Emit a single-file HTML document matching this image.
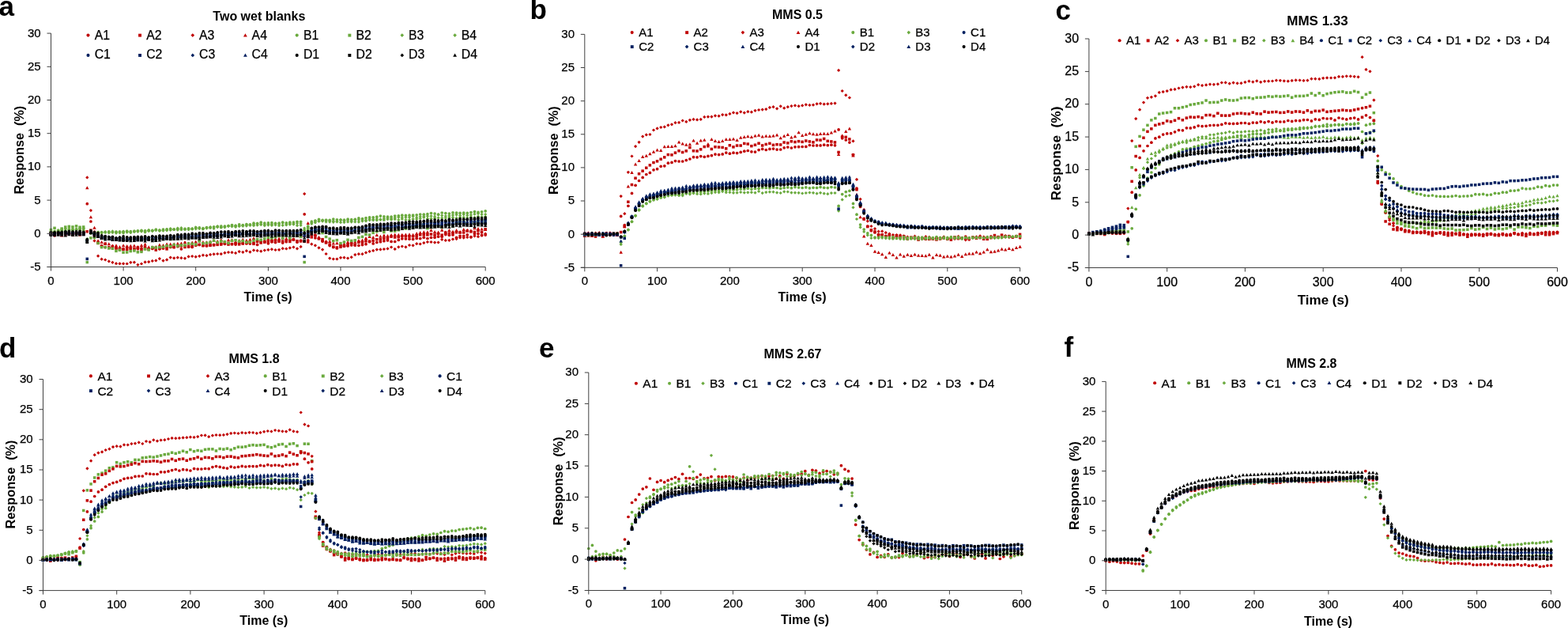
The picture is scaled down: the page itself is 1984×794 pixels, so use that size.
<!DOCTYPE html><html><head><meta charset="utf-8"><title>Response vs time</title><style>html,body{margin:0;padding:0;background:#fff;overflow:hidden}svg{display:block}.r{stroke:#000;stroke-width:0.25px}</style></head><body><svg width="1984" height="794" viewBox="0 0 1984 794" font-family='"Liberation Sans", Arial, Helvetica, sans-serif' fill="#000"><defs><marker id="mcR" markerUnits="userSpaceOnUse" markerWidth="8" markerHeight="8" refX="4" refY="4" overflow="visible"><circle cx="4.0" cy="4.0" r="1.85" fill="#c00000"/></marker><marker id="mcG" markerUnits="userSpaceOnUse" markerWidth="8" markerHeight="8" refX="4" refY="4" overflow="visible"><circle cx="4.0" cy="4.0" r="1.85" fill="#6aaa3e"/></marker><marker id="mcN" markerUnits="userSpaceOnUse" markerWidth="8" markerHeight="8" refX="4" refY="4" overflow="visible"><circle cx="4.0" cy="4.0" r="1.85" fill="#002060"/></marker><marker id="mcK" markerUnits="userSpaceOnUse" markerWidth="8" markerHeight="8" refX="4" refY="4" overflow="visible"><circle cx="4.0" cy="4.0" r="1.85" fill="#000000"/></marker><marker id="msR" markerUnits="userSpaceOnUse" markerWidth="8" markerHeight="8" refX="4" refY="4" overflow="visible"><rect x="2.2" y="2.2" width="3.5" height="3.5" fill="#c00000"/></marker><marker id="msG" markerUnits="userSpaceOnUse" markerWidth="8" markerHeight="8" refX="4" refY="4" overflow="visible"><rect x="2.2" y="2.2" width="3.5" height="3.5" fill="#6aaa3e"/></marker><marker id="msN" markerUnits="userSpaceOnUse" markerWidth="8" markerHeight="8" refX="4" refY="4" overflow="visible"><rect x="2.2" y="2.2" width="3.5" height="3.5" fill="#002060"/></marker><marker id="msK" markerUnits="userSpaceOnUse" markerWidth="8" markerHeight="8" refX="4" refY="4" overflow="visible"><rect x="2.2" y="2.2" width="3.5" height="3.5" fill="#000000"/></marker><marker id="mdR" markerUnits="userSpaceOnUse" markerWidth="8" markerHeight="8" refX="4" refY="4" overflow="visible"><path d="M4.0 1.9L6.1 4.0L4.0 6.1L1.9 4.0Z" fill="#c00000"/></marker><marker id="mdG" markerUnits="userSpaceOnUse" markerWidth="8" markerHeight="8" refX="4" refY="4" overflow="visible"><path d="M4.0 1.9L6.1 4.0L4.0 6.1L1.9 4.0Z" fill="#6aaa3e"/></marker><marker id="mdN" markerUnits="userSpaceOnUse" markerWidth="8" markerHeight="8" refX="4" refY="4" overflow="visible"><path d="M4.0 1.9L6.1 4.0L4.0 6.1L1.9 4.0Z" fill="#002060"/></marker><marker id="mdK" markerUnits="userSpaceOnUse" markerWidth="8" markerHeight="8" refX="4" refY="4" overflow="visible"><path d="M4.0 1.9L6.1 4.0L4.0 6.1L1.9 4.0Z" fill="#000000"/></marker><marker id="mtR" markerUnits="userSpaceOnUse" markerWidth="8" markerHeight="8" refX="4" refY="4" overflow="visible"><path d="M4.0 1.8L6.2 5.8L1.8 5.8Z" fill="#c00000"/></marker><marker id="mtG" markerUnits="userSpaceOnUse" markerWidth="8" markerHeight="8" refX="4" refY="4" overflow="visible"><path d="M4.0 1.8L6.2 5.8L1.8 5.8Z" fill="#6aaa3e"/></marker><marker id="mtN" markerUnits="userSpaceOnUse" markerWidth="8" markerHeight="8" refX="4" refY="4" overflow="visible"><path d="M4.0 1.8L6.2 5.8L1.8 5.8Z" fill="#002060"/></marker><marker id="mtK" markerUnits="userSpaceOnUse" markerWidth="8" markerHeight="8" refX="4" refY="4" overflow="visible"><path d="M4.0 1.8L6.2 5.8L1.8 5.8Z" fill="#000000"/></marker></defs><polyline points="64.5,295.0 69.1,294.5 73.7,295.0 78.2,296.5 82.8,294.5 87.4,294.9 92.0,295.8 96.6,294.8 101.1,295.0 105.7,295.0 110.3,224.4 114.9,266.1 119.5,304.4 124.1,323.7 128.6,327.7 133.2,328.5 137.8,330.4 142.4,331.8 147.0,333.2 151.5,333.3 156.1,333.3 160.7,333.5 165.3,331.8 169.9,331.7 174.4,334.8 179.0,333.5 183.6,331.4 188.2,331.1 192.8,329.9 197.3,329.4 201.9,327.1 206.5,329.6 211.1,328.4 215.7,325.6 220.2,326.3 224.8,325.7 229.4,326.2 234.0,326.7 238.6,324.4 243.2,324.0 247.7,324.7 252.3,323.8 256.9,322.7 261.5,323.1 266.1,321.9 270.6,321.3 275.2,321.0 279.8,321.1 284.4,319.7 289.0,319.0 293.5,319.2 298.1,319.9 302.7,318.1 307.3,318.8 311.9,317.2 316.4,318.6 321.0,316.4 325.6,316.9 330.2,317.7 334.8,316.5 339.4,315.8 343.9,315.2 348.5,316.0 353.1,315.8 357.7,314.2 362.3,314.5 366.8,313.4 371.4,312.5 376.0,314.3 380.6,311.9 385.2,245.1 389.7,303.7 394.3,308.7 398.9,310.3 403.5,313.3 408.1,315.6 412.6,321.0 417.2,326.6 421.8,327.5 426.4,327.5 431.0,325.8 435.5,325.7 440.1,326.5 444.7,325.2 449.3,322.1 453.9,321.2 458.5,321.2 463.0,319.4 467.6,317.9 472.2,316.9 476.8,315.6 481.4,315.4 485.9,315.0 490.5,314.4 495.1,312.5 499.7,314.9 504.3,312.3 508.8,311.5 513.4,312.3 518.0,310.0 522.6,310.3 527.2,308.2 531.7,308.5 536.3,307.1 540.9,305.9 545.5,306.0 550.1,306.6 554.6,306.5 559.2,302.8 563.8,303.9 568.4,303.8 573.0,302.4 577.6,302.1 582.1,300.5 586.7,300.6 591.3,300.0 595.9,300.1 600.5,298.4 605.0,299.2 609.6,297.0 614.2,295.6" fill="none" stroke="none" marker-start="url(#mdR)" marker-mid="url(#mdR)" marker-end="url(#mdR)"/>
<polyline points="64.5,295.1 69.1,295.8 73.7,295.7 78.2,297.8 82.8,293.5 87.4,294.1 92.0,295.6 96.6,294.5 101.1,295.0 105.7,295.9 110.3,237.5 114.9,274.5 119.5,288.0 124.1,304.5 128.6,306.1 133.2,308.1 137.8,308.5 142.4,310.6 147.0,310.5 151.5,312.1 156.1,310.5 160.7,311.1 165.3,311.0 169.9,310.8 174.4,312.2 179.0,310.3 183.6,308.9 188.2,312.5 192.8,312.5 197.3,312.2 201.9,309.6 206.5,310.1 211.1,308.8 215.7,308.7 220.2,308.6 224.8,308.0 229.4,307.8 234.0,306.2 238.6,307.7 243.2,306.6 247.7,305.6 252.3,303.8 256.9,306.2 261.5,306.4 266.1,305.8 270.6,304.1 275.2,305.2 279.8,303.5 284.4,306.7 289.0,303.5 293.5,303.5 298.1,305.9 302.7,304.2 307.3,303.0 311.9,304.0 316.4,302.9 321.0,301.3 325.6,303.2 330.2,303.5 334.8,303.7 339.4,302.0 343.9,302.5 348.5,302.1 353.1,301.6 357.7,300.4 362.3,301.7 366.8,301.7 371.4,302.2 376.0,298.0 380.6,298.6 385.2,297.8 389.7,282.2 394.3,294.4 398.9,297.0 403.5,300.0 408.1,303.3 412.6,305.5 417.2,305.2 421.8,307.6 426.4,307.5 431.0,308.2 435.5,308.4 440.1,306.2 444.7,306.4 449.3,305.9 453.9,304.1 458.5,303.6 463.0,301.2 467.6,299.1 472.2,300.2 476.8,297.2 481.4,298.9 485.9,297.6 490.5,298.3 495.1,297.3 499.7,296.7 504.3,296.9 508.8,296.9 513.4,296.6 518.0,296.4 522.6,296.9 527.2,295.2 531.7,294.3 536.3,293.4 540.9,293.4 545.5,291.2 550.1,293.1 554.6,293.6 559.2,290.9 563.8,293.6 568.4,291.2 573.0,292.9 577.6,291.3 582.1,293.3 586.7,290.1 591.3,290.9 595.9,291.5 600.5,288.5 605.0,289.2 609.6,289.6 614.2,290.1" fill="none" stroke="none" marker-start="url(#mtR)" marker-mid="url(#mtR)" marker-end="url(#mtR)"/>
<polyline points="64.5,293.2 69.1,297.9 73.7,294.9 78.2,295.9 82.8,295.8 87.4,295.5 92.0,297.3 96.6,295.5 101.1,296.2 105.7,291.9 110.3,257.7 114.9,280.0 119.5,293.1 124.1,306.1 128.6,311.1 133.2,312.6 137.8,312.6 142.4,314.0 147.0,313.3 151.5,314.8 156.1,314.7 160.7,313.1 165.3,314.1 169.9,315.1 174.4,314.7 179.0,313.9 183.6,312.4 188.2,314.5 192.8,314.4 197.3,313.0 201.9,314.8 206.5,314.0 211.1,312.5 215.7,312.5 220.2,312.6 224.8,311.7 229.4,314.8 234.0,310.5 238.6,312.1 243.2,312.5 247.7,310.2 252.3,309.5 256.9,310.4 261.5,310.9 266.1,309.5 270.6,309.4 275.2,307.7 279.8,308.2 284.4,308.5 289.0,307.4 293.5,308.6 298.1,309.1 302.7,307.4 307.3,307.2 311.9,307.8 316.4,308.1 321.0,306.9 325.6,309.4 330.2,305.9 334.8,305.9 339.4,307.8 343.9,305.8 348.5,306.6 353.1,304.6 357.7,307.1 362.3,305.7 366.8,303.8 371.4,303.1 376.0,306.2 380.6,304.2 385.2,270.8 389.7,299.5 394.3,297.1 398.9,300.8 403.5,301.4 408.1,305.2 412.6,305.8 417.2,310.6 421.8,312.6 426.4,313.9 431.0,310.5 435.5,311.3 440.1,310.9 444.7,310.0 449.3,310.1 453.9,310.3 458.5,309.6 463.0,308.7 467.6,305.7 472.2,307.9 476.8,306.5 481.4,305.7 485.9,304.7 490.5,304.0 495.1,305.4 499.7,305.5 504.3,303.4 508.8,301.8 513.4,302.0 518.0,302.2 522.6,302.4 527.2,301.4 531.7,301.6 536.3,300.2 540.9,301.5 545.5,300.3 550.1,300.2 554.6,299.2 559.2,299.2 563.8,296.6 568.4,297.3 573.0,297.0 577.6,300.3 582.1,298.3 586.7,298.3 591.3,296.9 595.9,299.5 600.5,295.7 605.0,295.6 609.6,297.7 614.2,297.1" fill="none" stroke="none" marker-start="url(#mcR)" marker-mid="url(#mcR)" marker-end="url(#mcR)"/>
<polyline points="64.5,296.0 69.1,295.5 73.7,293.6 78.2,294.6 82.8,297.0 87.4,295.3 92.0,295.9 96.6,295.1 101.1,296.9 105.7,295.1 110.3,292.8 114.9,291.2 119.5,297.5 124.1,307.4 128.6,311.1 133.2,308.2 137.8,313.5 142.4,311.6 147.0,314.1 151.5,315.3 156.1,315.4 160.7,315.4 165.3,314.3 169.9,314.7 174.4,313.0 179.0,316.3 183.6,314.4 188.2,315.2 192.8,313.3 197.3,316.1 201.9,314.2 206.5,313.5 211.1,314.9 215.7,312.1 220.2,312.6 224.8,311.3 229.4,311.0 234.0,312.5 238.6,311.9 243.2,311.0 247.7,309.7 252.3,309.4 256.9,310.7 261.5,310.4 266.1,310.4 270.6,309.9 275.2,309.4 279.8,309.1 284.4,306.7 289.0,309.1 293.5,308.7 298.1,307.7 302.7,308.9 307.3,308.1 311.9,307.5 316.4,306.6 321.0,308.4 325.6,305.5 330.2,307.0 334.8,306.2 339.4,305.3 343.9,305.2 348.5,304.5 353.1,305.2 357.7,305.1 362.3,304.5 366.8,305.5 371.4,303.0 376.0,304.8 380.6,305.0 385.2,305.4 389.7,305.9 394.3,299.9 398.9,297.7 403.5,301.9 408.1,302.7 412.6,307.0 417.2,309.1 421.8,312.2 426.4,313.0 431.0,312.3 435.5,311.2 440.1,309.7 444.7,307.2 449.3,309.6 453.9,306.3 458.5,306.6 463.0,304.9 467.6,305.2 472.2,304.2 476.8,302.8 481.4,302.8 485.9,301.2 490.5,301.5 495.1,299.2 499.7,300.0 504.3,299.7 508.8,298.5 513.4,298.8 518.0,299.0 522.6,298.8 527.2,298.5 531.7,296.9 536.3,296.8 540.9,296.9 545.5,296.1 550.1,297.1 554.6,295.7 559.2,297.3 563.8,294.1 568.4,295.1 573.0,294.6 577.6,293.8 582.1,294.1 586.7,294.0 591.3,292.1 595.9,292.9 600.5,293.5 605.0,291.8 609.6,293.6 614.2,289.8" fill="none" stroke="none" marker-start="url(#msR)" marker-mid="url(#msR)" marker-end="url(#msR)"/>
<polyline points="64.5,293.2 69.1,292.5 73.7,291.1 78.2,290.1 82.8,289.3 87.4,289.6 92.0,289.8 96.6,289.9 101.1,289.0 105.7,288.4 110.3,305.9 114.9,293.5 119.5,294.2 124.1,293.5 128.6,293.5 133.2,293.8 137.8,292.8 142.4,293.5 147.0,293.1 151.5,293.1 156.1,293.2 160.7,292.4 165.3,292.6 169.9,292.7 174.4,291.8 179.0,291.3 183.6,292.4 188.2,291.2 192.8,291.3 197.3,290.6 201.9,291.0 206.5,290.0 211.1,289.9 215.7,289.9 220.2,290.2 224.8,289.6 229.4,289.9 234.0,289.9 238.6,288.8 243.2,289.4 247.7,287.9 252.3,287.9 256.9,289.2 261.5,287.6 266.1,288.0 270.6,287.0 275.2,286.6 279.8,287.4 284.4,286.0 289.0,285.6 293.5,284.5 298.1,285.4 302.7,283.8 307.3,284.6 311.9,283.8 316.4,283.8 321.0,282.2 325.6,282.5 330.2,281.2 334.8,282.1 339.4,281.9 343.9,281.7 348.5,282.4 353.1,282.0 357.7,281.0 362.3,281.8 366.8,281.2 371.4,281.1 376.0,280.3 380.6,280.3 385.2,291.1 389.7,286.9 394.3,280.0 398.9,279.2 403.5,277.3 408.1,278.3 412.6,278.3 417.2,278.3 421.8,277.0 426.4,277.8 431.0,278.1 435.5,278.2 440.1,277.1 444.7,277.7 449.3,277.4 453.9,275.9 458.5,276.5 463.0,275.5 467.6,274.9 472.2,274.8 476.8,274.2 481.4,273.1 485.9,273.9 490.5,274.1 495.1,274.2 499.7,273.0 504.3,272.8 508.8,272.2 513.4,272.4 518.0,272.2 522.6,272.1 527.2,271.8 531.7,271.1 536.3,271.2 540.9,270.7 545.5,269.5 550.1,270.1 554.6,271.1 559.2,269.0 563.8,269.6 568.4,270.1 573.0,268.9 577.6,269.2 582.1,269.4 586.7,269.2 591.3,269.3 595.9,268.5 600.5,267.7 605.0,268.4 609.6,267.8 614.2,266.8" fill="none" stroke="none" marker-start="url(#mcG)" marker-mid="url(#mcG)" marker-end="url(#mcG)"/>
<polyline points="64.5,290.6 69.1,288.4 73.7,292.9 78.2,289.1 82.8,287.1 87.4,286.4 92.0,287.0 96.6,285.9 101.1,287.3 105.7,287.0 110.3,331.6 114.9,300.9 119.5,300.6 124.1,307.5 128.6,312.7 133.2,312.7 137.8,313.9 142.4,314.3 147.0,317.4 151.5,316.2 156.1,319.2 160.7,319.0 165.3,317.6 169.9,317.0 174.4,318.8 179.0,318.4 183.6,315.1 188.2,316.0 192.8,312.7 197.3,313.1 201.9,312.6 206.5,312.2 211.1,310.8 215.7,311.6 220.2,309.5 224.8,311.0 229.4,310.1 234.0,310.1 238.6,308.0 243.2,308.3 247.7,309.1 252.3,305.1 256.9,307.8 261.5,307.2 266.1,306.3 270.6,304.3 275.2,306.5 279.8,305.1 284.4,305.7 289.0,307.4 293.5,304.4 298.1,303.8 302.7,305.2 307.3,304.7 311.9,306.3 316.4,306.0 321.0,304.2 325.6,302.6 330.2,303.5 334.8,302.0 339.4,300.5 343.9,301.0 348.5,299.8 353.1,298.2 357.7,301.1 362.3,298.2 366.8,301.2 371.4,298.1 376.0,298.4 380.6,299.4 385.2,331.6 389.7,291.1 394.3,291.6 398.9,291.6 403.5,294.5 408.1,294.6 412.6,299.5 417.2,302.1 421.8,304.7 426.4,303.7 431.0,307.7 435.5,306.1 440.1,303.3 444.7,304.5 449.3,303.9 453.9,300.4 458.5,299.4 463.0,296.4 467.6,297.1 472.2,294.4 476.8,292.8 481.4,291.5 485.9,293.5 490.5,289.7 495.1,292.0 499.7,292.2 504.3,290.9 508.8,289.0 513.4,289.1 518.0,287.6 522.6,287.1 527.2,286.8 531.7,287.1 536.3,284.0 540.9,288.7 545.5,287.6 550.1,285.6 554.6,286.1 559.2,287.4 563.8,284.7 568.4,284.3 573.0,286.0 577.6,281.5 582.1,280.6 586.7,280.3 591.3,282.2 595.9,281.0 600.5,282.3 605.0,280.4 609.6,281.2 614.2,279.6" fill="none" stroke="none" marker-start="url(#msG)" marker-mid="url(#msG)" marker-end="url(#msG)"/>
<polyline points="64.5,293.6 69.1,292.7 73.7,292.4 78.2,292.4 82.8,291.8 87.4,291.9 92.0,291.1 96.6,290.3 101.1,291.4 105.7,291.4 110.3,303.7 114.9,295.1 119.5,295.2 124.1,295.8 128.6,294.5 133.2,293.2 137.8,294.4 142.4,293.9 147.0,294.7 151.5,294.4 156.1,294.7 160.7,293.7 165.3,294.2 169.9,293.0 174.4,292.8 179.0,292.7 183.6,293.7 188.2,292.2 192.8,291.6 197.3,291.2 201.9,292.0 206.5,291.2 211.1,291.3 215.7,291.0 220.2,289.8 224.8,290.7 229.4,290.1 234.0,289.4 238.6,290.1 243.2,289.7 247.7,289.3 252.3,289.1 256.9,289.6 261.5,288.6 266.1,287.6 270.6,289.0 275.2,287.2 279.8,287.3 284.4,287.5 289.0,285.6 293.5,286.0 298.1,286.9 302.7,285.9 307.3,285.4 311.9,285.6 316.4,284.9 321.0,285.2 325.6,284.7 330.2,284.1 334.8,285.2 339.4,284.6 343.9,284.9 348.5,284.5 353.1,285.2 357.7,284.8 362.3,284.5 366.8,283.8 371.4,283.7 376.0,285.1 380.6,284.8 385.2,291.1 389.7,288.4 394.3,282.9 398.9,281.4 403.5,279.7 408.1,279.7 412.6,280.4 417.2,280.6 421.8,280.8 426.4,280.0 431.0,281.2 435.5,281.1 440.1,280.5 444.7,280.6 449.3,280.4 453.9,280.6 458.5,279.6 463.0,279.5 467.6,278.3 472.2,278.3 476.8,278.4 481.4,277.8 485.9,278.2 490.5,277.2 495.1,277.7 499.7,277.2 504.3,278.1 508.8,277.0 513.4,278.0 518.0,278.1 522.6,276.9 527.2,277.1 531.7,276.3 536.3,275.0 540.9,276.6 545.5,276.4 550.1,275.8 554.6,275.4 559.2,275.7 563.8,275.6 568.4,274.9 573.0,274.9 577.6,275.7 582.1,275.0 586.7,274.8 591.3,275.4 595.9,274.5 600.5,275.0 605.0,273.8 609.6,274.2 614.2,274.1" fill="none" stroke="none" marker-start="url(#mdG)" marker-mid="url(#mdG)" marker-end="url(#mdG)"/>
<polyline points="64.5,293.8 69.1,292.8 73.7,292.2 78.2,291.2 82.8,292.0 87.4,290.6 92.0,290.9 96.6,289.7 101.1,289.7 105.7,289.4 110.3,302.1 114.9,294.5 119.5,294.8 124.1,293.6 128.6,294.3 133.2,293.3 137.8,293.4 142.4,292.4 147.0,293.6 151.5,293.1 156.1,292.6 160.7,292.4 165.3,293.4 169.9,292.0 174.4,292.0 179.0,291.9 183.6,291.6 188.2,291.2 192.8,292.2 197.3,290.0 201.9,291.2 206.5,291.7 211.1,290.2 215.7,289.1 220.2,290.0 224.8,288.5 229.4,288.2 234.0,289.4 238.6,290.1 243.2,289.1 247.7,287.4 252.3,288.4 256.9,288.5 261.5,288.2 266.1,287.1 270.6,286.9 275.2,286.1 279.8,285.8 284.4,286.6 289.0,285.9 293.5,286.3 298.1,285.3 302.7,285.8 307.3,285.6 311.9,283.5 316.4,284.5 321.0,283.9 325.6,282.6 330.2,283.5 334.8,283.8 339.4,283.5 343.9,283.8 348.5,282.5 353.1,283.2 357.7,281.8 362.3,283.0 366.8,282.9 371.4,282.9 376.0,282.3 380.6,282.5 385.2,288.5 389.7,285.9 394.3,281.6 398.9,279.4 403.5,279.7 408.1,278.9 412.6,278.3 417.2,278.9 421.8,279.6 426.4,280.5 431.0,277.9 435.5,279.0 440.1,278.3 444.7,279.2 449.3,277.5 453.9,278.0 458.5,278.0 463.0,278.2 467.6,277.1 472.2,277.3 476.8,276.9 481.4,277.4 485.9,276.5 490.5,275.8 495.1,276.4 499.7,275.4 504.3,274.8 508.8,275.1 513.4,275.0 518.0,274.8 522.6,273.6 527.2,274.9 531.7,274.0 536.3,273.8 540.9,273.3 545.5,273.2 550.1,273.7 554.6,271.6 559.2,272.5 563.8,273.2 568.4,272.8 573.0,272.0 577.6,271.6 582.1,272.6 586.7,271.2 591.3,272.3 595.9,271.8 600.5,270.7 605.0,270.1 609.6,271.0 614.2,271.0" fill="none" stroke="none" marker-start="url(#mdG)" marker-mid="url(#mdG)" marker-end="url(#mdG)"/>
<polyline points="64.5,296.0 69.1,295.5 73.7,295.3 78.2,294.5 82.8,294.7 87.4,294.5 92.0,294.0 96.6,294.0 101.1,294.2 105.7,294.7 110.3,304.2 114.9,293.2 119.5,295.5 124.1,297.9 128.6,300.0 133.2,301.0 137.8,300.6 142.4,302.2 147.0,301.5 151.5,301.3 156.1,302.2 160.7,302.3 165.3,302.0 169.9,301.1 174.4,301.4 179.0,302.3 183.6,301.3 188.2,300.3 192.8,300.1 197.3,300.2 201.9,300.5 206.5,301.3 211.1,299.9 215.7,299.8 220.2,299.4 224.8,298.3 229.4,298.8 234.0,298.5 238.6,298.0 243.2,298.2 247.7,298.2 252.3,298.0 256.9,296.9 261.5,296.8 266.1,297.1 270.6,295.9 275.2,296.2 279.8,296.8 284.4,295.4 289.0,295.6 293.5,296.1 298.1,294.8 302.7,295.1 307.3,295.0 311.9,294.3 316.4,295.8 321.0,295.2 325.6,294.7 330.2,294.2 334.8,294.7 339.4,294.9 343.9,294.9 348.5,294.3 353.1,293.8 357.7,295.1 362.3,295.4 366.8,294.3 371.4,294.3 376.0,294.4 380.6,293.3 385.2,297.0 389.7,295.3 394.3,291.3 398.9,289.8 403.5,289.8 408.1,290.2 412.6,290.0 417.2,291.5 421.8,291.3 426.4,291.8 431.0,291.6 435.5,291.1 440.1,291.2 444.7,291.1 449.3,290.8 453.9,288.6 458.5,288.4 463.0,289.3 467.6,288.4 472.2,286.9 476.8,287.2 481.4,286.5 485.9,285.7 490.5,285.8 495.1,285.6 499.7,285.5 504.3,285.0 508.8,284.5 513.4,283.4 518.0,283.5 522.6,284.0 527.2,283.1 531.7,283.3 536.3,284.0 540.9,282.9 545.5,282.0 550.1,282.7 554.6,281.6 559.2,282.1 563.8,281.6 568.4,282.1 573.0,279.9 577.6,280.7 582.1,280.1 586.7,280.8 591.3,281.1 595.9,279.3 600.5,280.3 605.0,278.7 609.6,279.6 614.2,278.3" fill="none" stroke="none" marker-start="url(#mcN)" marker-mid="url(#mcN)" marker-end="url(#mcN)"/>
<polyline points="64.5,296.1 69.1,295.1 73.7,295.0 78.2,295.9 82.8,295.7 87.4,295.8 92.0,295.1 96.6,295.5 101.1,295.0 105.7,296.5 110.3,327.4 114.9,293.8 119.5,295.9 124.1,298.9 128.6,300.7 133.2,301.1 137.8,301.4 142.4,302.4 147.0,302.6 151.5,302.3 156.1,303.3 160.7,303.6 165.3,302.5 169.9,303.0 174.4,303.6 179.0,302.9 183.6,302.5 188.2,302.8 192.8,302.8 197.3,301.8 201.9,301.1 206.5,301.6 211.1,301.7 215.7,300.8 220.2,300.4 224.8,300.7 229.4,299.9 234.0,299.4 238.6,299.8 243.2,299.9 247.7,299.0 252.3,298.9 256.9,298.1 261.5,299.3 266.1,298.7 270.6,298.5 275.2,298.8 279.8,297.5 284.4,297.0 289.0,297.5 293.5,296.1 298.1,296.2 302.7,296.1 307.3,296.1 311.9,295.7 316.4,296.9 321.0,295.7 325.6,295.7 330.2,297.1 334.8,295.8 339.4,296.1 343.9,295.5 348.5,296.2 353.1,296.0 357.7,295.7 362.3,296.4 366.8,295.5 371.4,295.9 376.0,295.4 380.6,295.7 385.2,324.4 389.7,299.5 394.3,293.0 398.9,291.6 403.5,290.7 408.1,290.2 412.6,292.8 417.2,292.4 421.8,293.2 426.4,293.5 431.0,294.1 435.5,292.6 440.1,293.9 444.7,292.4 449.3,291.5 453.9,292.6 458.5,291.2 463.0,291.2 467.6,289.7 472.2,288.5 476.8,287.8 481.4,289.7 485.9,288.7 490.5,287.6 495.1,286.8 499.7,287.2 504.3,287.6 508.8,286.7 513.4,286.7 518.0,286.5 522.6,286.6 527.2,285.7 531.7,285.5 536.3,285.5 540.9,285.3 545.5,285.7 550.1,285.0 554.6,283.8 559.2,284.4 563.8,284.9 568.4,283.0 573.0,283.3 577.6,282.1 582.1,283.1 586.7,283.2 591.3,283.6 595.9,281.8 600.5,280.8 605.0,282.6 609.6,282.4 614.2,281.4" fill="none" stroke="none" marker-start="url(#msN)" marker-mid="url(#msN)" marker-end="url(#msN)"/>
<polyline points="64.5,294.9 69.1,294.0 73.7,294.0 78.2,293.8 82.8,293.2 87.4,294.8 92.0,294.4 96.6,294.8 101.1,294.0 105.7,293.4 110.3,303.7 114.9,292.0 119.5,295.9 124.1,297.2 128.6,299.4 133.2,298.8 137.8,299.7 142.4,300.0 147.0,300.9 151.5,300.7 156.1,300.7 160.7,301.2 165.3,301.3 169.9,301.0 174.4,301.1 179.0,301.0 183.6,300.6 188.2,300.7 192.8,299.6 197.3,300.9 201.9,299.2 206.5,299.9 211.1,299.6 215.7,299.9 220.2,298.9 224.8,298.7 229.4,298.1 234.0,298.2 238.6,297.6 243.2,296.3 247.7,296.9 252.3,297.2 256.9,296.1 261.5,296.4 266.1,295.7 270.6,295.5 275.2,295.8 279.8,296.4 284.4,295.3 289.0,294.5 293.5,294.8 298.1,294.1 302.7,293.6 307.3,294.3 311.9,293.1 316.4,292.8 321.0,293.0 325.6,292.9 330.2,292.9 334.8,292.2 339.4,293.4 343.9,293.4 348.5,293.1 353.1,293.9 357.7,294.3 362.3,293.8 366.8,293.0 371.4,292.9 376.0,293.9 380.6,293.8 385.2,296.1 389.7,294.4 394.3,290.2 398.9,288.8 403.5,287.9 408.1,288.3 412.6,288.6 417.2,290.6 421.8,291.2 426.4,290.4 431.0,290.1 435.5,290.0 440.1,289.8 444.7,289.3 449.3,288.7 453.9,289.6 458.5,288.4 463.0,287.1 467.6,286.4 472.2,287.1 476.8,285.1 481.4,285.7 485.9,285.2 490.5,284.6 495.1,284.0 499.7,285.0 504.3,283.3 508.8,283.6 513.4,283.8 518.0,283.2 522.6,284.1 527.2,282.9 531.7,282.1 536.3,282.4 540.9,281.9 545.5,281.5 550.1,281.2 554.6,280.3 559.2,280.7 563.8,280.6 568.4,279.9 573.0,278.7 577.6,279.9 582.1,279.2 586.7,280.2 591.3,278.3 595.9,278.4 600.5,277.8 605.0,278.4 609.6,278.8 614.2,277.5" fill="none" stroke="none" marker-start="url(#mdN)" marker-mid="url(#mdN)" marker-end="url(#mdN)"/>
<polyline points="64.5,294.6 69.1,297.3 73.7,294.7 78.2,295.1 82.8,294.3 87.4,294.8 92.0,293.9 96.6,294.9 101.1,295.2 105.7,294.6 110.3,304.7 114.9,293.5 119.5,296.0 124.1,297.9 128.6,299.5 133.2,301.2 137.8,301.5 142.4,302.8 147.0,301.0 151.5,302.3 156.1,301.4 160.7,301.9 165.3,301.0 169.9,301.1 174.4,301.7 179.0,300.9 183.6,302.2 188.2,300.7 192.8,302.2 197.3,301.0 201.9,300.4 206.5,300.7 211.1,300.8 215.7,300.8 220.2,300.3 224.8,299.2 229.4,299.0 234.0,299.5 238.6,299.8 243.2,298.4 247.7,299.4 252.3,298.6 256.9,298.5 261.5,297.4 266.1,297.4 270.6,297.0 275.2,296.9 279.8,297.2 284.4,296.2 289.0,295.5 293.5,296.1 298.1,295.5 302.7,295.8 307.3,295.0 311.9,295.0 316.4,294.8 321.0,295.1 325.6,294.3 330.2,295.4 334.8,295.4 339.4,295.5 343.9,294.8 348.5,295.5 353.1,295.5 357.7,294.6 362.3,294.4 366.8,294.7 371.4,296.5 376.0,295.3 380.6,295.2 385.2,297.9 389.7,296.2 394.3,290.9 398.9,291.3 403.5,291.0 408.1,289.9 412.6,290.9 417.2,291.8 421.8,292.9 426.4,292.5 431.0,292.2 435.5,293.5 440.1,293.1 444.7,291.1 449.3,290.7 453.9,290.9 458.5,290.6 463.0,289.5 467.6,289.5 472.2,288.5 476.8,286.9 481.4,287.5 485.9,286.6 490.5,287.1 495.1,286.4 499.7,285.5 504.3,286.9 508.8,286.0 513.4,285.6 518.0,285.1 522.6,284.1 527.2,284.4 531.7,285.4 536.3,284.4 540.9,284.6 545.5,284.3 550.1,282.3 554.6,283.9 559.2,282.9 563.8,283.2 568.4,282.1 573.0,282.2 577.6,282.1 582.1,282.0 586.7,281.0 591.3,282.1 595.9,281.7 600.5,281.8 605.0,280.1 609.6,280.9 614.2,281.1" fill="none" stroke="none" marker-start="url(#mtN)" marker-mid="url(#mtN)" marker-end="url(#mtN)"/>
<polyline points="64.5,293.6 69.1,294.3 73.7,294.4 78.2,295.0 82.8,293.4 87.4,292.4 92.0,293.0 96.6,292.7 101.1,292.4 105.7,293.5 110.3,302.7 114.9,291.8 119.5,293.6 124.1,294.7 128.6,297.9 133.2,298.7 137.8,299.5 142.4,299.3 147.0,301.0 151.5,300.3 156.1,298.9 160.7,299.8 165.3,300.0 169.9,299.5 174.4,299.4 179.0,299.4 183.6,298.9 188.2,300.0 192.8,298.5 197.3,299.1 201.9,298.0 206.5,298.3 211.1,298.6 215.7,297.8 220.2,298.1 224.8,296.6 229.4,296.9 234.0,296.1 238.6,296.9 243.2,295.0 247.7,295.9 252.3,294.7 256.9,294.7 261.5,295.6 266.1,294.4 270.6,294.7 275.2,293.8 279.8,293.0 284.4,293.1 289.0,292.7 293.5,293.7 298.1,292.7 302.7,292.4 307.3,291.8 311.9,292.6 316.4,291.8 321.0,291.8 325.6,292.8 330.2,292.5 334.8,291.6 339.4,292.5 343.9,292.5 348.5,291.2 353.1,291.5 357.7,291.8 362.3,291.5 366.8,291.7 371.4,291.7 376.0,291.4 380.6,290.7 385.2,294.2 389.7,292.5 394.3,288.3 398.9,287.4 403.5,287.5 408.1,286.4 412.6,286.6 417.2,288.6 421.8,288.1 426.4,288.9 431.0,287.9 435.5,287.7 440.1,288.3 444.7,288.9 449.3,287.4 453.9,287.4 458.5,286.7 463.0,285.4 467.6,283.9 472.2,284.2 476.8,283.8 481.4,284.4 485.9,283.3 490.5,283.5 495.1,282.0 499.7,282.3 504.3,281.7 508.8,281.4 513.4,281.2 518.0,280.3 522.6,280.2 527.2,280.4 531.7,279.9 536.3,279.4 540.9,278.6 545.5,279.1 550.1,278.0 554.6,278.9 559.2,278.5 563.8,278.9 568.4,277.3 573.0,278.2 577.6,277.9 582.1,276.6 586.7,277.1 591.3,277.0 595.9,275.8 600.5,276.2 605.0,275.4 609.6,275.9 614.2,275.0" fill="none" stroke="none" marker-start="url(#mcK)" marker-mid="url(#mcK)" marker-end="url(#mcK)"/>
<polyline points="64.5,297.4 69.1,296.9 73.7,296.0 78.2,296.4 82.8,295.7 87.4,295.5 92.0,296.8 96.6,295.3 101.1,296.3 105.7,294.7 110.3,305.6 114.9,294.6 119.5,296.7 124.1,299.2 128.6,300.8 133.2,301.1 137.8,302.1 142.4,301.8 147.0,302.7 151.5,303.4 156.1,304.2 160.7,304.2 165.3,303.1 169.9,302.8 174.4,302.2 179.0,303.3 183.6,302.8 188.2,303.2 192.8,302.8 197.3,303.8 201.9,301.8 206.5,302.5 211.1,301.9 215.7,301.4 220.2,301.2 224.8,302.0 229.4,300.0 234.0,300.2 238.6,300.1 243.2,300.6 247.7,300.9 252.3,300.7 256.9,299.6 261.5,299.2 266.1,299.4 270.6,297.7 275.2,298.3 279.8,297.7 284.4,297.5 289.0,298.5 293.5,297.0 298.1,297.2 302.7,298.0 307.3,296.7 311.9,296.4 316.4,296.4 321.0,296.3 325.6,297.7 330.2,297.0 334.8,297.2 339.4,296.8 343.9,296.8 348.5,296.2 353.1,296.4 357.7,297.3 362.3,296.3 366.8,295.8 371.4,296.6 376.0,297.5 380.6,296.7 385.2,305.0 389.7,298.1 394.3,293.9 398.9,293.7 403.5,291.9 408.1,291.8 412.6,292.8 417.2,294.6 421.8,294.2 426.4,294.8 431.0,294.9 435.5,293.7 440.1,294.6 444.7,294.5 449.3,292.8 453.9,291.6 458.5,291.1 463.0,291.0 467.6,289.7 472.2,290.6 476.8,288.7 481.4,288.5 485.9,289.6 490.5,288.8 495.1,289.6 499.7,289.1 504.3,287.9 508.8,288.7 513.4,287.6 518.0,287.3 522.6,287.2 527.2,286.5 531.7,285.6 536.3,286.5 540.9,285.7 545.5,285.2 550.1,286.1 554.6,286.0 559.2,286.8 563.8,284.9 568.4,284.4 573.0,284.5 577.6,283.3 582.1,283.4 586.7,283.7 591.3,284.0 595.9,284.3 600.5,283.5 605.0,283.1 609.6,283.3 614.2,283.2" fill="none" stroke="none" marker-start="url(#msK)" marker-mid="url(#msK)" marker-end="url(#msK)"/>
<polyline points="64.5,294.8 69.1,293.8 73.7,293.3 78.2,293.2 82.8,292.6 87.4,293.8 92.0,293.2 96.6,293.7 101.1,294.3 105.7,293.9 110.3,303.2 114.9,292.3 119.5,294.4 124.1,296.1 128.6,298.0 133.2,299.0 137.8,299.5 142.4,300.2 147.0,301.4 151.5,299.9 156.1,301.4 160.7,300.4 165.3,300.5 169.9,300.2 174.4,300.0 179.0,300.2 183.6,299.3 188.2,300.4 192.8,299.0 197.3,300.3 201.9,298.4 206.5,299.2 211.1,298.4 215.7,297.5 220.2,299.4 224.8,298.0 229.4,297.2 234.0,296.7 238.6,296.2 243.2,296.3 247.7,296.1 252.3,296.1 256.9,295.8 261.5,295.6 266.1,294.8 270.6,295.0 275.2,294.4 279.8,293.6 284.4,293.6 289.0,294.2 293.5,293.9 298.1,293.2 302.7,293.8 307.3,294.3 311.9,293.6 316.4,292.6 321.0,292.9 325.6,293.0 330.2,292.3 334.8,293.3 339.4,291.3 343.9,292.6 348.5,292.7 353.1,291.3 357.7,293.1 362.3,292.7 366.8,292.4 371.4,292.8 376.0,292.3 380.6,291.5 385.2,295.2 389.7,293.5 394.3,288.6 398.9,287.1 403.5,286.8 408.1,288.7 412.6,287.2 417.2,288.6 421.8,289.3 426.4,290.1 431.0,289.8 435.5,289.5 440.1,289.9 444.7,288.0 449.3,287.7 453.9,287.6 458.5,287.5 463.0,285.5 467.6,285.3 472.2,284.6 476.8,285.0 481.4,283.0 485.9,284.1 490.5,282.5 495.1,284.6 499.7,282.9 504.3,282.7 508.8,284.0 513.4,282.6 518.0,282.7 522.6,282.5 527.2,281.8 531.7,281.8 536.3,280.6 540.9,280.3 545.5,280.1 550.1,280.5 554.6,280.1 559.2,278.5 563.8,279.5 568.4,279.0 573.0,279.1 577.6,278.2 582.1,277.8 586.7,277.6 591.3,277.6 595.9,277.2 600.5,277.5 605.0,276.8 609.6,277.5 614.2,276.7" fill="none" stroke="none" marker-start="url(#mdK)" marker-mid="url(#mdK)" marker-end="url(#mdK)"/>
<polyline points="64.5,296.3 69.1,296.6 73.7,297.0 78.2,297.3 82.8,297.6 87.4,296.4 92.0,296.9 96.6,296.9 101.1,296.5 105.7,296.4 110.3,306.1 114.9,294.2 119.5,298.5 124.1,298.8 128.6,301.1 133.2,302.8 137.8,302.2 142.4,303.3 147.0,303.2 151.5,303.8 156.1,303.2 160.7,303.2 165.3,304.4 169.9,304.1 174.4,303.5 179.0,303.7 183.6,304.8 188.2,302.1 192.8,304.5 197.3,304.3 201.9,303.6 206.5,302.4 211.1,301.5 215.7,302.5 220.2,302.3 224.8,301.8 229.4,301.8 234.0,301.3 238.6,301.8 243.2,300.6 247.7,300.4 252.3,301.9 256.9,300.3 261.5,299.9 266.1,299.4 270.6,300.0 275.2,300.1 279.8,299.6 284.4,298.5 289.0,299.1 293.5,298.8 298.1,297.5 302.7,298.5 307.3,298.5 311.9,297.9 316.4,297.6 321.0,297.1 325.6,298.2 330.2,298.6 334.8,297.8 339.4,297.3 343.9,298.6 348.5,298.0 353.1,297.5 357.7,297.5 362.3,297.6 366.8,297.8 371.4,298.1 376.0,298.0 380.6,296.6 385.2,300.6 389.7,299.0 394.3,295.6 398.9,292.2 403.5,294.4 408.1,292.2 412.6,294.3 417.2,294.9 421.8,295.4 426.4,295.8 431.0,294.1 435.5,295.3 440.1,295.9 444.7,294.3 449.3,293.8 453.9,294.4 458.5,292.8 463.0,292.5 467.6,291.5 472.2,291.0 476.8,291.1 481.4,291.0 485.9,289.9 490.5,290.0 495.1,290.8 499.7,289.9 504.3,289.7 508.8,289.3 513.4,287.5 518.0,288.9 522.6,288.1 527.2,287.2 531.7,287.6 536.3,287.5 540.9,286.7 545.5,287.1 550.1,286.9 554.6,286.4 559.2,286.4 563.8,286.8 568.4,286.9 573.0,286.0 577.6,285.0 582.1,285.7 586.7,284.7 591.3,285.0 595.9,285.2 600.5,286.4 605.0,284.5 609.6,284.7 614.2,285.3" fill="none" stroke="none" marker-start="url(#mtK)" marker-mid="url(#mtK)" marker-end="url(#mtK)"/>
<path d="M64.5 42.1V342.5M59.5 337.5H614.2" stroke="#404040" stroke-width="1" fill="none"/>
<path d="M59.5 337.5H64.5M59.5 295.3H64.5M59.5 253.1H64.5M59.5 210.9H64.5M59.5 168.7H64.5M59.5 126.5H64.5M59.5 84.3H64.5M59.5 42.1H64.5M156.1 337.5V342.5M247.7 337.5V342.5M339.4 337.5V342.5M431.0 337.5V342.5M522.6 337.5V342.5M614.2 337.5V342.5" stroke="#404040" stroke-width="1" fill="none"/>
<text x="51.7" y="341.9" font-size="15" text-anchor="end" class="r">-5</text>
<text x="51.7" y="299.7" font-size="15" text-anchor="end" class="r">0</text>
<text x="51.7" y="257.5" font-size="15" text-anchor="end" class="r">5</text>
<text x="51.7" y="215.3" font-size="15" text-anchor="end" class="r">10</text>
<text x="51.7" y="173.1" font-size="15" text-anchor="end" class="r">15</text>
<text x="51.7" y="130.9" font-size="15" text-anchor="end" class="r">20</text>
<text x="51.7" y="88.7" font-size="15" text-anchor="end" class="r">25</text>
<text x="51.7" y="46.5" font-size="15" text-anchor="end" class="r">30</text>
<text x="64.5" y="359.9" font-size="15" text-anchor="middle" class="r">0</text>
<text x="156.1" y="359.9" font-size="15" text-anchor="middle" class="r">100</text>
<text x="247.7" y="359.9" font-size="15" text-anchor="middle" class="r">200</text>
<text x="339.4" y="359.9" font-size="15" text-anchor="middle" class="r">300</text>
<text x="431.0" y="359.9" font-size="15" text-anchor="middle" class="r">400</text>
<text x="522.6" y="359.9" font-size="15" text-anchor="middle" class="r">500</text>
<text x="614.2" y="359.9" font-size="15" text-anchor="middle" class="r">600</text>
<text x="339.1" y="381" font-size="16" font-weight="bold" text-anchor="middle">Time (s)</text>
<text transform="translate(29.9,189.7) rotate(-90)" font-size="16.24" font-weight="bold" text-anchor="middle" xml:space="preserve">Response  (%)</text>
<text x="327.9" y="26.2" font-size="16" font-weight="bold" text-anchor="middle">Two wet blanks</text>
<text x="-1.4" y="20" font-size="35" font-weight="bold">a</text>
<circle cx="111.5" cy="44.6" r="2.04" fill="#c00000"/>
<text x="119.7" y="49.8" font-size="15.8" class="r">A1</text>
<rect x="175.1" y="42.7" width="3.9" height="3.9" fill="#c00000"/>
<text x="185.2" y="49.8" font-size="15.8" class="r">A2</text>
<path d="M243.8 42.3L246.1 44.6L243.8 46.9L241.5 44.6Z" fill="#c00000"/>
<text x="252.0" y="49.8" font-size="15.8" class="r">A3</text>
<path d="M310.4 42.2L312.8 46.5L308.0 46.5Z" fill="#c00000"/>
<text x="318.6" y="49.8" font-size="15.8" class="r">A4</text>
<circle cx="375.7" cy="44.6" r="2.04" fill="#6aaa3e"/>
<text x="383.9" y="49.8" font-size="15.8" class="r">B1</text>
<rect x="440.4" y="42.7" width="3.9" height="3.9" fill="#6aaa3e"/>
<text x="450.5" y="49.8" font-size="15.8" class="r">B2</text>
<path d="M508.8 42.3L511.1 44.6L508.8 46.9L506.5 44.6Z" fill="#6aaa3e"/>
<text x="517.0" y="49.8" font-size="15.8" class="r">B3</text>
<path d="M575.6 42.3L577.9 44.6L575.6 46.9L573.3 44.6Z" fill="#6aaa3e"/>
<text x="583.8" y="49.8" font-size="15.8" class="r">B4</text>
<circle cx="111.5" cy="69.9" r="2.04" fill="#002060"/>
<text x="119.7" y="74.3" font-size="15.8" class="r">C1</text>
<rect x="175.1" y="68.0" width="3.9" height="3.9" fill="#002060"/>
<text x="185.2" y="74.3" font-size="15.8" class="r">C2</text>
<path d="M243.8 67.6L246.1 69.9L243.8 72.2L241.5 69.9Z" fill="#002060"/>
<text x="252.0" y="74.3" font-size="15.8" class="r">C3</text>
<path d="M310.4 67.5L312.8 71.8L308.0 71.8Z" fill="#002060"/>
<text x="318.6" y="74.3" font-size="15.8" class="r">C4</text>
<circle cx="375.7" cy="69.9" r="2.04" fill="#000000"/>
<text x="383.9" y="74.3" font-size="15.8" class="r">D1</text>
<rect x="440.4" y="68.0" width="3.9" height="3.9" fill="#000000"/>
<text x="450.5" y="74.3" font-size="15.8" class="r">D2</text>
<path d="M508.8 67.6L511.1 69.9L508.8 72.2L506.5 69.9Z" fill="#000000"/>
<text x="517.0" y="74.3" font-size="15.8" class="r">D3</text>
<path d="M575.6 67.5L578.0 71.8L573.2 71.8Z" fill="#000000"/>
<text x="583.8" y="74.3" font-size="15.8" class="r">D4</text>
<polyline points="739.8,295.8 744.4,294.6 749.0,298.0 753.6,294.5 758.2,296.2 762.8,297.0 767.3,297.0 771.9,297.3 776.5,296.4 781.1,295.3 785.7,248.1 790.3,270.2 794.9,217.8 799.5,197.5 804.1,185.1 808.6,179.8 813.2,172.6 817.8,170.4 822.4,170.0 827.0,164.5 831.6,162.4 836.2,161.0 840.8,160.4 845.4,158.3 850.0,157.3 854.5,155.2 859.1,154.9 863.7,152.5 868.3,153.9 872.9,151.8 877.5,150.9 882.1,151.4 886.7,150.9 891.3,147.9 895.9,147.7 900.4,147.6 905.0,146.3 909.6,146.7 914.2,145.1 918.8,145.3 923.4,143.9 928.0,142.4 932.6,143.1 937.2,141.3 941.8,142.6 946.3,141.2 950.9,141.7 955.5,139.8 960.1,139.0 964.7,138.6 969.3,138.1 973.9,135.9 978.5,135.2 983.1,137.3 987.7,134.3 992.2,136.7 996.8,135.2 1001.4,134.1 1006.0,133.4 1010.6,134.2 1015.2,133.4 1019.8,132.3 1024.4,132.9 1029.0,132.7 1033.6,131.3 1038.1,130.9 1042.7,131.7 1047.3,131.3 1051.9,130.9 1056.5,130.6 1061.1,88.9 1065.7,115.0 1070.3,120.3 1074.9,123.5 1079.5,178.4 1084.0,226.9 1088.6,251.8 1093.2,265.2 1097.8,279.6 1102.4,286.0 1107.0,289.2 1111.6,292.7 1116.2,292.4 1120.8,294.2 1125.4,295.5 1129.9,297.1 1134.5,297.0 1139.1,297.3 1143.7,298.4 1148.3,299.6 1152.9,301.2 1157.5,298.7 1162.1,300.2 1166.7,300.8 1171.3,299.2 1175.8,299.8 1180.4,301.7 1185.0,300.4 1189.6,300.6 1194.2,299.4 1198.8,302.3 1203.4,300.8 1208.0,300.5 1212.6,298.9 1217.2,301.4 1221.8,303.3 1226.3,301.7 1230.9,300.0 1235.5,299.4 1240.1,298.4 1244.7,299.6 1249.3,300.8 1253.9,299.0 1258.5,299.8 1263.1,299.8 1267.6,299.5 1272.2,298.1 1276.8,300.1 1281.4,300.1 1286.0,299.0 1290.6,298.8" fill="none" stroke="none" marker-start="url(#mdR)" marker-mid="url(#mdR)" marker-end="url(#mdR)"/>
<polyline points="739.8,298.3 744.4,298.0 749.0,298.1 753.6,297.1 758.2,294.0 762.8,298.6 767.3,294.7 771.9,294.3 776.5,296.7 781.1,297.2 785.7,318.9 790.3,285.9 794.9,235.6 799.5,218.1 804.1,207.8 808.6,203.3 813.2,198.1 817.8,196.9 822.4,194.4 827.0,191.9 831.6,189.7 836.2,190.3 840.8,185.4 845.4,185.3 850.0,185.1 854.5,184.5 859.1,179.6 863.7,181.8 868.3,182.9 872.9,182.4 877.5,177.7 882.1,180.9 886.7,177.7 891.3,177.0 895.9,182.3 900.4,176.3 905.0,178.3 909.6,179.3 914.2,178.2 918.8,176.2 923.4,176.2 928.0,175.8 932.6,177.2 937.2,173.9 941.8,173.2 946.3,172.4 950.9,173.3 955.5,171.6 960.1,170.9 964.7,172.7 969.3,172.0 973.9,172.1 978.5,171.7 983.1,170.8 987.7,174.4 992.2,171.9 996.8,170.3 1001.4,173.8 1006.0,172.5 1010.6,167.5 1015.2,171.2 1019.8,170.0 1024.4,168.5 1029.0,169.5 1033.6,169.9 1038.1,169.2 1042.7,168.9 1047.3,169.1 1051.9,167.8 1056.5,165.7 1061.1,195.1 1065.7,171.5 1070.3,166.1 1074.9,162.6 1079.5,196.7 1084.0,246.1 1088.6,274.5 1093.2,298.7 1097.8,308.0 1102.4,310.2 1107.0,318.0 1111.6,319.3 1116.2,321.5 1120.8,325.3 1125.4,319.6 1129.9,322.3 1134.5,325.8 1139.1,321.7 1143.7,323.9 1148.3,322.0 1152.9,323.3 1157.5,321.6 1162.1,323.0 1166.7,323.1 1171.3,323.4 1175.8,321.9 1180.4,325.8 1185.0,322.1 1189.6,322.9 1194.2,324.8 1198.8,324.0 1203.4,324.6 1208.0,323.6 1212.6,322.0 1217.2,324.1 1221.8,321.5 1226.3,320.7 1230.9,320.6 1235.5,318.6 1240.1,320.5 1244.7,318.7 1249.3,315.4 1253.9,318.4 1258.5,317.9 1263.1,316.8 1267.6,315.0 1272.2,315.8 1276.8,314.2 1281.4,315.4 1286.0,313.2 1290.6,312.0" fill="none" stroke="none" marker-start="url(#mtR)" marker-mid="url(#mtR)" marker-end="url(#mtR)"/>
<polyline points="739.8,295.5 744.4,295.9 749.0,296.2 753.6,299.1 758.2,295.6 762.8,298.9 767.3,295.0 771.9,295.4 776.5,295.1 781.1,295.1 785.7,293.6 790.3,286.7 794.9,255.3 799.5,233.6 804.1,225.3 808.6,219.8 813.2,216.2 817.8,212.3 822.4,208.9 827.0,205.6 831.6,203.9 836.2,201.3 840.8,198.9 845.4,195.6 850.0,195.9 854.5,193.2 859.1,190.8 863.7,192.6 868.3,190.9 872.9,186.6 877.5,190.8 882.1,191.0 886.7,188.9 891.3,185.6 895.9,184.8 900.4,188.5 905.0,185.8 909.6,186.1 914.2,186.5 918.8,187.9 923.4,183.8 928.0,185.9 932.6,184.1 937.2,184.1 941.8,181.5 946.3,182.1 950.9,184.7 955.5,183.3 960.1,181.3 964.7,184.0 969.3,182.5 973.9,181.4 978.5,183.4 983.1,182.7 987.7,183.0 992.2,180.1 996.8,180.9 1001.4,178.8 1006.0,179.6 1010.6,178.7 1015.2,179.4 1019.8,178.1 1024.4,179.0 1029.0,179.9 1033.6,177.0 1038.1,177.2 1042.7,175.5 1047.3,178.4 1051.9,179.0 1056.5,180.0 1061.1,192.5 1065.7,173.2 1070.3,173.4 1074.9,176.0 1079.5,195.8 1084.0,239.8 1088.6,259.0 1093.2,277.2 1097.8,286.6 1102.4,290.9 1107.0,293.0 1111.6,297.6 1116.2,297.1 1120.8,298.6 1125.4,297.3 1129.9,300.6 1134.5,297.9 1139.1,299.7 1143.7,298.8 1148.3,302.0 1152.9,300.2 1157.5,300.8 1162.1,303.1 1166.7,301.6 1171.3,301.8 1175.8,302.4 1180.4,302.2 1185.0,303.0 1189.6,301.8 1194.2,300.8 1198.8,302.2 1203.4,303.2 1208.0,299.9 1212.6,301.6 1217.2,301.1 1221.8,301.3 1226.3,301.6 1230.9,300.1 1235.5,301.4 1240.1,300.6 1244.7,302.3 1249.3,302.4 1253.9,300.7 1258.5,297.6 1263.1,299.6 1267.6,297.2 1272.2,298.9 1276.8,298.7 1281.4,299.8 1286.0,298.9 1290.6,296.4" fill="none" stroke="none" marker-start="url(#msR)" marker-mid="url(#msR)" marker-end="url(#msR)"/>
<polyline points="739.8,295.3 744.4,295.9 749.0,297.0 753.6,296.3 758.2,296.4 762.8,296.3 767.3,295.8 771.9,297.0 776.5,295.5 781.1,296.9 785.7,273.4 790.3,284.6 794.9,260.3 799.5,244.4 804.1,234.3 808.6,228.5 813.2,224.4 817.8,220.5 822.4,218.4 827.0,214.8 831.6,213.7 836.2,210.3 840.8,209.8 845.4,206.2 850.0,205.4 854.5,203.6 859.1,204.0 863.7,204.0 868.3,202.6 872.9,201.0 877.5,198.7 882.1,198.8 886.7,197.6 891.3,198.3 895.9,197.4 900.4,196.7 905.0,195.1 909.6,195.6 914.2,194.9 918.8,193.1 923.4,194.2 928.0,193.2 932.6,193.6 937.2,192.4 941.8,191.2 946.3,190.5 950.9,191.8 955.5,192.1 960.1,189.6 964.7,188.4 969.3,189.5 973.9,188.4 978.5,188.1 983.1,189.1 987.7,189.0 992.2,186.8 996.8,186.0 1001.4,187.0 1006.0,185.8 1010.6,185.7 1015.2,185.5 1019.8,185.4 1024.4,183.5 1029.0,184.0 1033.6,183.9 1038.1,183.9 1042.7,183.2 1047.3,183.7 1051.9,183.2 1056.5,183.8 1061.1,163.9 1065.7,174.8 1070.3,177.0 1074.9,180.1 1079.5,195.6 1084.0,238.1 1088.6,261.4 1093.2,276.4 1097.8,286.1 1102.4,291.7 1107.0,293.9 1111.6,296.3 1116.2,296.8 1120.8,298.6 1125.4,297.7 1129.9,300.0 1134.5,299.3 1139.1,300.6 1143.7,300.6 1148.3,301.8 1152.9,301.3 1157.5,301.4 1162.1,301.8 1166.7,300.9 1171.3,302.3 1175.8,301.4 1180.4,301.4 1185.0,301.2 1189.6,302.0 1194.2,300.8 1198.8,301.8 1203.4,301.6 1208.0,301.8 1212.6,301.4 1217.2,300.8 1221.8,299.1 1226.3,302.8 1230.9,300.3 1235.5,300.2 1240.1,299.8 1244.7,300.5 1249.3,300.2 1253.9,299.2 1258.5,300.3 1263.1,300.1 1267.6,300.1 1272.2,299.6 1276.8,298.5 1281.4,300.2 1286.0,298.6 1290.6,300.7" fill="none" stroke="none" marker-start="url(#mcR)" marker-mid="url(#mcR)" marker-end="url(#mcR)"/>
<polyline points="739.8,296.0 744.4,296.2 749.0,296.4 753.6,297.3 758.2,296.2 762.8,295.7 767.3,295.6 771.9,296.4 776.5,295.0 781.1,295.2 785.7,308.8 790.3,298.8 794.9,290.6 799.5,280.3 804.1,272.5 808.6,265.2 813.2,260.2 817.8,257.2 822.4,254.3 827.0,252.7 831.6,251.1 836.2,249.7 840.8,248.8 845.4,247.0 850.0,246.4 854.5,245.9 859.1,246.3 863.7,245.5 868.3,244.6 872.9,243.6 877.5,243.8 882.1,242.1 886.7,242.4 891.3,242.0 895.9,241.7 900.4,241.2 905.0,240.6 909.6,241.1 914.2,239.7 918.8,240.6 923.4,239.7 928.0,239.9 932.6,239.7 937.2,239.0 941.8,239.1 946.3,238.2 950.9,239.1 955.5,238.5 960.1,238.3 964.7,237.4 969.3,237.5 973.9,237.8 978.5,237.2 983.1,237.5 987.7,238.2 992.2,237.5 996.8,236.9 1001.4,237.7 1006.0,236.6 1010.6,237.1 1015.2,237.5 1019.8,236.9 1024.4,237.8 1029.0,237.3 1033.6,237.4 1038.1,236.6 1042.7,237.3 1047.3,237.6 1051.9,236.6 1056.5,237.0 1061.1,260.4 1065.7,245.6 1070.3,242.6 1074.9,241.3 1079.5,257.4 1084.0,271.2 1088.6,284.1 1093.2,290.1 1097.8,294.8 1102.4,297.4 1107.0,300.0 1111.6,300.0 1116.2,299.6 1120.8,300.1 1125.4,300.1 1129.9,299.7 1134.5,301.4 1139.1,300.5 1143.7,299.6 1148.3,300.6 1152.9,300.4 1157.5,300.2 1162.1,300.2 1166.7,300.2 1171.3,300.8 1175.8,300.2 1180.4,300.7 1185.0,299.6 1189.6,300.7 1194.2,300.2 1198.8,300.4 1203.4,299.7 1208.0,300.2 1212.6,299.9 1217.2,300.5 1221.8,300.3 1226.3,300.6 1230.9,300.1 1235.5,300.1 1240.1,300.5 1244.7,300.5 1249.3,299.7 1253.9,299.8 1258.5,300.0 1263.1,300.0 1267.6,299.9 1272.2,299.2 1276.8,299.4 1281.4,299.3 1286.0,299.1 1290.6,298.9" fill="none" stroke="none" marker-start="url(#mcG)" marker-mid="url(#mcG)" marker-end="url(#mcG)"/>
<polyline points="739.8,297.1 744.4,297.7 749.0,295.6 753.6,295.4 758.2,295.5 762.8,296.4 767.3,296.2 771.9,296.3 776.5,295.5 781.1,295.7 785.7,306.3 790.3,298.3 794.9,290.4 799.5,280.0 804.1,273.1 808.6,265.9 813.2,261.0 817.8,257.6 822.4,255.1 827.0,252.6 831.6,252.0 836.2,250.0 840.8,249.4 845.4,247.6 850.0,246.9 854.5,246.7 859.1,247.2 863.7,247.3 868.3,244.8 872.9,245.6 877.5,244.3 882.1,245.2 886.7,245.4 891.3,244.6 895.9,245.0 900.4,244.1 905.0,243.1 909.6,243.3 914.2,242.1 918.8,243.3 923.4,243.2 928.0,243.8 932.6,243.7 937.2,243.0 941.8,243.6 946.3,243.3 950.9,243.2 955.5,243.7 960.1,241.9 964.7,244.1 969.3,243.1 973.9,242.7 978.5,242.7 983.1,243.6 987.7,244.0 992.2,242.3 996.8,242.5 1001.4,243.6 1006.0,243.7 1010.6,243.8 1015.2,244.5 1019.8,244.0 1024.4,243.5 1029.0,243.8 1033.6,244.7 1038.1,243.8 1042.7,244.7 1047.3,245.2 1051.9,244.1 1056.5,244.0 1061.1,266.7 1065.7,252.4 1070.3,248.1 1074.9,247.0 1079.5,262.3 1084.0,277.0 1088.6,287.4 1093.2,293.0 1097.8,297.3 1102.4,301.0 1107.0,301.0 1111.6,301.1 1116.2,300.8 1120.8,301.3 1125.4,301.7 1129.9,302.0 1134.5,301.1 1139.1,302.2 1143.7,302.4 1148.3,302.3 1152.9,301.9 1157.5,302.1 1162.1,302.3 1166.7,302.3 1171.3,301.8 1175.8,301.8 1180.4,301.8 1185.0,302.5 1189.6,302.0 1194.2,301.3 1198.8,302.2 1203.4,300.9 1208.0,301.6 1212.6,301.2 1217.2,302.1 1221.8,300.8 1226.3,301.4 1230.9,301.1 1235.5,300.8 1240.1,300.2 1244.7,301.0 1249.3,300.4 1253.9,300.5 1258.5,301.2 1263.1,300.8 1267.6,300.7 1272.2,299.8 1276.8,299.4 1281.4,299.0 1286.0,298.4 1290.6,298.5" fill="none" stroke="none" marker-start="url(#mdG)" marker-mid="url(#mdG)" marker-end="url(#mdG)"/>
<polyline points="739.8,295.2 744.4,295.7 749.0,296.7 753.6,296.3 758.2,296.3 762.8,294.8 767.3,296.7 771.9,295.4 776.5,296.1 781.1,295.6 785.7,299.5 790.3,292.6 794.9,283.2 799.5,274.2 804.1,263.8 808.6,258.0 813.2,252.5 817.8,249.6 822.4,249.0 827.0,247.8 831.6,246.2 836.2,246.1 840.8,243.8 845.4,243.3 850.0,242.7 854.5,242.6 859.1,241.2 863.7,240.2 868.3,240.2 872.9,239.9 877.5,239.2 882.1,238.5 886.7,238.6 891.3,237.8 895.9,237.7 900.4,236.7 905.0,235.2 909.6,235.7 914.2,234.3 918.8,235.5 923.4,235.4 928.0,234.6 932.6,234.1 937.2,233.6 941.8,233.3 946.3,233.4 950.9,232.5 955.5,232.8 960.1,232.0 964.7,231.9 969.3,231.8 973.9,231.5 978.5,231.8 983.1,230.8 987.7,230.6 992.2,231.0 996.8,228.9 1001.4,230.1 1006.0,230.8 1010.6,230.7 1015.2,230.1 1019.8,230.7 1024.4,229.1 1029.0,229.8 1033.6,228.8 1038.1,229.8 1042.7,228.7 1047.3,228.2 1051.9,228.4 1056.5,229.8 1061.1,235.5 1065.7,229.6 1070.3,228.3 1074.9,228.5 1079.5,236.1 1084.0,249.7 1088.6,258.9 1093.2,268.0 1097.8,273.5 1102.4,278.2 1107.0,280.0 1111.6,280.3 1116.2,282.7 1120.8,284.1 1125.4,283.8 1129.9,284.7 1134.5,286.1 1139.1,285.5 1143.7,286.2 1148.3,286.2 1152.9,287.3 1157.5,286.4 1162.1,287.6 1166.7,286.7 1171.3,288.3 1175.8,287.6 1180.4,287.7 1185.0,288.8 1189.6,289.2 1194.2,288.5 1198.8,288.6 1203.4,288.5 1208.0,288.2 1212.6,286.8 1217.2,288.0 1221.8,287.2 1226.3,287.9 1230.9,287.4 1235.5,287.7 1240.1,288.0 1244.7,287.7 1249.3,286.6 1253.9,288.8 1258.5,287.6 1263.1,287.3 1267.6,288.3 1272.2,287.2 1276.8,287.3 1281.4,286.5 1286.0,286.7 1290.6,286.9" fill="none" stroke="none" marker-start="url(#mcN)" marker-mid="url(#mcN)" marker-end="url(#mcN)"/>
<polyline points="739.8,296.4 744.4,296.0 749.0,295.8 753.6,296.7 758.2,295.7 762.8,296.0 767.3,295.7 771.9,296.0 776.5,295.5 781.1,296.7 785.7,335.8 790.3,301.4 794.9,284.1 799.5,274.3 804.1,264.5 808.6,260.0 813.2,253.7 817.8,252.0 822.4,250.1 827.0,249.0 831.6,247.7 836.2,246.1 840.8,244.9 845.4,245.0 850.0,243.5 854.5,243.5 859.1,242.9 863.7,241.8 868.3,240.6 872.9,240.2 877.5,240.4 882.1,240.0 886.7,239.6 891.3,238.6 895.9,237.7 900.4,237.8 905.0,237.0 909.6,236.8 914.2,235.8 918.8,237.5 923.4,237.2 928.0,235.8 932.6,235.0 937.2,235.3 941.8,234.5 946.3,235.2 950.9,235.0 955.5,234.4 960.1,233.2 964.7,233.1 969.3,233.6 973.9,232.9 978.5,233.1 983.1,232.5 987.7,232.9 992.2,232.0 996.8,232.2 1001.4,231.6 1006.0,231.7 1010.6,231.6 1015.2,230.9 1019.8,231.0 1024.4,230.6 1029.0,230.7 1033.6,230.0 1038.1,230.8 1042.7,229.8 1047.3,229.4 1051.9,230.3 1056.5,229.1 1061.1,264.2 1065.7,230.9 1070.3,231.1 1074.9,231.1 1079.5,238.5 1084.0,249.7 1088.6,258.7 1093.2,267.6 1097.8,274.9 1102.4,278.4 1107.0,280.3 1111.6,282.6 1116.2,283.1 1120.8,283.6 1125.4,284.6 1129.9,284.9 1134.5,285.9 1139.1,285.8 1143.7,286.3 1148.3,287.8 1152.9,287.7 1157.5,287.7 1162.1,287.1 1166.7,287.5 1171.3,287.6 1175.8,287.9 1180.4,287.7 1185.0,287.6 1189.6,288.6 1194.2,289.2 1198.8,287.9 1203.4,288.5 1208.0,288.3 1212.6,288.4 1217.2,289.0 1221.8,289.2 1226.3,287.7 1230.9,287.6 1235.5,287.7 1240.1,288.1 1244.7,288.0 1249.3,288.4 1253.9,288.0 1258.5,288.2 1263.1,288.2 1267.6,287.7 1272.2,286.7 1276.8,288.7 1281.4,287.1 1286.0,286.9 1290.6,287.8" fill="none" stroke="none" marker-start="url(#msN)" marker-mid="url(#msN)" marker-end="url(#msN)"/>
<polyline points="739.8,295.6 744.4,295.7 749.0,296.2 753.6,295.8 758.2,296.6 762.8,297.3 767.3,295.2 771.9,295.9 776.5,297.4 781.1,296.8 785.7,299.6 790.3,292.5 794.9,282.5 799.5,273.6 804.1,263.8 808.6,257.2 813.2,252.5 817.8,249.7 822.4,248.4 827.0,247.4 831.6,244.7 836.2,244.3 840.8,242.8 845.4,242.3 850.0,241.5 854.5,240.8 859.1,239.6 863.7,238.7 868.3,238.5 872.9,238.6 877.5,236.1 882.1,236.8 886.7,236.2 891.3,236.6 895.9,236.0 900.4,235.1 905.0,236.0 909.6,235.1 914.2,234.0 918.8,232.4 923.4,233.3 928.0,233.8 932.6,233.6 937.2,232.0 941.8,232.7 946.3,232.2 950.9,230.6 955.5,231.4 960.1,231.4 964.7,231.4 969.3,229.9 973.9,229.6 978.5,230.5 983.1,230.7 987.7,229.7 992.2,228.6 996.8,228.9 1001.4,229.6 1006.0,228.5 1010.6,228.0 1015.2,228.3 1019.8,228.0 1024.4,228.0 1029.0,228.1 1033.6,228.1 1038.1,228.4 1042.7,228.2 1047.3,228.5 1051.9,227.2 1056.5,227.1 1061.1,234.3 1065.7,228.3 1070.3,227.6 1074.9,227.9 1079.5,235.9 1084.0,249.1 1088.6,257.6 1093.2,268.2 1097.8,274.2 1102.4,277.0 1107.0,280.1 1111.6,281.8 1116.2,283.4 1120.8,283.8 1125.4,283.3 1129.9,285.1 1134.5,284.7 1139.1,286.0 1143.7,285.5 1148.3,286.8 1152.9,286.5 1157.5,286.6 1162.1,286.8 1166.7,287.9 1171.3,287.7 1175.8,288.1 1180.4,287.8 1185.0,288.1 1189.6,288.1 1194.2,287.6 1198.8,288.6 1203.4,288.5 1208.0,288.4 1212.6,288.2 1217.2,288.5 1221.8,287.7 1226.3,288.6 1230.9,286.9 1235.5,287.9 1240.1,287.2 1244.7,288.5 1249.3,288.0 1253.9,287.6 1258.5,286.6 1263.1,287.5 1267.6,286.6 1272.2,287.7 1276.8,286.3 1281.4,287.4 1286.0,287.9 1290.6,287.9" fill="none" stroke="none" marker-start="url(#mdN)" marker-mid="url(#mdN)" marker-end="url(#mdN)"/>
<polyline points="739.8,295.9 744.4,296.5 749.0,295.8 753.6,296.1 758.2,297.1 762.8,295.6 767.3,296.2 771.9,295.8 776.5,295.1 781.1,296.0 785.7,304.6 790.3,293.0 794.9,282.0 799.5,273.6 804.1,261.8 808.6,255.4 813.2,250.9 817.8,247.4 822.4,245.4 827.0,244.7 831.6,243.3 836.2,241.2 840.8,241.0 845.4,239.8 850.0,237.9 854.5,237.8 859.1,238.0 863.7,236.6 868.3,234.9 872.9,236.3 877.5,234.4 882.1,233.9 886.7,234.0 891.3,233.0 895.9,233.3 900.4,231.5 905.0,231.0 909.6,232.1 914.2,231.3 918.8,230.7 923.4,230.8 928.0,229.9 932.6,230.4 937.2,229.1 941.8,229.3 946.3,228.9 950.9,228.3 955.5,227.7 960.1,228.6 964.7,227.3 969.3,226.9 973.9,227.2 978.5,226.0 983.1,227.1 987.7,226.7 992.2,225.9 996.8,226.2 1001.4,224.8 1006.0,225.3 1010.6,224.2 1015.2,225.6 1019.8,225.3 1024.4,223.8 1029.0,225.1 1033.6,223.7 1038.1,224.7 1042.7,224.0 1047.3,223.4 1051.9,224.1 1056.5,224.7 1061.1,231.3 1065.7,224.9 1070.3,224.2 1074.9,223.6 1079.5,233.0 1084.0,246.4 1088.6,255.7 1093.2,266.1 1097.8,272.4 1102.4,276.2 1107.0,280.2 1111.6,280.6 1116.2,281.2 1120.8,281.6 1125.4,284.3 1129.9,284.1 1134.5,284.4 1139.1,284.8 1143.7,286.1 1148.3,285.7 1152.9,286.5 1157.5,286.5 1162.1,287.0 1166.7,286.7 1171.3,287.3 1175.8,287.0 1180.4,287.4 1185.0,286.9 1189.6,286.5 1194.2,287.6 1198.8,288.0 1203.4,287.7 1208.0,287.9 1212.6,288.6 1217.2,287.6 1221.8,287.9 1226.3,287.0 1230.9,287.6 1235.5,287.0 1240.1,287.0 1244.7,287.7 1249.3,287.6 1253.9,287.6 1258.5,287.5 1263.1,286.7 1267.6,287.3 1272.2,287.2 1276.8,287.3 1281.4,285.8 1286.0,286.7 1290.6,286.3" fill="none" stroke="none" marker-start="url(#mtN)" marker-mid="url(#mtN)" marker-end="url(#mtN)"/>
<polyline points="739.8,296.2 744.4,296.9 749.0,294.7 753.6,295.9 758.2,295.8 762.8,296.3 767.3,296.1 771.9,296.0 776.5,296.1 781.1,296.5 785.7,299.4 790.3,292.6 794.9,284.0 799.5,275.3 804.1,265.6 808.6,260.0 813.2,254.3 817.8,252.3 822.4,249.9 827.0,249.6 831.6,247.5 836.2,246.6 840.8,245.8 845.4,244.0 850.0,243.8 854.5,242.8 859.1,242.1 863.7,241.9 868.3,241.9 872.9,241.0 877.5,240.0 882.1,240.5 886.7,239.4 891.3,239.4 895.9,239.1 900.4,238.7 905.0,238.7 909.6,237.8 914.2,237.1 918.8,238.1 923.4,236.8 928.0,236.2 932.6,236.2 937.2,235.2 941.8,235.9 946.3,234.7 950.9,234.4 955.5,234.4 960.1,234.8 964.7,233.1 969.3,234.0 973.9,233.3 978.5,233.9 983.1,233.5 987.7,232.7 992.2,233.5 996.8,232.2 1001.4,231.2 1006.0,232.8 1010.6,232.0 1015.2,231.1 1019.8,231.7 1024.4,230.8 1029.0,231.1 1033.6,232.1 1038.1,232.5 1042.7,231.1 1047.3,230.3 1051.9,231.3 1056.5,230.1 1061.1,239.7 1065.7,231.6 1070.3,231.1 1074.9,230.9 1079.5,239.2 1084.0,251.6 1088.6,259.5 1093.2,269.1 1097.8,274.4 1102.4,278.9 1107.0,280.3 1111.6,282.7 1116.2,283.9 1120.8,283.7 1125.4,284.5 1129.9,285.3 1134.5,284.8 1139.1,286.7 1143.7,286.1 1148.3,286.8 1152.9,286.2 1157.5,288.0 1162.1,287.8 1166.7,288.1 1171.3,288.4 1175.8,288.9 1180.4,288.3 1185.0,288.4 1189.6,288.9 1194.2,288.5 1198.8,289.4 1203.4,287.6 1208.0,288.1 1212.6,288.3 1217.2,288.0 1221.8,288.6 1226.3,288.8 1230.9,288.7 1235.5,288.8 1240.1,288.6 1244.7,287.6 1249.3,288.5 1253.9,287.3 1258.5,287.8 1263.1,286.9 1267.6,288.2 1272.2,288.2 1276.8,288.0 1281.4,288.8 1286.0,286.9 1290.6,286.9" fill="none" stroke="none" marker-start="url(#mcK)" marker-mid="url(#mcK)" marker-end="url(#mcK)"/>
<polyline points="739.8,296.8 744.4,295.7 749.0,295.5 753.6,295.7 758.2,295.3 762.8,296.2 767.3,297.0 771.9,296.2 776.5,295.9 781.1,295.9 785.7,299.6 790.3,293.9 794.9,281.9 799.5,273.6 804.1,262.9 808.6,257.5 813.2,252.4 817.8,249.0 822.4,247.0 827.0,246.7 831.6,245.3 836.2,244.0 840.8,243.0 845.4,241.9 850.0,240.7 854.5,241.0 859.1,238.1 863.7,239.7 868.3,238.5 872.9,236.7 877.5,237.4 882.1,236.6 886.7,235.8 891.3,234.7 895.9,235.8 900.4,233.9 905.0,235.1 909.6,232.9 914.2,233.0 918.8,232.9 923.4,233.1 928.0,231.6 932.6,231.7 937.2,231.2 941.8,232.4 946.3,231.3 950.9,230.9 955.5,230.5 960.1,231.5 964.7,231.2 969.3,229.7 973.9,230.0 978.5,229.3 983.1,229.9 987.7,228.9 992.2,229.2 996.8,229.2 1001.4,228.9 1006.0,227.8 1010.6,228.8 1015.2,228.7 1019.8,228.0 1024.4,227.1 1029.0,226.8 1033.6,226.6 1038.1,226.4 1042.7,227.2 1047.3,227.1 1051.9,225.8 1056.5,226.8 1061.1,233.7 1065.7,227.6 1070.3,226.7 1074.9,227.5 1079.5,235.7 1084.0,248.6 1088.6,257.3 1093.2,266.3 1097.8,273.2 1102.4,276.6 1107.0,279.7 1111.6,281.6 1116.2,282.4 1120.8,283.6 1125.4,284.6 1129.9,283.7 1134.5,285.9 1139.1,285.2 1143.7,286.4 1148.3,287.5 1152.9,285.5 1157.5,287.1 1162.1,287.7 1166.7,285.9 1171.3,287.6 1175.8,287.5 1180.4,286.8 1185.0,288.4 1189.6,288.5 1194.2,287.5 1198.8,287.7 1203.4,288.5 1208.0,288.9 1212.6,288.8 1217.2,287.6 1221.8,287.2 1226.3,287.2 1230.9,287.6 1235.5,287.6 1240.1,289.2 1244.7,287.8 1249.3,288.0 1253.9,286.8 1258.5,287.7 1263.1,287.4 1267.6,287.3 1272.2,287.0 1276.8,286.8 1281.4,285.7 1286.0,285.9 1290.6,286.4" fill="none" stroke="none" marker-start="url(#mdN)" marker-mid="url(#mdN)" marker-end="url(#mdN)"/>
<polyline points="739.8,296.8 744.4,296.3 749.0,296.3 753.6,296.3 758.2,295.5 762.8,296.1 767.3,296.0 771.9,296.2 776.5,296.7 781.1,296.1 785.7,299.7 790.3,292.6 794.9,283.2 799.5,273.9 804.1,261.6 808.6,256.8 813.2,251.5 817.8,249.2 822.4,246.4 827.0,245.2 831.6,244.4 836.2,242.7 840.8,241.2 845.4,240.6 850.0,240.2 854.5,239.1 859.1,238.2 863.7,238.3 868.3,237.5 872.9,236.2 877.5,235.4 882.1,235.1 886.7,234.9 891.3,233.9 895.9,234.3 900.4,233.7 905.0,233.3 909.6,232.3 914.2,232.9 918.8,232.3 923.4,230.7 928.0,231.6 932.6,232.1 937.2,230.3 941.8,229.8 946.3,230.6 950.9,230.4 955.5,229.9 960.1,229.2 964.7,228.3 969.3,228.2 973.9,229.2 978.5,227.3 983.1,228.4 987.7,227.5 992.2,227.4 996.8,227.4 1001.4,227.6 1006.0,225.5 1010.6,226.5 1015.2,225.5 1019.8,226.5 1024.4,225.6 1029.0,226.1 1033.6,225.4 1038.1,225.0 1042.7,226.0 1047.3,225.5 1051.9,225.2 1056.5,224.8 1061.1,232.5 1065.7,226.3 1070.3,226.2 1074.9,225.5 1079.5,233.7 1084.0,246.9 1088.6,257.1 1093.2,267.2 1097.8,273.5 1102.4,276.5 1107.0,278.7 1111.6,281.3 1116.2,282.1 1120.8,282.4 1125.4,284.2 1129.9,283.9 1134.5,284.0 1139.1,284.8 1143.7,284.8 1148.3,286.3 1152.9,287.2 1157.5,285.7 1162.1,286.4 1166.7,286.2 1171.3,287.0 1175.8,288.0 1180.4,287.7 1185.0,287.7 1189.6,288.0 1194.2,287.6 1198.8,287.5 1203.4,288.0 1208.0,288.7 1212.6,289.1 1217.2,287.8 1221.8,287.8 1226.3,288.1 1230.9,286.8 1235.5,288.0 1240.1,287.3 1244.7,287.2 1249.3,287.9 1253.9,286.7 1258.5,287.1 1263.1,287.1 1267.6,287.9 1272.2,287.5 1276.8,287.5 1281.4,286.9 1286.0,286.6 1290.6,286.0" fill="none" stroke="none" marker-start="url(#mtN)" marker-mid="url(#mtN)" marker-end="url(#mtN)"/>
<polyline points="739.8,295.6 744.4,296.4 749.0,296.9 753.6,295.8 758.2,295.6 762.8,295.9 767.3,297.7 771.9,297.1 776.5,295.8 781.1,295.3 785.7,299.4 790.3,292.4 794.9,283.4 799.5,275.1 804.1,266.2 808.6,260.1 813.2,255.1 817.8,252.1 822.4,250.3 827.0,250.2 831.6,248.5 836.2,247.2 840.8,246.1 845.4,244.6 850.0,244.6 854.5,243.9 859.1,244.1 863.7,242.6 868.3,242.7 872.9,240.6 877.5,241.1 882.1,240.6 886.7,240.2 891.3,240.5 895.9,239.7 900.4,238.9 905.0,238.1 909.6,238.1 914.2,238.7 918.8,237.7 923.4,237.3 928.0,237.9 932.6,236.3 937.2,235.9 941.8,236.6 946.3,234.5 950.9,235.3 955.5,235.6 960.1,233.9 964.7,235.1 969.3,234.4 973.9,235.3 978.5,234.7 983.1,232.7 987.7,234.1 992.2,233.8 996.8,233.2 1001.4,233.3 1006.0,233.4 1010.6,233.1 1015.2,232.4 1019.8,231.2 1024.4,231.5 1029.0,230.5 1033.6,232.2 1038.1,231.5 1042.7,231.4 1047.3,231.2 1051.9,231.0 1056.5,232.5 1061.1,237.9 1065.7,232.3 1070.3,232.0 1074.9,231.3 1079.5,239.9 1084.0,252.4 1088.6,260.0 1093.2,269.8 1097.8,275.8 1102.4,277.9 1107.0,280.5 1111.6,282.9 1116.2,284.6 1120.8,284.0 1125.4,284.6 1129.9,285.4 1134.5,286.5 1139.1,286.3 1143.7,286.9 1148.3,286.9 1152.9,286.9 1157.5,287.5 1162.1,287.8 1166.7,287.5 1171.3,287.8 1175.8,288.6 1180.4,288.3 1185.0,288.0 1189.6,288.1 1194.2,288.7 1198.8,288.6 1203.4,289.1 1208.0,288.4 1212.6,287.9 1217.2,288.2 1221.8,288.7 1226.3,288.1 1230.9,288.4 1235.5,288.0 1240.1,289.1 1244.7,288.6 1249.3,287.8 1253.9,287.6 1258.5,288.6 1263.1,288.4 1267.6,286.9 1272.2,287.7 1276.8,287.8 1281.4,287.3 1286.0,287.8 1290.6,288.3" fill="none" stroke="none" marker-start="url(#mcK)" marker-mid="url(#mcK)" marker-end="url(#mcK)"/>
<path d="M739.8 43.4V343.3M734.8 338.3H1290.6" stroke="#404040" stroke-width="1" fill="none"/>
<path d="M734.8 338.3H739.8M734.8 296.2H739.8M734.8 254.0H739.8M734.8 211.9H739.8M734.8 169.8H739.8M734.8 127.7H739.8M734.8 85.5H739.8M734.8 43.4H739.8M831.6 338.3V343.3M923.4 338.3V343.3M1015.2 338.3V343.3M1107.0 338.3V343.3M1198.8 338.3V343.3M1290.6 338.3V343.3" stroke="#404040" stroke-width="1" fill="none"/>
<text x="727.0" y="342.7" font-size="15" text-anchor="end" class="r">-5</text>
<text x="727.0" y="300.5" font-size="15" text-anchor="end" class="r">0</text>
<text x="727.0" y="258.4" font-size="15" text-anchor="end" class="r">5</text>
<text x="727.0" y="216.3" font-size="15" text-anchor="end" class="r">10</text>
<text x="727.0" y="174.2" font-size="15" text-anchor="end" class="r">15</text>
<text x="727.0" y="132.0" font-size="15" text-anchor="end" class="r">20</text>
<text x="727.0" y="89.9" font-size="15" text-anchor="end" class="r">25</text>
<text x="727.0" y="47.8" font-size="15" text-anchor="end" class="r">30</text>
<text x="739.8" y="360.2" font-size="15" text-anchor="middle" class="r">0</text>
<text x="831.6" y="360.2" font-size="15" text-anchor="middle" class="r">100</text>
<text x="923.4" y="360.2" font-size="15" text-anchor="middle" class="r">200</text>
<text x="1015.2" y="360.2" font-size="15" text-anchor="middle" class="r">300</text>
<text x="1107.0" y="360.2" font-size="15" text-anchor="middle" class="r">400</text>
<text x="1198.8" y="360.2" font-size="15" text-anchor="middle" class="r">500</text>
<text x="1290.6" y="360.2" font-size="15" text-anchor="middle" class="r">600</text>
<text x="1015" y="381.4" font-size="16" font-weight="bold" text-anchor="middle">Time (s)</text>
<text transform="translate(705.8,190.2) rotate(-90)" font-size="16.24" font-weight="bold" text-anchor="middle" xml:space="preserve">Response  (%)</text>
<text x="1009" y="23.9" font-size="16" font-weight="bold" text-anchor="middle">MMS 0.5</text>
<text x="670.6" y="24" font-size="35" font-weight="bold">b</text>
<circle cx="799.7" cy="41.1" r="2.04" fill="#c00000"/>
<text x="808.2" y="45.7" font-size="15" class="r">A1</text>
<rect x="867.2" y="39.2" width="3.9" height="3.9" fill="#c00000"/>
<text x="877.6" y="45.7" font-size="15" class="r">A2</text>
<path d="M939.9 38.8L942.2 41.1L939.9 43.4L937.6 41.1Z" fill="#c00000"/>
<text x="948.4" y="45.7" font-size="15" class="r">A3</text>
<path d="M1010.0 38.7L1012.4 43.0L1007.6 43.0Z" fill="#c00000"/>
<text x="1018.5" y="45.7" font-size="15" class="r">A4</text>
<circle cx="1079.3" cy="41.1" r="2.04" fill="#6aaa3e"/>
<text x="1087.8" y="45.7" font-size="15" class="r">B1</text>
<path d="M1149.8 38.8L1152.1 41.1L1149.8 43.4L1147.5 41.1Z" fill="#6aaa3e"/>
<text x="1158.3" y="45.7" font-size="15" class="r">B3</text>
<circle cx="1219.6" cy="41.1" r="2.04" fill="#002060"/>
<text x="1228.1" y="45.7" font-size="15" class="r">C1</text>
<rect x="797.8" y="57.2" width="3.9" height="3.9" fill="#002060"/>
<text x="808.2" y="64.0" font-size="15" class="r">C2</text>
<path d="M869.1 56.8L871.4 59.1L869.1 61.4L866.8 59.1Z" fill="#002060"/>
<text x="877.6" y="64.0" font-size="15" class="r">C3</text>
<path d="M939.9 56.7L942.3 61.0L937.5 61.0Z" fill="#002060"/>
<text x="948.4" y="64.0" font-size="15" class="r">C4</text>
<circle cx="1010.0" cy="59.1" r="2.04" fill="#000000"/>
<text x="1018.5" y="64.0" font-size="15" class="r">D1</text>
<path d="M1079.3 56.8L1081.6 59.1L1079.3 61.4L1077.0 59.1Z" fill="#002060"/>
<text x="1087.8" y="64.0" font-size="15" class="r">D2</text>
<path d="M1149.8 56.7L1152.2 61.0L1147.4 61.0Z" fill="#002060"/>
<text x="1158.3" y="64.0" font-size="15" class="r">D3</text>
<circle cx="1219.6" cy="59.1" r="2.04" fill="#000000"/>
<text x="1228.1" y="64.0" font-size="15" class="r">D4</text>
<polyline points="1377.9,296.3 1382.8,294.9 1387.8,294.8 1392.7,294.2 1397.7,295.2 1402.6,293.5 1407.5,294.1 1412.5,294.9 1417.4,294.9 1422.3,294.7 1427.3,263.6 1432.2,178.1 1437.2,150.1 1442.1,138.7 1447.0,129.6 1452.0,123.8 1456.9,122.8 1461.9,121.3 1466.8,116.9 1471.7,116.1 1476.7,115.1 1481.6,113.4 1486.5,112.9 1491.5,111.5 1496.4,110.6 1501.4,109.8 1506.3,110.1 1511.2,109.3 1516.2,107.2 1521.1,108.1 1526.1,107.4 1531.0,106.6 1535.9,106.8 1540.9,106.3 1545.8,104.5 1550.7,104.4 1555.7,105.7 1560.6,104.6 1565.6,105.3 1570.5,105.2 1575.4,103.9 1580.4,102.7 1585.3,103.6 1590.2,102.3 1595.2,103.8 1600.1,102.8 1605.1,102.7 1610.0,102.5 1614.9,101.7 1619.9,101.8 1624.8,102.3 1629.8,102.7 1634.7,101.9 1639.6,101.4 1644.6,101.5 1649.5,101.9 1654.4,101.7 1659.4,99.7 1664.3,99.7 1669.3,99.9 1674.2,98.8 1679.1,98.4 1684.1,98.5 1689.0,98.3 1694.0,96.9 1698.9,96.9 1703.8,96.3 1708.8,96.4 1713.7,96.8 1718.6,97.3 1723.6,72.2 1728.5,87.9 1733.5,90.3 1738.4,126.6 1743.3,197.1 1748.3,246.6 1753.2,268.2 1758.2,278.4 1763.1,285.5 1768.0,288.3 1773.0,290.4 1777.9,290.8 1782.8,292.2 1787.8,293.0 1792.7,293.0 1797.7,294.6 1802.6,293.8 1807.5,293.7 1812.5,293.4 1817.4,295.2 1822.3,295.0 1827.3,296.2 1832.2,294.2 1837.2,295.5 1842.1,295.4 1847.0,296.8 1852.0,296.1 1856.9,296.5 1861.9,297.0 1866.8,297.1 1871.7,297.0 1876.7,296.9 1881.6,297.5 1886.5,295.4 1891.5,296.3 1896.4,296.2 1901.4,296.1 1906.3,296.3 1911.2,296.1 1916.2,295.6 1921.1,296.0 1926.1,294.9 1931.0,295.7 1935.9,294.6 1940.9,295.8 1945.8,294.8 1950.7,294.3 1955.7,293.6 1960.6,293.3 1965.6,294.5 1970.5,293.9" fill="none" stroke="none" marker-start="url(#mdR)" marker-mid="url(#mdR)" marker-end="url(#mdR)"/>
<polyline points="1377.9,295.1 1382.8,296.2 1387.8,293.4 1392.7,292.7 1397.7,295.8 1402.6,294.5 1407.5,292.1 1412.5,292.2 1417.4,291.5 1422.3,292.4 1427.3,293.0 1432.2,211.8 1437.2,185.4 1442.1,172.5 1447.0,164.2 1452.0,158.4 1456.9,151.9 1461.9,149.6 1466.8,144.1 1471.7,143.1 1476.7,142.5 1481.6,141.7 1486.5,136.8 1491.5,136.8 1496.4,135.7 1501.4,134.6 1506.3,132.5 1511.2,131.8 1516.2,130.8 1521.1,130.0 1526.1,127.1 1531.0,129.7 1535.9,129.4 1540.9,129.3 1545.8,127.1 1550.7,126.0 1555.7,126.9 1560.6,127.1 1565.6,126.5 1570.5,124.2 1575.4,123.7 1580.4,123.6 1585.3,124.8 1590.2,123.4 1595.2,123.3 1600.1,122.9 1605.1,121.8 1610.0,122.4 1614.9,121.6 1619.9,122.1 1624.8,121.6 1629.8,121.0 1634.7,123.3 1639.6,121.6 1644.6,121.5 1649.5,121.4 1654.4,120.6 1659.4,118.1 1664.3,120.6 1669.3,117.9 1674.2,120.8 1679.1,118.7 1684.1,117.7 1689.0,116.8 1694.0,116.3 1698.9,115.9 1703.8,117.1 1708.8,117.1 1713.7,115.4 1718.6,116.6 1723.6,123.4 1728.5,119.3 1733.5,117.1 1738.4,142.7 1743.3,210.1 1748.3,246.7 1753.2,268.7 1758.2,274.8 1763.1,278.2 1768.0,282.3 1773.0,283.3 1777.9,285.9 1782.8,286.5 1787.8,287.2 1792.7,288.7 1797.7,287.0 1802.6,288.6 1807.5,288.3 1812.5,288.0 1817.4,288.2 1822.3,288.0 1827.3,289.0 1832.2,289.5 1837.2,289.1 1842.1,291.1 1847.0,290.9 1852.0,290.7 1856.9,290.3 1861.9,288.6 1866.8,290.2 1871.7,289.6 1876.7,287.5 1881.6,289.5 1886.5,288.1 1891.5,290.0 1896.4,289.0 1901.4,289.7 1906.3,288.8 1911.2,287.1 1916.2,290.1 1921.1,287.1 1926.1,287.1 1931.0,287.8 1935.9,288.5 1940.9,286.3 1945.8,286.6 1950.7,285.3 1955.7,285.2 1960.6,282.8 1965.6,284.7 1970.5,285.2" fill="none" stroke="none" marker-start="url(#msG)" marker-mid="url(#msG)" marker-end="url(#msG)"/>
<polyline points="1377.9,295.2 1382.8,294.5 1387.8,295.5 1392.7,295.6 1397.7,296.6 1402.6,293.7 1407.5,294.6 1412.5,294.5 1417.4,295.4 1422.3,293.4 1427.3,280.6 1432.2,229.4 1437.2,197.6 1442.1,184.6 1447.0,174.3 1452.0,166.4 1456.9,162.9 1461.9,158.4 1466.8,157.0 1471.7,155.8 1476.7,153.0 1481.6,153.9 1486.5,152.3 1491.5,149.7 1496.4,151.8 1501.4,149.2 1506.3,148.1 1511.2,148.4 1516.2,147.7 1521.1,148.9 1526.1,145.7 1531.0,145.5 1535.9,146.7 1540.9,143.3 1545.8,146.1 1550.7,146.2 1555.7,146.1 1560.6,144.1 1565.6,143.5 1570.5,143.2 1575.4,143.8 1580.4,144.1 1585.3,142.3 1590.2,143.8 1595.2,144.0 1600.1,141.2 1605.1,142.2 1610.0,141.8 1614.9,141.5 1619.9,142.5 1624.8,142.3 1629.8,141.0 1634.7,142.1 1639.6,141.0 1644.6,141.2 1649.5,142.2 1654.4,139.9 1659.4,142.0 1664.3,140.4 1669.3,140.5 1674.2,139.2 1679.1,141.4 1684.1,140.8 1689.0,140.3 1694.0,139.9 1698.9,139.2 1703.8,139.7 1708.8,140.0 1713.7,139.0 1718.6,137.9 1723.6,148.3 1728.5,135.8 1733.5,134.3 1738.4,152.3 1743.3,229.5 1748.3,257.8 1753.2,280.0 1758.2,283.3 1763.1,290.0 1768.0,290.8 1773.0,289.8 1777.9,292.8 1782.8,292.9 1787.8,294.5 1792.7,293.9 1797.7,294.3 1802.6,292.6 1807.5,295.8 1812.5,297.8 1817.4,294.9 1822.3,294.0 1827.3,296.4 1832.2,297.7 1837.2,297.2 1842.1,295.9 1847.0,297.1 1852.0,296.7 1856.9,299.3 1861.9,297.6 1866.8,296.3 1871.7,297.4 1876.7,298.2 1881.6,296.1 1886.5,296.1 1891.5,297.5 1896.4,297.8 1901.4,295.7 1906.3,297.5 1911.2,297.0 1916.2,295.0 1921.1,296.5 1926.1,297.1 1931.0,298.4 1935.9,296.3 1940.9,296.2 1945.8,296.6 1950.7,294.8 1955.7,296.8 1960.6,296.8 1965.6,295.7 1970.5,294.7" fill="none" stroke="none" marker-start="url(#msR)" marker-mid="url(#msR)" marker-end="url(#msR)"/>
<polyline points="1377.9,294.5 1382.8,295.1 1387.8,294.7 1392.7,294.0 1397.7,294.1 1402.6,294.3 1407.5,294.9 1412.5,295.3 1417.4,294.4 1422.3,295.0 1427.3,280.6 1432.2,243.2 1437.2,214.9 1442.1,199.4 1447.0,190.8 1452.0,184.5 1456.9,180.2 1461.9,174.9 1466.8,173.2 1471.7,170.1 1476.7,168.9 1481.6,168.7 1486.5,166.8 1491.5,164.6 1496.4,164.8 1501.4,161.8 1506.3,161.9 1511.2,160.9 1516.2,159.1 1521.1,159.6 1526.1,159.3 1531.0,158.5 1535.9,158.3 1540.9,158.3 1545.8,157.4 1550.7,155.8 1555.7,156.3 1560.6,156.4 1565.6,156.2 1570.5,155.6 1575.4,155.5 1580.4,156.3 1585.3,155.1 1590.2,155.2 1595.2,153.8 1600.1,154.8 1605.1,153.6 1610.0,154.9 1614.9,153.6 1619.9,154.0 1624.8,153.9 1629.8,152.5 1634.7,153.4 1639.6,152.6 1644.6,152.7 1649.5,151.7 1654.4,151.5 1659.4,152.9 1664.3,150.8 1669.3,151.4 1674.2,149.5 1679.1,150.0 1684.1,149.8 1689.0,151.9 1694.0,149.0 1698.9,150.0 1703.8,150.9 1708.8,149.7 1713.7,149.1 1718.6,150.9 1723.6,136.7 1728.5,145.8 1733.5,148.6 1738.4,152.7 1743.3,231.5 1748.3,258.1 1753.2,268.8 1758.2,275.8 1763.1,282.2 1768.0,287.3 1773.0,289.0 1777.9,291.8 1782.8,291.7 1787.8,293.6 1792.7,293.8 1797.7,293.3 1802.6,294.4 1807.5,293.8 1812.5,295.3 1817.4,294.9 1822.3,294.3 1827.3,293.9 1832.2,295.8 1837.2,294.3 1842.1,295.3 1847.0,294.3 1852.0,296.1 1856.9,296.4 1861.9,296.0 1866.8,297.0 1871.7,296.2 1876.7,296.3 1881.6,295.5 1886.5,296.1 1891.5,297.1 1896.4,297.1 1901.4,296.8 1906.3,297.5 1911.2,297.5 1916.2,294.7 1921.1,296.5 1926.1,295.1 1931.0,296.3 1935.9,295.9 1940.9,296.6 1945.8,294.5 1950.7,295.4 1955.7,293.9 1960.6,295.2 1965.6,293.7 1970.5,293.3" fill="none" stroke="none" marker-start="url(#mcR)" marker-mid="url(#mcR)" marker-end="url(#mcR)"/>
<polyline points="1377.9,295.7 1382.8,295.2 1387.8,294.3 1392.7,293.4 1397.7,293.4 1402.6,292.7 1407.5,292.0 1412.5,291.5 1417.4,291.9 1422.3,291.1 1427.3,305.4 1432.2,288.8 1437.2,264.4 1442.1,246.8 1447.0,234.8 1452.0,225.1 1456.9,218.0 1461.9,212.6 1466.8,207.8 1471.7,202.3 1476.7,198.9 1481.6,196.3 1486.5,194.2 1491.5,191.8 1496.4,188.9 1501.4,188.2 1506.3,187.6 1511.2,185.5 1516.2,184.4 1521.1,183.1 1526.1,181.8 1531.0,180.4 1535.9,178.8 1540.9,178.2 1545.8,176.7 1550.7,175.3 1555.7,173.9 1560.6,173.2 1565.6,171.8 1570.5,171.4 1575.4,172.2 1580.4,170.3 1585.3,169.4 1590.2,169.2 1595.2,169.6 1600.1,168.2 1605.1,167.9 1610.0,166.7 1614.9,165.8 1619.9,165.4 1624.8,165.7 1629.8,164.3 1634.7,164.2 1639.6,163.2 1644.6,163.3 1649.5,162.5 1654.4,162.1 1659.4,161.6 1664.3,160.1 1669.3,159.8 1674.2,159.5 1679.1,159.8 1684.1,158.9 1689.0,158.0 1694.0,157.3 1698.9,158.1 1703.8,156.5 1708.8,157.2 1713.7,157.2 1718.6,156.0 1723.6,166.5 1728.5,158.2 1733.5,156.9 1738.4,156.3 1743.3,203.4 1748.3,214.8 1753.2,218.1 1758.2,220.1 1763.1,225.9 1768.0,231.0 1773.0,235.7 1777.9,238.3 1782.8,241.2 1787.8,243.1 1792.7,245.0 1797.7,245.6 1802.6,247.1 1807.5,247.5 1812.5,247.0 1817.4,248.1 1822.3,248.3 1827.3,248.4 1832.2,248.5 1837.2,248.2 1842.1,247.5 1847.0,248.4 1852.0,248.0 1856.9,247.9 1861.9,247.4 1866.8,245.7 1871.7,245.8 1876.7,245.4 1881.6,246.6 1886.5,246.1 1891.5,244.3 1896.4,244.5 1901.4,243.2 1906.3,243.2 1911.2,241.2 1916.2,241.1 1921.1,240.4 1926.1,238.1 1931.0,238.8 1935.9,238.7 1940.9,238.0 1945.8,236.2 1950.7,236.7 1955.7,234.7 1960.6,235.4 1965.6,234.1 1970.5,234.1" fill="none" stroke="none" marker-start="url(#mcG)" marker-mid="url(#mcG)" marker-end="url(#mcG)"/>
<polyline points="1377.9,295.8 1382.8,294.2 1387.8,294.5 1392.7,293.4 1397.7,294.0 1402.6,293.7 1407.5,292.3 1412.5,292.1 1417.4,291.4 1422.3,291.0 1427.3,308.7 1432.2,272.5 1437.2,248.1 1442.1,224.6 1447.0,213.2 1452.0,205.2 1456.9,200.5 1461.9,196.9 1466.8,192.7 1471.7,189.1 1476.7,187.0 1481.6,185.9 1486.5,183.4 1491.5,181.5 1496.4,180.0 1501.4,180.3 1506.3,178.0 1511.2,176.1 1516.2,173.9 1521.1,173.0 1526.1,173.0 1531.0,170.5 1535.9,170.3 1540.9,169.2 1545.8,168.6 1550.7,167.8 1555.7,166.6 1560.6,167.9 1565.6,166.7 1570.5,166.9 1575.4,166.3 1580.4,166.0 1585.3,166.2 1590.2,165.4 1595.2,164.7 1600.1,165.7 1605.1,163.9 1610.0,164.1 1614.9,163.0 1619.9,164.6 1624.8,163.1 1629.8,162.9 1634.7,162.6 1639.6,163.0 1644.6,161.6 1649.5,161.3 1654.4,161.4 1659.4,160.8 1664.3,159.4 1669.3,159.5 1674.2,158.3 1679.1,157.2 1684.1,158.1 1689.0,157.7 1694.0,158.3 1698.9,158.2 1703.8,157.0 1708.8,157.1 1713.7,156.2 1718.6,156.0 1723.6,181.3 1728.5,168.9 1733.5,167.0 1738.4,166.3 1743.3,223.7 1748.3,255.6 1753.2,267.6 1758.2,274.5 1763.1,277.0 1768.0,279.2 1773.0,281.3 1777.9,282.0 1782.8,283.3 1787.8,282.2 1792.7,282.9 1797.7,282.8 1802.6,281.9 1807.5,281.3 1812.5,280.4 1817.4,279.9 1822.3,279.1 1827.3,279.2 1832.2,276.7 1837.2,275.3 1842.1,276.0 1847.0,273.9 1852.0,273.1 1856.9,272.5 1861.9,271.3 1866.8,271.0 1871.7,268.6 1876.7,268.3 1881.6,267.1 1886.5,265.7 1891.5,265.4 1896.4,265.5 1901.4,263.5 1906.3,263.4 1911.2,262.6 1916.2,262.3 1921.1,261.1 1926.1,260.6 1931.0,260.0 1935.9,259.1 1940.9,257.2 1945.8,256.4 1950.7,256.7 1955.7,255.8 1960.6,254.5 1965.6,254.3 1970.5,253.4" fill="none" stroke="none" marker-start="url(#mdG)" marker-mid="url(#mdG)" marker-end="url(#mdG)"/>
<polyline points="1377.9,295.8 1382.8,294.9 1387.8,295.3 1392.7,294.8 1397.7,294.0 1402.6,293.2 1407.5,292.7 1412.5,292.1 1417.4,291.6 1422.3,291.8 1427.3,301.3 1432.2,262.1 1437.2,237.5 1442.1,220.9 1447.0,211.9 1452.0,200.7 1456.9,194.2 1461.9,192.7 1466.8,190.3 1471.7,187.7 1476.7,183.6 1481.6,182.7 1486.5,181.7 1491.5,179.7 1496.4,178.8 1501.4,177.2 1506.3,177.0 1511.2,176.8 1516.2,176.7 1521.1,174.4 1526.1,174.5 1531.0,174.6 1535.9,174.2 1540.9,173.7 1545.8,173.7 1550.7,173.5 1555.7,173.3 1560.6,172.6 1565.6,172.9 1570.5,173.9 1575.4,172.5 1580.4,172.6 1585.3,173.0 1590.2,173.1 1595.2,172.9 1600.1,173.1 1605.1,173.5 1610.0,172.3 1614.9,172.8 1619.9,173.0 1624.8,173.7 1629.8,173.9 1634.7,172.9 1639.6,173.3 1644.6,173.2 1649.5,174.0 1654.4,173.5 1659.4,174.2 1664.3,173.8 1669.3,173.7 1674.2,173.0 1679.1,174.1 1684.1,174.3 1689.0,173.5 1694.0,173.5 1698.9,174.6 1703.8,173.6 1708.8,173.3 1713.7,174.1 1718.6,173.8 1723.6,177.2 1728.5,174.7 1733.5,173.9 1738.4,174.9 1743.3,218.4 1748.3,252.6 1753.2,265.8 1758.2,272.1 1763.1,275.3 1768.0,278.3 1773.0,280.1 1777.9,281.7 1782.8,281.1 1787.8,280.5 1792.7,281.6 1797.7,280.4 1802.6,279.3 1807.5,279.6 1812.5,277.8 1817.4,277.2 1822.3,275.9 1827.3,275.4 1832.2,274.0 1837.2,272.8 1842.1,271.8 1847.0,270.0 1852.0,269.5 1856.9,268.1 1861.9,267.1 1866.8,266.3 1871.7,265.4 1876.7,264.0 1881.6,263.2 1886.5,262.1 1891.5,262.3 1896.4,260.9 1901.4,260.3 1906.3,259.4 1911.2,258.3 1916.2,257.1 1921.1,257.7 1926.1,256.5 1931.0,254.8 1935.9,254.1 1940.9,252.6 1945.8,252.0 1950.7,251.4 1955.7,250.2 1960.6,248.5 1965.6,248.7 1970.5,247.5" fill="none" stroke="none" marker-start="url(#mtG)" marker-mid="url(#mtG)" marker-end="url(#mtG)"/>
<polyline points="1377.9,295.6 1382.8,293.9 1387.8,293.6 1392.7,292.2 1397.7,291.9 1402.6,291.6 1407.5,289.6 1412.5,289.4 1417.4,288.1 1422.3,287.5 1427.3,302.9 1432.2,272.2 1437.2,249.7 1442.1,236.1 1447.0,231.0 1452.0,226.2 1456.9,223.3 1461.9,220.6 1466.8,218.6 1471.7,217.3 1476.7,216.1 1481.6,214.1 1486.5,212.7 1491.5,211.8 1496.4,210.4 1501.4,209.8 1506.3,208.4 1511.2,207.6 1516.2,206.4 1521.1,204.3 1526.1,204.9 1531.0,203.5 1535.9,203.9 1540.9,202.4 1545.8,201.6 1550.7,201.2 1555.7,200.5 1560.6,199.4 1565.6,198.3 1570.5,196.9 1575.4,198.1 1580.4,196.9 1585.3,196.0 1590.2,195.9 1595.2,195.1 1600.1,194.9 1605.1,195.1 1610.0,194.8 1614.9,195.2 1619.9,194.6 1624.8,194.3 1629.8,192.9 1634.7,193.0 1639.6,193.6 1644.6,192.8 1649.5,192.6 1654.4,192.5 1659.4,192.3 1664.3,192.0 1669.3,190.4 1674.2,191.8 1679.1,191.5 1684.1,189.5 1689.0,189.9 1694.0,189.9 1698.9,189.2 1703.8,189.7 1708.8,189.4 1713.7,190.1 1718.6,190.0 1723.6,193.8 1728.5,189.6 1733.5,188.9 1738.4,191.5 1743.3,214.0 1748.3,234.8 1753.2,247.5 1758.2,253.3 1763.1,257.9 1768.0,261.3 1773.0,264.2 1777.9,266.0 1782.8,267.7 1787.8,267.8 1792.7,269.5 1797.7,269.7 1802.6,269.7 1807.5,270.4 1812.5,270.3 1817.4,270.5 1822.3,270.7 1827.3,271.8 1832.2,272.4 1837.2,272.8 1842.1,273.4 1847.0,274.0 1852.0,273.2 1856.9,274.1 1861.9,273.9 1866.8,274.0 1871.7,275.0 1876.7,274.9 1881.6,275.3 1886.5,274.8 1891.5,275.2 1896.4,273.4 1901.4,274.6 1906.3,275.2 1911.2,274.6 1916.2,274.0 1921.1,274.2 1926.1,275.3 1931.0,272.8 1935.9,273.6 1940.9,273.9 1945.8,273.8 1950.7,273.4 1955.7,272.8 1960.6,272.0 1965.6,271.6 1970.5,271.3" fill="none" stroke="none" marker-start="url(#mcN)" marker-mid="url(#mcN)" marker-end="url(#mcN)"/>
<polyline points="1377.9,295.3 1382.8,293.6 1387.8,292.8 1392.7,292.3 1397.7,290.3 1402.6,288.8 1407.5,287.4 1412.5,286.2 1417.4,284.4 1422.3,284.7 1427.3,324.4 1432.2,272.3 1437.2,246.5 1442.1,232.2 1447.0,224.0 1452.0,217.4 1456.9,212.0 1461.9,207.4 1466.8,203.8 1471.7,200.8 1476.7,198.9 1481.6,198.1 1486.5,196.4 1491.5,194.4 1496.4,192.5 1501.4,190.9 1506.3,189.3 1511.2,188.6 1516.2,187.5 1521.1,186.2 1526.1,186.0 1531.0,184.3 1535.9,183.6 1540.9,182.4 1545.8,181.9 1550.7,181.0 1555.7,180.3 1560.6,178.7 1565.6,178.2 1570.5,177.6 1575.4,177.9 1580.4,177.2 1585.3,176.2 1590.2,175.6 1595.2,175.3 1600.1,175.3 1605.1,174.2 1610.0,173.5 1614.9,173.5 1619.9,172.7 1624.8,171.8 1629.8,171.0 1634.7,170.8 1639.6,170.9 1644.6,169.9 1649.5,168.8 1654.4,168.7 1659.4,168.2 1664.3,167.6 1669.3,166.9 1674.2,166.2 1679.1,165.3 1684.1,165.5 1689.0,164.9 1694.0,164.5 1698.9,163.3 1703.8,163.1 1708.8,163.2 1713.7,162.3 1718.6,162.3 1723.6,198.7 1728.5,168.9 1733.5,168.0 1738.4,165.3 1743.3,210.8 1748.3,211.3 1753.2,220.6 1758.2,225.2 1763.1,231.0 1768.0,234.1 1773.0,237.6 1777.9,238.1 1782.8,238.8 1787.8,239.2 1792.7,239.3 1797.7,239.4 1802.6,239.5 1807.5,240.4 1812.5,239.2 1817.4,238.9 1822.3,238.5 1827.3,238.5 1832.2,237.1 1837.2,235.9 1842.1,235.6 1847.0,236.1 1852.0,235.3 1856.9,235.0 1861.9,234.0 1866.8,233.9 1871.7,233.4 1876.7,232.4 1881.6,232.1 1886.5,232.0 1891.5,230.9 1896.4,231.4 1901.4,230.0 1906.3,230.4 1911.2,228.7 1916.2,228.7 1921.1,228.5 1926.1,227.9 1931.0,227.7 1935.9,227.0 1940.9,226.1 1945.8,225.9 1950.7,224.9 1955.7,224.7 1960.6,224.5 1965.6,223.5 1970.5,223.4" fill="none" stroke="none" marker-start="url(#msN)" marker-mid="url(#msN)" marker-end="url(#msN)"/>
<polyline points="1377.9,295.2 1382.8,294.7 1387.8,293.1 1392.7,293.1 1397.7,290.5 1402.6,290.3 1407.5,288.6 1412.5,287.3 1417.4,286.6 1422.3,286.3 1427.3,304.2 1432.2,273.7 1437.2,250.7 1442.1,237.3 1447.0,233.2 1452.0,228.8 1456.9,225.0 1461.9,222.2 1466.8,220.5 1471.7,219.3 1476.7,217.4 1481.6,215.5 1486.5,215.4 1491.5,213.1 1496.4,212.0 1501.4,211.0 1506.3,209.5 1511.2,209.2 1516.2,207.5 1521.1,206.6 1526.1,205.7 1531.0,205.0 1535.9,204.0 1540.9,202.9 1545.8,203.4 1550.7,203.0 1555.7,201.6 1560.6,199.9 1565.6,200.1 1570.5,199.5 1575.4,199.1 1580.4,198.8 1585.3,198.4 1590.2,196.1 1595.2,197.5 1600.1,197.4 1605.1,196.6 1610.0,195.8 1614.9,196.4 1619.9,195.9 1624.8,195.3 1629.8,194.6 1634.7,195.3 1639.6,194.3 1644.6,193.3 1649.5,194.3 1654.4,194.1 1659.4,193.1 1664.3,192.5 1669.3,192.7 1674.2,192.2 1679.1,191.6 1684.1,191.2 1689.0,191.3 1694.0,190.6 1698.9,191.7 1703.8,190.5 1708.8,190.9 1713.7,190.1 1718.6,190.4 1723.6,191.3 1728.5,189.6 1733.5,189.5 1738.4,190.2 1743.3,215.7 1748.3,239.3 1753.2,252.2 1758.2,259.4 1763.1,263.8 1768.0,266.7 1773.0,270.2 1777.9,270.9 1782.8,273.1 1787.8,273.0 1792.7,274.2 1797.7,274.4 1802.6,274.1 1807.5,274.0 1812.5,275.4 1817.4,276.0 1822.3,276.1 1827.3,275.6 1832.2,275.9 1837.2,276.2 1842.1,276.6 1847.0,276.3 1852.0,276.6 1856.9,275.8 1861.9,276.6 1866.8,275.7 1871.7,276.0 1876.7,276.0 1881.6,276.3 1886.5,277.0 1891.5,275.9 1896.4,275.7 1901.4,276.3 1906.3,276.8 1911.2,276.6 1916.2,276.5 1921.1,276.4 1926.1,274.9 1931.0,275.5 1935.9,274.9 1940.9,275.6 1945.8,274.6 1950.7,274.6 1955.7,274.2 1960.6,274.8 1965.6,274.3 1970.5,274.4" fill="none" stroke="none" marker-start="url(#mdN)" marker-mid="url(#mdN)" marker-end="url(#mdN)"/>
<polyline points="1377.9,295.8 1382.8,294.8 1387.8,293.5 1392.7,292.0 1397.7,291.8 1402.6,291.2 1407.5,289.8 1412.5,287.5 1417.4,287.7 1422.3,287.8 1427.3,302.9 1432.2,271.4 1437.2,247.4 1442.1,229.9 1447.0,222.8 1452.0,214.0 1456.9,209.0 1461.9,207.4 1466.8,204.5 1471.7,202.3 1476.7,200.7 1481.6,198.2 1486.5,198.7 1491.5,197.3 1496.4,196.8 1501.4,194.8 1506.3,194.7 1511.2,194.6 1516.2,193.3 1521.1,192.1 1526.1,193.1 1531.0,192.6 1535.9,191.5 1540.9,191.1 1545.8,191.5 1550.7,191.1 1555.7,190.7 1560.6,190.2 1565.6,191.4 1570.5,190.2 1575.4,190.3 1580.4,189.4 1585.3,191.5 1590.2,190.4 1595.2,190.3 1600.1,189.3 1605.1,190.5 1610.0,190.0 1614.9,189.5 1619.9,189.2 1624.8,189.1 1629.8,189.8 1634.7,188.1 1639.6,189.3 1644.6,188.6 1649.5,188.1 1654.4,188.7 1659.4,188.0 1664.3,188.9 1669.3,188.0 1674.2,188.0 1679.1,188.3 1684.1,187.7 1689.0,187.8 1694.0,186.6 1698.9,187.4 1703.8,187.6 1708.8,186.9 1713.7,186.9 1718.6,185.4 1723.6,189.6 1728.5,186.3 1733.5,185.9 1738.4,185.9 1743.3,215.1 1748.3,238.5 1753.2,250.6 1758.2,258.8 1763.1,261.8 1768.0,265.2 1773.0,268.0 1777.9,269.1 1782.8,271.1 1787.8,270.0 1792.7,271.5 1797.7,271.6 1802.6,271.6 1807.5,272.8 1812.5,273.1 1817.4,273.3 1822.3,273.0 1827.3,273.8 1832.2,273.6 1837.2,273.4 1842.1,273.6 1847.0,274.1 1852.0,274.4 1856.9,274.2 1861.9,273.6 1866.8,273.3 1871.7,273.4 1876.7,274.1 1881.6,273.6 1886.5,273.7 1891.5,273.1 1896.4,274.2 1901.4,273.1 1906.3,273.4 1911.2,273.5 1916.2,272.0 1921.1,272.2 1926.1,273.8 1931.0,272.7 1935.9,272.2 1940.9,271.8 1945.8,272.8 1950.7,271.6 1955.7,271.5 1960.6,271.7 1965.6,270.6 1970.5,271.0" fill="none" stroke="none" marker-start="url(#mtN)" marker-mid="url(#mtN)" marker-end="url(#mtN)"/>
<polyline points="1377.9,295.9 1382.8,295.0 1387.8,294.8 1392.7,294.6 1397.7,294.2 1402.6,293.9 1407.5,294.0 1412.5,293.8 1417.4,294.4 1422.3,293.5 1427.3,302.9 1432.2,271.0 1437.2,246.9 1442.1,231.7 1447.0,222.0 1452.0,213.5 1456.9,210.3 1461.9,207.6 1466.8,204.5 1471.7,201.5 1476.7,198.8 1481.6,199.7 1486.5,198.1 1491.5,196.8 1496.4,196.5 1501.4,196.4 1506.3,195.0 1511.2,194.2 1516.2,193.4 1521.1,193.3 1526.1,191.9 1531.0,192.0 1535.9,191.3 1540.9,191.8 1545.8,192.2 1550.7,190.4 1555.7,190.5 1560.6,190.3 1565.6,190.5 1570.5,190.7 1575.4,190.6 1580.4,189.9 1585.3,190.7 1590.2,190.4 1595.2,190.2 1600.1,189.9 1605.1,188.8 1610.0,190.0 1614.9,188.4 1619.9,189.4 1624.8,189.3 1629.8,189.4 1634.7,188.6 1639.6,188.1 1644.6,189.2 1649.5,188.7 1654.4,188.6 1659.4,188.6 1664.3,188.6 1669.3,187.7 1674.2,187.4 1679.1,187.4 1684.1,187.6 1689.0,187.1 1694.0,186.6 1698.9,186.7 1703.8,186.3 1708.8,186.8 1713.7,186.3 1718.6,186.4 1723.6,191.7 1728.5,188.0 1733.5,186.6 1738.4,187.9 1743.3,211.2 1748.3,230.5 1753.2,239.6 1758.2,250.3 1763.1,254.7 1768.0,258.0 1773.0,259.1 1777.9,261.5 1782.8,261.9 1787.8,262.0 1792.7,263.3 1797.7,263.9 1802.6,265.4 1807.5,266.6 1812.5,267.1 1817.4,267.1 1822.3,267.6 1827.3,266.6 1832.2,266.7 1837.2,267.3 1842.1,268.3 1847.0,267.9 1852.0,268.3 1856.9,268.4 1861.9,268.3 1866.8,268.2 1871.7,268.3 1876.7,268.2 1881.6,269.0 1886.5,268.3 1891.5,267.6 1896.4,267.5 1901.4,268.2 1906.3,267.3 1911.2,267.2 1916.2,267.6 1921.1,266.8 1926.1,266.4 1931.0,266.4 1935.9,265.3 1940.9,266.2 1945.8,265.6 1950.7,265.2 1955.7,264.8 1960.6,265.0 1965.6,264.2 1970.5,263.9" fill="none" stroke="none" marker-start="url(#mcK)" marker-mid="url(#mcK)" marker-end="url(#mcK)"/>
<polyline points="1377.9,295.4 1382.8,295.5 1387.8,294.4 1392.7,295.0 1397.7,294.9 1402.6,293.9 1407.5,293.4 1412.5,293.3 1417.4,293.2 1422.3,293.6 1427.3,302.9 1432.2,272.0 1437.2,248.9 1442.1,236.1 1447.0,230.9 1452.0,226.9 1456.9,223.5 1461.9,221.6 1466.8,219.3 1471.7,218.2 1476.7,215.0 1481.6,213.7 1486.5,212.7 1491.5,211.0 1496.4,210.3 1501.4,209.7 1506.3,208.4 1511.2,207.5 1516.2,204.6 1521.1,206.0 1526.1,206.0 1531.0,203.5 1535.9,203.9 1540.9,203.4 1545.8,201.3 1550.7,201.8 1555.7,201.2 1560.6,199.7 1565.6,199.5 1570.5,197.8 1575.4,198.0 1580.4,197.0 1585.3,195.9 1590.2,195.2 1595.2,197.0 1600.1,195.8 1605.1,195.4 1610.0,194.5 1614.9,194.8 1619.9,194.8 1624.8,193.3 1629.8,193.1 1634.7,193.4 1639.6,194.3 1644.6,193.0 1649.5,193.3 1654.4,191.3 1659.4,191.7 1664.3,191.5 1669.3,190.9 1674.2,190.6 1679.1,191.3 1684.1,190.0 1689.0,189.9 1694.0,191.1 1698.9,189.0 1703.8,189.2 1708.8,189.3 1713.7,188.9 1718.6,189.6 1723.6,195.4 1728.5,189.6 1733.5,189.4 1738.4,188.6 1743.3,223.9 1748.3,247.5 1753.2,262.3 1758.2,269.2 1763.1,273.2 1768.0,276.6 1773.0,278.2 1777.9,280.4 1782.8,281.3 1787.8,281.5 1792.7,282.0 1797.7,282.8 1802.6,283.8 1807.5,284.0 1812.5,283.8 1817.4,284.1 1822.3,285.3 1827.3,284.4 1832.2,284.6 1837.2,284.7 1842.1,284.5 1847.0,284.9 1852.0,284.2 1856.9,285.4 1861.9,285.6 1866.8,285.0 1871.7,284.9 1876.7,285.7 1881.6,284.8 1886.5,284.9 1891.5,285.6 1896.4,285.1 1901.4,284.3 1906.3,284.2 1911.2,285.1 1916.2,284.0 1921.1,284.2 1926.1,283.0 1931.0,284.0 1935.9,283.3 1940.9,284.2 1945.8,282.6 1950.7,283.0 1955.7,283.0 1960.6,282.7 1965.6,282.2 1970.5,282.1" fill="none" stroke="none" marker-start="url(#msK)" marker-mid="url(#msK)" marker-end="url(#msK)"/>
<polyline points="1377.9,296.0 1382.8,295.2 1387.8,294.2 1392.7,293.7 1397.7,294.6 1402.6,293.5 1407.5,294.3 1412.5,293.9 1417.4,293.3 1422.3,294.0 1427.3,303.8 1432.2,273.6 1437.2,248.5 1442.1,232.1 1447.0,223.6 1452.0,214.0 1456.9,211.4 1461.9,207.8 1466.8,206.1 1471.7,202.5 1476.7,200.6 1481.6,200.3 1486.5,198.2 1491.5,197.7 1496.4,197.2 1501.4,195.9 1506.3,194.9 1511.2,194.4 1516.2,194.3 1521.1,194.1 1526.1,193.7 1531.0,192.6 1535.9,192.5 1540.9,192.4 1545.8,192.1 1550.7,192.1 1555.7,191.9 1560.6,191.3 1565.6,191.9 1570.5,192.0 1575.4,191.7 1580.4,191.8 1585.3,191.7 1590.2,190.6 1595.2,190.0 1600.1,190.9 1605.1,190.5 1610.0,190.7 1614.9,190.2 1619.9,190.9 1624.8,190.1 1629.8,189.3 1634.7,190.4 1639.6,189.9 1644.6,189.8 1649.5,189.9 1654.4,189.0 1659.4,189.3 1664.3,188.3 1669.3,188.8 1674.2,188.9 1679.1,188.8 1684.1,188.8 1689.0,187.7 1694.0,188.0 1698.9,187.0 1703.8,187.7 1708.8,187.3 1713.7,187.3 1718.6,188.2 1723.6,192.9 1728.5,188.8 1733.5,188.3 1738.4,188.9 1743.3,222.5 1748.3,244.8 1753.2,258.8 1758.2,262.4 1763.1,264.3 1768.0,267.8 1773.0,270.0 1777.9,271.2 1782.8,271.8 1787.8,273.0 1792.7,273.8 1797.7,274.2 1802.6,273.3 1807.5,274.2 1812.5,273.9 1817.4,274.5 1822.3,274.8 1827.3,274.0 1832.2,274.2 1837.2,273.8 1842.1,275.4 1847.0,275.1 1852.0,274.7 1856.9,275.8 1861.9,274.6 1866.8,275.3 1871.7,275.2 1876.7,275.4 1881.6,274.3 1886.5,274.6 1891.5,275.4 1896.4,275.5 1901.4,274.1 1906.3,274.0 1911.2,274.5 1916.2,273.4 1921.1,274.0 1926.1,273.9 1931.0,273.4 1935.9,273.9 1940.9,274.0 1945.8,272.9 1950.7,273.3 1955.7,273.1 1960.6,272.2 1965.6,272.4 1970.5,272.9" fill="none" stroke="none" marker-start="url(#mdK)" marker-mid="url(#mdK)" marker-end="url(#mdK)"/>
<polyline points="1377.9,295.1 1382.8,296.6 1387.8,294.9 1392.7,293.8 1397.7,294.9 1402.6,294.2 1407.5,293.3 1412.5,294.5 1417.4,293.5 1422.3,292.9 1427.3,302.1 1432.2,269.9 1437.2,245.9 1442.1,229.9 1447.0,221.6 1452.0,212.7 1456.9,207.8 1461.9,205.8 1466.8,203.7 1471.7,199.9 1476.7,197.9 1481.6,196.4 1486.5,195.3 1491.5,193.8 1496.4,194.1 1501.4,193.2 1506.3,191.3 1511.2,191.2 1516.2,190.2 1521.1,190.2 1526.1,188.9 1531.0,189.6 1535.9,187.8 1540.9,187.3 1545.8,186.5 1550.7,185.6 1555.7,185.9 1560.6,185.0 1565.6,183.4 1570.5,183.2 1575.4,182.8 1580.4,183.6 1585.3,181.6 1590.2,182.0 1595.2,181.5 1600.1,182.6 1605.1,181.3 1610.0,182.4 1614.9,180.6 1619.9,180.8 1624.8,180.4 1629.8,180.8 1634.7,179.9 1639.6,179.9 1644.6,180.5 1649.5,179.2 1654.4,179.2 1659.4,179.5 1664.3,177.9 1669.3,178.8 1674.2,178.1 1679.1,178.4 1684.1,178.0 1689.0,176.6 1694.0,175.3 1698.9,176.6 1703.8,176.3 1708.8,176.2 1713.7,175.4 1718.6,174.7 1723.6,179.7 1728.5,177.2 1733.5,175.8 1738.4,176.8 1743.3,218.6 1748.3,242.4 1753.2,257.8 1758.2,263.9 1763.1,268.8 1768.0,270.5 1773.0,272.4 1777.9,275.1 1782.8,275.7 1787.8,275.6 1792.7,275.7 1797.7,275.5 1802.6,276.8 1807.5,276.5 1812.5,278.2 1817.4,277.8 1822.3,277.8 1827.3,278.3 1832.2,278.2 1837.2,277.3 1842.1,277.5 1847.0,277.1 1852.0,278.6 1856.9,276.7 1861.9,276.4 1866.8,276.2 1871.7,277.3 1876.7,277.6 1881.6,276.9 1886.5,277.1 1891.5,276.6 1896.4,278.3 1901.4,277.2 1906.3,276.8 1911.2,277.4 1916.2,277.4 1921.1,275.8 1926.1,276.4 1931.0,277.1 1935.9,275.7 1940.9,276.7 1945.8,276.9 1950.7,276.8 1955.7,276.6 1960.6,275.9 1965.6,276.2 1970.5,275.9" fill="none" stroke="none" marker-start="url(#mtK)" marker-mid="url(#mtK)" marker-end="url(#mtK)"/>
<path d="M1377.9 49.0V343.5M1372.9 338.5H1970.5" stroke="#404040" stroke-width="1" fill="none"/>
<path d="M1372.9 338.5H1377.9M1372.9 297.1H1377.9M1372.9 255.8H1377.9M1372.9 214.4H1377.9M1372.9 173.1H1377.9M1372.9 131.7H1377.9M1372.9 90.4H1377.9M1372.9 49.0H1377.9M1476.7 338.5V343.5M1575.4 338.5V343.5M1674.2 338.5V343.5M1773.0 338.5V343.5M1871.7 338.5V343.5M1970.5 338.5V343.5" stroke="#404040" stroke-width="1" fill="none"/>
<text x="1365.1" y="343.2" font-size="16" text-anchor="end" class="r">-5</text>
<text x="1365.1" y="301.9" font-size="16" text-anchor="end" class="r">0</text>
<text x="1365.1" y="260.5" font-size="16" text-anchor="end" class="r">5</text>
<text x="1365.1" y="219.2" font-size="16" text-anchor="end" class="r">10</text>
<text x="1365.1" y="177.8" font-size="16" text-anchor="end" class="r">15</text>
<text x="1365.1" y="136.4" font-size="16" text-anchor="end" class="r">20</text>
<text x="1365.1" y="95.1" font-size="16" text-anchor="end" class="r">25</text>
<text x="1365.1" y="53.7" font-size="16" text-anchor="end" class="r">30</text>
<text x="1377.9" y="362.1" font-size="16" text-anchor="middle" class="r">0</text>
<text x="1476.7" y="362.1" font-size="16" text-anchor="middle" class="r">100</text>
<text x="1575.4" y="362.1" font-size="16" text-anchor="middle" class="r">200</text>
<text x="1674.2" y="362.1" font-size="16" text-anchor="middle" class="r">300</text>
<text x="1773.0" y="362.1" font-size="16" text-anchor="middle" class="r">400</text>
<text x="1871.7" y="362.1" font-size="16" text-anchor="middle" class="r">500</text>
<text x="1970.5" y="362.1" font-size="16" text-anchor="middle" class="r">600</text>
<text x="1674.2" y="385" font-size="17" font-weight="bold" text-anchor="middle">Time (s)</text>
<text transform="translate(1341.5,194) rotate(-90)" font-size="17.25" font-weight="bold" text-anchor="middle" xml:space="preserve">Response  (%)</text>
<text x="1667" y="32.1" font-size="17" font-weight="bold" text-anchor="middle">MMS 1.33</text>
<text x="1335.5" y="24.5" font-size="35" font-weight="bold">c</text>
<circle cx="1416.6" cy="51.3" r="2.04" fill="#c00000"/>
<text x="1425.0" y="56.4" font-size="15" class="r">A1</text>
<rect x="1450.7" y="49.4" width="3.9" height="3.9" fill="#c00000"/>
<text x="1461.0" y="56.4" font-size="15" class="r">A2</text>
<path d="M1490.0 49.0L1492.3 51.3L1490.0 53.6L1487.7 51.3Z" fill="#c00000"/>
<text x="1498.4" y="56.4" font-size="15" class="r">A3</text>
<circle cx="1526.0" cy="51.3" r="2.04" fill="#6aaa3e"/>
<text x="1534.4" y="56.4" font-size="15" class="r">B1</text>
<rect x="1560.2" y="49.4" width="3.9" height="3.9" fill="#6aaa3e"/>
<text x="1570.5" y="56.4" font-size="15" class="r">B2</text>
<path d="M1599.3 49.0L1601.6 51.3L1599.3 53.6L1597.0 51.3Z" fill="#6aaa3e"/>
<text x="1607.7" y="56.4" font-size="15" class="r">B3</text>
<path d="M1635.9 48.9L1638.3 53.2L1633.5 53.2Z" fill="#6aaa3e"/>
<text x="1644.3" y="56.4" font-size="15" class="r">B4</text>
<circle cx="1671.9" cy="51.3" r="2.04" fill="#002060"/>
<text x="1680.3" y="56.4" font-size="15" class="r">C1</text>
<rect x="1706.6" y="49.4" width="3.9" height="3.9" fill="#002060"/>
<text x="1716.9" y="56.4" font-size="15" class="r">C2</text>
<path d="M1746.8 49.0L1749.1 51.3L1746.8 53.6L1744.5 51.3Z" fill="#002060"/>
<text x="1755.2" y="56.4" font-size="15" class="r">C3</text>
<path d="M1783.8 48.9L1786.2 53.2L1781.4 53.2Z" fill="#002060"/>
<text x="1792.2" y="56.4" font-size="15" class="r">C4</text>
<circle cx="1821.2" cy="51.3" r="2.04" fill="#000000"/>
<text x="1829.6" y="56.4" font-size="15" class="r">D1</text>
<rect x="1856.3" y="49.4" width="3.9" height="3.9" fill="#000000"/>
<text x="1866.6" y="56.4" font-size="15" class="r">D2</text>
<path d="M1896.5 49.0L1898.8 51.3L1896.5 53.6L1894.2 51.3Z" fill="#000000"/>
<text x="1904.9" y="56.4" font-size="15" class="r">D3</text>
<path d="M1933.5 48.9L1935.9 53.2L1931.1 53.2Z" fill="#000000"/>
<text x="1941.9" y="56.4" font-size="15" class="r">D4</text>
<polyline points="54.5,708.1 59.2,708.3 63.8,706.6 68.5,708.1 73.1,708.4 77.8,706.4 82.5,706.1 87.1,707.4 91.8,706.9 96.4,704.0 101.1,681.0 105.8,620.3 110.4,592.3 115.1,582.7 119.7,575.2 124.4,572.6 129.1,571.4 133.7,569.0 138.4,567.7 143.0,565.1 147.7,564.2 152.4,564.6 157.0,562.4 161.7,562.5 166.4,561.1 171.0,560.7 175.7,559.4 180.3,561.0 185.0,558.0 189.7,558.8 194.3,556.3 199.0,557.6 203.6,556.5 208.3,556.2 213.0,555.0 217.6,553.9 222.3,554.2 226.9,553.9 231.6,553.4 236.3,553.2 240.9,552.7 245.6,552.9 250.2,552.1 254.9,550.5 259.6,550.4 264.2,552.2 268.9,550.7 273.5,550.0 278.2,550.2 282.9,549.9 287.5,549.1 292.2,547.9 296.8,547.5 301.5,548.0 306.2,547.1 310.8,547.5 315.5,546.8 320.1,547.0 324.8,547.8 329.5,546.9 334.1,545.8 338.8,545.0 343.4,545.5 348.1,544.0 352.8,544.7 357.4,545.3 362.1,545.6 366.7,543.4 371.4,545.3 376.1,546.0 380.7,521.5 385.4,536.7 390.1,538.5 394.7,576.8 399.4,646.7 404.0,673.3 408.7,685.8 413.4,691.9 418.0,694.6 422.7,696.1 427.3,699.0 432.0,699.5 436.7,699.1 441.3,700.0 446.0,700.9 450.6,700.7 455.3,701.1 460.0,701.7 464.6,701.6 469.3,703.6 473.9,701.5 478.6,700.9 483.3,701.0 487.9,701.8 492.6,700.1 497.2,700.2 501.9,701.8 506.6,701.1 511.2,701.3 515.9,701.5 520.5,700.0 525.2,699.9 529.9,701.2 534.5,700.7 539.2,700.1 543.8,700.6 548.5,699.5 553.2,699.9 557.8,699.8 562.5,701.2 567.1,699.0 571.8,701.6 576.5,699.8 581.1,698.8 585.8,699.5 590.4,700.0 595.1,699.7 599.8,700.2 604.4,698.2 609.1,698.7 613.8,699.6" fill="none" stroke="none" marker-start="url(#mdR)" marker-mid="url(#mdR)" marker-end="url(#mdR)"/>
<polyline points="54.5,705.8 59.2,705.6 63.8,703.8 68.5,702.9 73.1,702.7 77.8,701.1 82.5,700.0 87.1,700.8 91.8,698.8 96.4,697.2 101.1,710.7 105.8,645.5 110.4,619.9 115.1,612.0 119.7,604.0 124.4,599.9 129.1,598.2 133.7,595.2 138.4,591.8 143.0,590.9 147.7,584.7 152.4,586.5 157.0,584.7 161.7,583.8 166.4,584.9 171.0,581.4 175.7,581.5 180.3,578.9 185.0,578.4 189.7,577.6 194.3,578.2 199.0,577.1 203.6,576.0 208.3,574.7 213.0,574.1 217.6,572.3 222.3,573.4 226.9,572.1 231.6,570.3 236.3,571.8 240.9,568.6 245.6,570.7 250.2,569.6 254.9,570.3 259.6,568.4 264.2,567.9 268.9,567.9 273.5,570.0 278.2,567.5 282.9,568.1 287.5,567.2 292.2,568.8 296.8,566.9 301.5,565.2 306.2,565.3 310.8,564.8 315.5,563.3 320.1,562.7 324.8,563.2 329.5,562.8 334.1,562.4 338.8,564.9 343.4,565.8 348.1,564.3 352.8,562.2 357.4,561.6 362.1,564.5 366.7,561.4 371.4,560.8 376.1,563.6 380.7,571.1 385.4,561.2 390.1,561.3 394.7,582.7 399.4,654.6 404.0,679.0 408.7,689.1 413.4,691.6 418.0,696.1 422.7,698.0 427.3,699.4 432.0,701.6 436.7,701.5 441.3,702.6 446.0,703.4 450.6,701.4 455.3,701.6 460.0,701.9 464.6,703.8 469.3,703.0 473.9,701.4 478.6,703.0 483.3,702.7 487.9,702.0 492.6,701.4 497.2,703.7 501.9,701.8 506.6,702.6 511.2,701.1 515.9,701.4 520.5,701.3 525.2,701.6 529.9,701.2 534.5,700.8 539.2,700.5 543.8,700.9 548.5,699.7 553.2,698.1 557.8,700.4 562.5,699.3 567.1,699.5 571.8,697.2 576.5,697.4 581.1,697.2 585.8,697.8 590.4,696.8 595.1,695.8 599.8,697.4 604.4,697.0 609.1,694.6 613.8,695.1" fill="none" stroke="none" marker-start="url(#msG)" marker-mid="url(#msG)" marker-end="url(#msG)"/>
<polyline points="54.5,706.9 59.2,704.9 63.8,709.3 68.5,707.3 73.1,705.7 77.8,705.7 82.5,705.2 87.1,706.4 91.8,705.1 96.4,703.4 101.1,693.2 105.8,657.3 110.4,632.9 115.1,620.2 119.7,608.8 124.4,604.5 129.1,600.3 133.7,598.9 138.4,595.4 143.0,592.9 147.7,589.4 152.4,589.9 157.0,589.6 161.7,588.2 166.4,587.2 171.0,585.6 175.7,586.8 180.3,583.4 185.0,583.6 189.7,583.4 194.3,582.8 199.0,583.3 203.6,584.3 208.3,582.9 213.0,582.8 217.6,580.5 222.3,582.4 226.9,580.7 231.6,580.2 236.3,582.3 240.9,580.6 245.6,579.8 250.2,578.1 254.9,580.2 259.6,578.4 264.2,578.6 268.9,579.8 273.5,577.5 278.2,577.5 282.9,578.7 287.5,577.3 292.2,577.2 296.8,578.2 301.5,578.9 306.2,576.8 310.8,576.5 315.5,575.9 320.1,575.5 324.8,574.7 329.5,575.5 334.1,576.1 338.8,576.5 343.4,574.0 348.1,576.7 352.8,576.2 357.4,575.0 362.1,576.7 366.7,572.2 371.4,574.2 376.1,575.8 380.7,571.1 385.4,572.6 390.1,574.0 394.7,583.7 399.4,653.3 404.0,676.3 408.7,690.1 413.4,694.5 418.0,696.8 422.7,701.7 427.3,700.6 432.0,703.8 436.7,708.1 441.3,705.7 446.0,707.6 450.6,705.6 455.3,707.0 460.0,708.7 464.6,707.9 469.3,705.9 473.9,708.4 478.6,707.9 483.3,706.0 487.9,706.6 492.6,707.6 497.2,707.5 501.9,707.9 506.6,708.5 511.2,705.5 515.9,706.3 520.5,708.6 525.2,707.8 529.9,709.0 534.5,708.4 539.2,704.6 543.8,706.2 548.5,705.3 553.2,708.3 557.8,706.6 562.5,709.3 567.1,707.4 571.8,706.1 576.5,708.2 581.1,705.6 585.8,707.1 590.4,707.5 595.1,705.1 599.8,706.2 604.4,705.0 609.1,706.8 613.8,707.1" fill="none" stroke="none" marker-start="url(#msR)" marker-mid="url(#msR)" marker-end="url(#msR)"/>
<polyline points="54.5,708.1 59.2,707.7 63.8,708.5 68.5,706.8 73.1,706.1 77.8,706.0 82.5,707.6 87.1,706.7 91.8,706.7 96.4,706.4 101.1,692.0 105.8,669.5 110.4,646.9 115.1,634.2 119.7,627.5 124.4,621.9 129.1,619.2 133.7,615.3 138.4,612.5 143.0,610.6 147.7,609.4 152.4,607.6 157.0,605.3 161.7,604.4 166.4,604.0 171.0,602.4 175.7,602.0 180.3,602.0 185.0,598.8 189.7,599.2 194.3,599.5 199.0,599.5 203.6,596.8 208.3,596.8 213.0,595.9 217.6,594.6 222.3,593.5 226.9,595.0 231.6,593.7 236.3,594.1 240.9,595.0 245.6,592.6 250.2,593.1 254.9,593.0 259.6,592.5 264.2,592.7 268.9,590.6 273.5,589.6 278.2,590.4 282.9,591.4 287.5,592.1 292.2,590.1 296.8,591.0 301.5,590.3 306.2,589.4 310.8,590.0 315.5,589.6 320.1,589.6 324.8,589.7 329.5,588.4 334.1,589.0 338.8,587.7 343.4,588.7 348.1,588.1 352.8,588.3 357.4,589.4 362.1,587.5 366.7,588.0 371.4,586.8 376.1,586.9 380.7,572.6 385.4,580.2 390.1,584.8 394.7,592.9 399.4,655.1 404.0,677.6 408.7,685.6 413.4,691.9 418.0,696.8 422.7,699.6 427.3,701.1 432.0,704.0 436.7,705.5 441.3,706.7 446.0,706.8 450.6,706.2 455.3,707.8 460.0,707.6 464.6,708.5 469.3,707.7 473.9,707.1 478.6,707.4 483.3,707.8 487.9,707.0 492.6,707.7 497.2,706.9 501.9,707.8 506.6,707.8 511.2,704.9 515.9,706.9 520.5,706.2 525.2,706.9 529.9,706.3 534.5,708.0 539.2,707.2 543.8,706.6 548.5,705.3 553.2,705.9 557.8,707.0 562.5,706.1 567.1,705.6 571.8,706.7 576.5,705.4 581.1,703.8 585.8,704.9 590.4,705.7 595.1,706.1 599.8,705.2 604.4,705.6 609.1,703.4 613.8,705.7" fill="none" stroke="none" marker-start="url(#mcR)" marker-mid="url(#mcR)" marker-end="url(#mcR)"/>
<polyline points="54.5,705.3 59.2,703.8 63.8,702.5 68.5,703.4 73.1,702.0 77.8,701.3 82.5,699.7 87.1,698.4 91.8,698.2 96.4,696.8 101.1,714.2 105.8,698.9 110.4,681.8 115.1,667.7 119.7,659.0 124.4,653.4 129.1,647.1 133.7,642.5 138.4,635.4 143.0,630.4 147.7,626.9 152.4,626.3 157.0,623.9 161.7,622.5 166.4,620.2 171.0,618.4 175.7,618.2 180.3,617.7 185.0,616.2 189.7,614.7 194.3,614.6 199.0,611.5 203.6,610.6 208.3,611.6 213.0,610.1 217.6,609.9 222.3,608.9 226.9,608.2 231.6,609.0 236.3,607.8 240.9,609.1 245.6,608.4 250.2,606.9 254.9,608.5 259.6,608.5 264.2,608.2 268.9,608.0 273.5,607.4 278.2,607.4 282.9,607.0 287.5,607.2 292.2,607.1 296.8,607.0 301.5,606.9 306.2,607.1 310.8,606.2 315.5,604.6 320.1,606.7 324.8,606.0 329.5,606.8 334.1,607.0 338.8,607.8 343.4,605.7 348.1,606.3 352.8,607.1 357.4,605.9 362.1,605.0 366.7,606.4 371.4,606.8 376.1,606.6 380.7,616.9 385.4,609.2 390.1,607.8 394.7,612.1 399.4,655.0 404.0,678.7 408.7,687.6 413.4,692.7 418.0,695.2 422.7,696.2 427.3,697.7 432.0,699.8 436.7,700.1 441.3,699.8 446.0,699.9 450.6,699.7 455.3,697.8 460.0,698.9 464.6,697.3 469.3,697.6 473.9,696.5 478.6,696.3 483.3,693.6 487.9,692.3 492.6,690.3 497.2,689.1 501.9,686.2 506.6,685.5 511.2,683.7 515.9,681.2 520.5,680.1 525.2,679.8 529.9,678.4 534.5,676.7 539.2,677.5 543.8,676.0 548.5,674.8 553.2,675.3 557.8,673.5 562.5,671.7 567.1,672.3 571.8,671.1 576.5,671.1 581.1,669.6 585.8,669.1 590.4,668.6 595.1,667.8 599.8,669.0 604.4,667.4 609.1,667.2 613.8,668.5" fill="none" stroke="none" marker-start="url(#mcG)" marker-mid="url(#mcG)" marker-end="url(#mcG)"/>
<polyline points="54.5,704.3 59.2,704.3 63.8,703.5 68.5,703.1 73.1,702.5 77.8,701.8 82.5,699.4 87.1,697.8 91.8,697.2 96.4,696.8 101.1,713.0 105.8,697.1 110.4,677.3 115.1,664.7 119.7,654.4 124.4,648.7 129.1,643.6 133.7,639.8 138.4,634.7 143.0,629.8 147.7,629.1 152.4,627.9 157.0,626.1 161.7,624.5 166.4,623.3 171.0,623.2 175.7,622.5 180.3,621.4 185.0,619.9 189.7,620.3 194.3,617.3 199.0,618.0 203.6,617.1 208.3,615.4 213.0,616.5 217.6,615.5 222.3,615.6 226.9,614.6 231.6,615.1 236.3,614.5 240.9,615.1 245.6,614.0 250.2,614.9 254.9,615.5 259.6,614.6 264.2,616.1 268.9,613.9 273.5,614.8 278.2,614.9 282.9,615.2 287.5,614.7 292.2,615.5 296.8,615.8 301.5,616.2 306.2,615.9 310.8,615.2 315.5,617.0 320.1,616.0 324.8,616.6 329.5,616.5 334.1,616.0 338.8,616.7 343.4,617.8 348.1,617.4 352.8,618.3 357.4,617.4 362.1,618.2 366.7,616.7 371.4,617.4 376.1,619.2 380.7,632.1 385.4,626.0 390.1,623.4 394.7,623.8 399.4,632.4 404.0,681.2 408.7,689.4 413.4,694.4 418.0,696.2 422.7,698.6 427.3,700.8 432.0,700.5 436.7,702.5 441.3,702.5 446.0,703.5 450.6,703.0 455.3,703.2 460.0,703.2 464.6,703.7 469.3,703.6 473.9,703.1 478.6,703.3 483.3,702.7 487.9,702.1 492.6,701.4 497.2,700.4 501.9,699.8 506.6,698.2 511.2,698.0 515.9,698.2 520.5,697.2 525.2,696.3 529.9,696.2 534.5,694.7 539.2,696.1 543.8,694.1 548.5,693.5 553.2,694.1 557.8,693.6 562.5,690.9 567.1,691.5 571.8,691.1 576.5,691.4 581.1,689.8 585.8,690.1 590.4,689.6 595.1,688.5 599.8,687.7 604.4,688.0 609.1,688.4 613.8,687.2" fill="none" stroke="none" marker-start="url(#mdG)" marker-mid="url(#mdG)" marker-end="url(#mdG)"/>
<polyline points="54.5,707.7 59.2,708.2 63.8,707.1 68.5,707.7 73.1,706.6 77.8,708.1 82.5,706.9 87.1,707.1 91.8,706.6 96.4,707.4 101.1,712.3 105.8,688.2 110.4,672.4 115.1,655.2 119.7,646.8 124.4,642.5 129.1,637.4 133.7,635.1 138.4,632.0 143.0,628.8 147.7,627.4 152.4,625.6 157.0,624.6 161.7,624.2 166.4,621.9 171.0,621.3 175.7,620.2 180.3,619.5 185.0,619.7 189.7,618.4 194.3,616.8 199.0,617.2 203.6,616.9 208.3,615.4 213.0,614.5 217.6,613.6 222.3,613.4 226.9,613.3 231.6,612.6 236.3,612.5 240.9,612.3 245.6,611.3 250.2,611.8 254.9,611.2 259.6,611.8 264.2,611.2 268.9,610.6 273.5,609.8 278.2,609.8 282.9,609.9 287.5,609.3 292.2,609.8 296.8,608.2 301.5,609.4 306.2,608.6 310.8,607.9 315.5,608.9 320.1,608.4 324.8,607.7 329.5,606.5 334.1,608.0 338.8,606.9 343.4,607.9 348.1,606.6 352.8,607.1 357.4,607.8 362.1,607.3 366.7,607.1 371.4,607.4 376.1,607.6 380.7,614.6 385.4,609.2 390.1,608.6 394.7,608.2 399.4,631.8 404.0,654.7 408.7,660.0 413.4,665.6 418.0,670.6 422.7,673.7 427.3,676.2 432.0,678.1 436.7,679.3 441.3,681.1 446.0,680.5 450.6,682.5 455.3,682.5 460.0,683.4 464.6,683.1 469.3,685.0 473.9,684.6 478.6,684.8 483.3,684.9 487.9,684.0 492.6,683.8 497.2,684.5 501.9,683.7 506.6,684.6 511.2,683.2 515.9,683.9 520.5,683.6 525.2,682.2 529.9,683.1 534.5,682.5 539.2,681.8 543.8,682.2 548.5,682.1 553.2,682.1 557.8,681.6 562.5,680.8 567.1,681.1 571.8,681.4 576.5,680.9 581.1,679.5 585.8,680.6 590.4,679.3 595.1,679.1 599.8,678.5 604.4,678.1 609.1,678.1 613.8,678.1" fill="none" stroke="none" marker-start="url(#mcN)" marker-mid="url(#mcN)" marker-end="url(#mcN)"/>
<polyline points="54.5,707.7 59.2,707.3 63.8,707.6 68.5,707.5 73.1,707.1 77.8,707.0 82.5,707.0 87.1,707.8 91.8,707.3 96.4,707.1 101.1,712.2 105.8,689.2 110.4,672.4 115.1,655.4 119.7,647.8 124.4,643.5 129.1,638.6 133.7,635.8 138.4,632.5 143.0,629.9 147.7,628.9 152.4,626.4 157.0,626.4 161.7,624.2 166.4,623.2 171.0,622.6 175.7,620.9 180.3,621.0 185.0,620.5 189.7,619.0 194.3,618.7 199.0,617.6 203.6,616.7 208.3,615.5 213.0,615.8 217.6,615.2 222.3,614.4 226.9,613.9 231.6,614.0 236.3,613.1 240.9,613.8 245.6,613.2 250.2,613.0 254.9,612.5 259.6,611.7 264.2,611.8 268.9,611.0 273.5,612.0 278.2,611.3 282.9,610.3 287.5,610.5 292.2,610.4 296.8,611.0 301.5,609.5 306.2,610.2 310.8,609.2 315.5,609.7 320.1,609.3 324.8,608.1 329.5,609.2 334.1,609.1 338.8,608.6 343.4,609.3 348.1,608.2 352.8,608.1 357.4,608.2 362.1,608.5 366.7,608.0 371.4,608.3 376.1,608.2 380.7,640.5 385.4,610.2 390.1,608.9 394.7,608.2 399.4,633.4 404.0,656.5 408.7,662.8 413.4,667.6 418.0,671.6 422.7,674.8 427.3,676.6 432.0,679.4 436.7,682.1 441.3,682.2 446.0,682.8 450.6,683.8 455.3,685.0 460.0,685.6 464.6,686.1 469.3,687.4 473.9,687.0 478.6,686.2 483.3,685.8 487.9,686.8 492.6,686.5 497.2,685.8 501.9,685.6 506.6,685.8 511.2,685.9 515.9,684.8 520.5,684.6 525.2,685.6 529.9,685.4 534.5,684.2 539.2,684.2 543.8,684.5 548.5,683.9 553.2,683.5 557.8,682.8 562.5,682.8 567.1,682.5 571.8,682.2 576.5,682.2 581.1,681.9 585.8,681.7 590.4,681.0 595.1,681.3 599.8,681.5 604.4,679.9 609.1,679.8 613.8,678.5" fill="none" stroke="none" marker-start="url(#msN)" marker-mid="url(#msN)" marker-end="url(#msN)"/>
<polyline points="54.5,708.2 59.2,707.6 63.8,707.2 68.5,708.4 73.1,708.1 77.8,707.8 82.5,706.7 87.1,706.5 91.8,706.8 96.4,706.7 101.1,712.2 105.8,690.0 110.4,672.3 115.1,655.7 119.7,648.7 124.4,644.6 129.1,639.5 133.7,636.3 138.4,633.8 143.0,630.5 147.7,628.4 152.4,627.4 157.0,626.6 161.7,625.8 166.4,624.1 171.0,624.1 175.7,622.0 180.3,621.1 185.0,620.6 189.7,619.3 194.3,619.4 199.0,618.0 203.6,617.5 208.3,617.2 213.0,616.3 217.6,616.5 222.3,615.9 226.9,616.1 231.6,614.9 236.3,614.2 240.9,613.8 245.6,613.7 250.2,613.3 254.9,612.8 259.6,613.8 264.2,613.0 268.9,612.9 273.5,612.4 278.2,611.9 282.9,611.2 287.5,611.7 292.2,611.6 296.8,612.1 301.5,610.1 306.2,610.9 310.8,609.7 315.5,610.0 320.1,610.4 324.8,610.7 329.5,610.0 334.1,609.7 338.8,609.4 343.4,609.0 348.1,609.9 352.8,609.4 357.4,609.3 362.1,608.5 366.7,608.7 371.4,609.0 376.1,609.1 380.7,628.3 385.4,611.2 390.1,611.0 394.7,610.5 399.4,634.1 404.0,667.4 408.7,673.4 413.4,678.7 418.0,682.9 422.7,686.6 427.3,688.7 432.0,691.2 436.7,692.1 441.3,693.9 446.0,694.1 450.6,693.8 455.3,695.0 460.0,696.8 464.6,697.5 469.3,697.2 473.9,697.7 478.6,697.7 483.3,696.3 487.9,697.7 492.6,697.0 497.2,697.1 501.9,696.0 506.6,696.4 511.2,696.7 515.9,695.6 520.5,695.9 525.2,696.3 529.9,696.0 534.5,696.4 539.2,695.5 543.8,695.0 548.5,694.9 553.2,694.9 557.8,694.3 562.5,694.2 567.1,693.7 571.8,693.2 576.5,693.2 581.1,693.3 585.8,693.1 590.4,692.2 595.1,693.0 599.8,691.6 604.4,691.4 609.1,692.9 613.8,691.6" fill="none" stroke="none" marker-start="url(#mdN)" marker-mid="url(#mdN)" marker-end="url(#mdN)"/>
<polyline points="54.5,708.2 59.2,707.1 63.8,707.7 68.5,707.2 73.1,707.1 77.8,708.3 82.5,706.8 87.1,707.5 91.8,707.5 96.4,706.2 101.1,712.5 105.8,688.5 110.4,669.7 115.1,650.5 119.7,642.6 124.4,637.7 129.1,632.4 133.7,630.1 138.4,627.4 143.0,623.4 147.7,621.8 152.4,620.3 157.0,619.7 161.7,617.6 166.4,616.5 171.0,616.2 175.7,614.2 180.3,613.4 185.0,611.8 189.7,611.9 194.3,610.8 199.0,609.7 203.6,610.1 208.3,609.1 213.0,608.8 217.6,608.0 222.3,606.5 226.9,606.3 231.6,606.1 236.3,605.7 240.9,605.3 245.6,604.5 250.2,604.6 254.9,603.8 259.6,604.1 264.2,603.9 268.9,603.5 273.5,603.5 278.2,602.8 282.9,604.2 287.5,602.8 292.2,602.6 296.8,602.6 301.5,601.5 306.2,601.0 310.8,600.8 315.5,601.6 320.1,600.7 324.8,601.7 329.5,600.9 334.1,600.6 338.8,600.5 343.4,600.4 348.1,599.7 352.8,601.0 357.4,599.9 362.1,600.3 366.7,600.0 371.4,599.1 376.1,599.2 380.7,608.0 385.4,602.3 390.1,600.6 394.7,600.4 399.4,626.2 404.0,655.3 408.7,661.8 413.4,667.0 418.0,673.0 422.7,675.7 427.3,678.9 432.0,679.1 436.7,682.2 441.3,682.8 446.0,684.9 450.6,684.1 455.3,686.7 460.0,686.9 464.6,686.0 469.3,687.2 473.9,687.9 478.6,687.0 483.3,687.5 487.9,687.5 492.6,687.6 497.2,687.6 501.9,687.4 506.6,687.1 511.2,686.8 515.9,686.2 520.5,686.0 525.2,685.9 529.9,685.6 534.5,685.6 539.2,684.8 543.8,684.7 548.5,683.9 553.2,684.6 557.8,682.9 562.5,683.7 567.1,683.5 571.8,682.8 576.5,683.3 581.1,682.5 585.8,682.0 590.4,681.9 595.1,681.5 599.8,682.1 604.4,680.1 609.1,680.8 613.8,681.7" fill="none" stroke="none" marker-start="url(#mtN)" marker-mid="url(#mtN)" marker-end="url(#mtN)"/>
<polyline points="54.5,707.6 59.2,707.5 63.8,707.2 68.5,707.6 73.1,707.9 77.8,707.5 82.5,707.2 87.1,707.0 91.8,707.1 96.4,706.5 101.1,712.1 105.8,689.0 110.4,673.1 115.1,656.6 119.7,649.0 124.4,644.1 129.1,640.9 133.7,637.8 138.4,634.1 143.0,630.9 147.7,629.8 152.4,628.2 157.0,627.4 161.7,626.3 166.4,625.8 171.0,623.6 175.7,623.7 180.3,622.2 185.0,621.5 189.7,621.4 194.3,619.8 199.0,619.8 203.6,618.1 208.3,617.7 213.0,617.7 217.6,617.3 222.3,616.7 226.9,615.8 231.6,615.9 236.3,614.4 240.9,615.8 245.6,614.7 250.2,613.4 254.9,615.5 259.6,614.3 264.2,613.5 268.9,614.4 273.5,612.6 278.2,614.0 282.9,612.6 287.5,612.6 292.2,612.7 296.8,610.7 301.5,612.3 306.2,610.5 310.8,611.0 315.5,610.2 320.1,611.0 324.8,611.3 329.5,610.8 334.1,609.7 338.8,611.4 343.4,610.1 348.1,609.7 352.8,610.1 357.4,610.6 362.1,609.5 366.7,609.6 371.4,609.3 376.1,609.4 380.7,617.4 385.4,612.2 390.1,611.0 394.7,611.1 399.4,634.5 404.0,653.2 408.7,657.7 413.4,663.5 418.0,668.4 422.7,671.3 427.3,672.4 432.0,676.0 436.7,676.7 441.3,679.0 446.0,679.2 450.6,679.3 455.3,680.3 460.0,681.9 464.6,682.1 469.3,682.2 473.9,683.2 478.6,683.6 483.3,682.1 487.9,682.9 492.6,682.4 497.2,680.8 501.9,682.7 506.6,681.8 511.2,681.5 515.9,680.8 520.5,681.3 525.2,680.0 529.9,681.1 534.5,679.9 539.2,679.5 543.8,679.7 548.5,679.4 553.2,678.7 557.8,679.3 562.5,678.3 567.1,678.7 571.8,677.9 576.5,678.5 581.1,678.3 585.8,677.8 590.4,676.9 595.1,676.2 599.8,676.9 604.4,675.7 609.1,676.2 613.8,675.6" fill="none" stroke="none" marker-start="url(#mcK)" marker-mid="url(#mcK)" marker-end="url(#mcK)"/>
<polyline points="54.5,708.3 59.2,707.4 63.8,707.3 68.5,707.2 73.1,707.1 77.8,707.3 82.5,707.0 87.1,706.5 91.8,706.0 96.4,707.0 101.1,712.2 105.8,690.1 110.4,672.4 115.1,656.2 119.7,647.8 124.4,644.2 129.1,639.9 133.7,636.8 138.4,633.3 143.0,631.0 147.7,629.6 152.4,628.2 157.0,626.1 161.7,624.8 166.4,624.1 171.0,623.0 175.7,622.1 180.3,621.8 185.0,620.7 189.7,620.4 194.3,618.8 199.0,618.7 203.6,618.1 208.3,617.0 213.0,616.5 217.6,616.3 222.3,616.3 226.9,615.7 231.6,615.2 236.3,614.4 240.9,613.9 245.6,614.1 250.2,613.4 254.9,614.4 259.6,613.1 264.2,612.9 268.9,613.4 273.5,611.7 278.2,611.9 282.9,610.8 287.5,611.1 292.2,611.3 296.8,612.3 301.5,611.4 306.2,610.1 310.8,609.5 315.5,610.0 320.1,610.5 324.8,609.5 329.5,609.9 334.1,610.3 338.8,609.0 343.4,609.9 348.1,609.4 352.8,609.7 357.4,608.6 362.1,609.2 366.7,609.2 371.4,609.0 376.1,608.5 380.7,616.5 385.4,611.2 390.1,610.2 394.7,609.2 399.4,634.2 404.0,669.4 408.7,674.2 413.4,679.9 418.0,684.7 422.7,687.7 427.3,688.9 432.0,692.2 436.7,693.8 441.3,695.3 446.0,696.2 450.6,697.0 455.3,698.0 460.0,697.5 464.6,698.3 469.3,699.0 473.9,699.2 478.6,698.1 483.3,699.1 487.9,698.0 492.6,699.0 497.2,698.6 501.9,697.6 506.6,698.1 511.2,697.4 515.9,697.9 520.5,697.2 525.2,696.8 529.9,695.9 534.5,696.7 539.2,696.5 543.8,696.2 548.5,696.1 553.2,696.0 557.8,695.5 562.5,695.1 567.1,696.0 571.8,694.3 576.5,694.1 581.1,694.3 585.8,694.6 590.4,693.9 595.1,693.8 599.8,692.8 604.4,693.2 609.1,693.4 613.8,693.1" fill="none" stroke="none" marker-start="url(#mdN)" marker-mid="url(#mdN)" marker-end="url(#mdN)"/>
<polyline points="54.5,707.9 59.2,706.6 63.8,707.0 68.5,707.1 73.1,706.8 77.8,708.1 82.5,706.8 87.1,706.2 91.8,706.1 96.4,707.7 101.1,712.4 105.8,687.8 110.4,669.8 115.1,652.8 119.7,643.7 124.4,638.9 129.1,634.8 133.7,631.4 138.4,627.2 143.0,626.0 147.7,622.7 152.4,622.3 157.0,621.0 161.7,619.7 166.4,618.2 171.0,617.4 175.7,616.7 180.3,614.7 185.0,613.9 189.7,613.7 194.3,612.8 199.0,611.0 203.6,611.5 208.3,610.5 213.0,610.8 217.6,609.8 222.3,609.6 226.9,608.8 231.6,608.1 236.3,607.2 240.9,607.8 245.6,607.3 250.2,605.8 254.9,606.1 259.6,606.0 264.2,606.0 268.9,605.8 273.5,605.8 278.2,603.9 282.9,604.5 287.5,605.0 292.2,604.3 296.8,603.8 301.5,604.3 306.2,603.3 310.8,603.9 315.5,603.5 320.1,603.4 324.8,603.7 329.5,602.9 334.1,602.9 338.8,602.1 343.4,601.7 348.1,600.8 352.8,601.6 357.4,601.9 362.1,601.4 366.7,602.4 371.4,601.8 376.1,602.0 380.7,609.9 385.4,604.3 390.1,603.0 394.7,603.4 399.4,629.0 404.0,656.2 408.7,662.0 413.4,668.4 418.0,672.6 422.7,674.9 427.3,678.3 432.0,680.1 436.7,681.7 441.3,682.9 446.0,683.9 450.6,684.2 455.3,684.9 460.0,686.3 464.6,685.7 469.3,686.3 473.9,687.4 478.6,687.1 483.3,687.7 487.9,687.1 492.6,686.1 497.2,687.3 501.9,687.1 506.6,687.0 511.2,686.8 515.9,686.1 520.5,685.3 525.2,684.8 529.9,684.9 534.5,684.5 539.2,684.6 543.8,684.5 548.5,683.6 553.2,684.6 557.8,683.8 562.5,683.5 567.1,684.6 571.8,683.4 576.5,683.1 581.1,682.0 585.8,682.7 590.4,681.5 595.1,682.7 599.8,681.5 604.4,680.6 609.1,681.0 613.8,679.6" fill="none" stroke="none" marker-start="url(#mtN)" marker-mid="url(#mtN)" marker-end="url(#mtN)"/>
<polyline points="54.5,707.5 59.2,707.9 63.8,706.2 68.5,708.4 73.1,707.1 77.8,707.4 82.5,707.4 87.1,706.6 91.8,708.0 96.4,707.5 101.1,712.1 105.8,688.8 110.4,673.2 115.1,656.7 119.7,650.8 124.4,645.5 129.1,640.5 133.7,638.1 138.4,634.9 143.0,632.1 147.7,632.0 152.4,630.2 157.0,628.4 161.7,628.0 166.4,626.5 171.0,625.1 175.7,624.5 180.3,623.4 185.0,622.4 189.7,621.0 194.3,620.1 199.0,620.5 203.6,620.1 208.3,618.6 213.0,618.3 217.6,617.9 222.3,618.1 226.9,616.8 231.6,616.3 236.3,617.4 240.9,615.6 245.6,615.9 250.2,615.9 254.9,616.1 259.6,615.2 264.2,614.7 268.9,614.6 273.5,614.8 278.2,614.6 282.9,613.3 287.5,613.4 292.2,613.1 296.8,612.7 301.5,612.4 306.2,611.6 310.8,612.4 315.5,612.3 320.1,612.5 324.8,611.7 329.5,611.6 334.1,612.0 338.8,611.5 343.4,611.4 348.1,609.3 352.8,611.5 357.4,610.5 362.1,610.9 366.7,611.1 371.4,610.8 376.1,610.8 380.7,618.3 385.4,613.2 390.1,611.9 394.7,611.9 399.4,635.0 404.0,654.2 408.7,659.5 413.4,664.5 418.0,669.6 422.7,672.5 427.3,673.9 432.0,676.8 436.7,678.2 441.3,679.5 446.0,680.2 450.6,680.5 455.3,681.5 460.0,683.1 464.6,683.5 469.3,683.6 473.9,683.6 478.6,683.0 483.3,684.5 487.9,682.6 492.6,683.7 497.2,682.4 501.9,683.4 506.6,682.7 511.2,681.9 515.9,682.1 520.5,681.4 525.2,680.5 529.9,681.9 534.5,681.9 539.2,681.8 543.8,681.8 548.5,680.9 553.2,681.4 557.8,681.7 562.5,680.4 567.1,678.9 571.8,679.4 576.5,679.9 581.1,679.5 585.8,678.3 590.4,678.3 595.1,678.3 599.8,677.2 604.4,677.3 609.1,677.4 613.8,676.9" fill="none" stroke="none" marker-start="url(#mcK)" marker-mid="url(#mcK)" marker-end="url(#mcK)"/>
<path d="M54.5 479.5V751.6M49.5 746.6H613.8" stroke="#404040" stroke-width="1" fill="none"/>
<path d="M49.5 746.6H54.5M49.5 708.4H54.5M49.5 670.3H54.5M49.5 632.1H54.5M49.5 594.0H54.5M49.5 555.8H54.5M49.5 517.7H54.5M49.5 479.5H54.5M147.7 746.6V751.6M240.9 746.6V751.6M334.1 746.6V751.6M427.3 746.6V751.6M520.5 746.6V751.6M613.8 746.6V751.6" stroke="#404040" stroke-width="1" fill="none"/>
<text x="41.7" y="751.0" font-size="15" text-anchor="end" class="r">-5</text>
<text x="41.7" y="712.8" font-size="15" text-anchor="end" class="r">0</text>
<text x="41.7" y="674.7" font-size="15" text-anchor="end" class="r">5</text>
<text x="41.7" y="636.5" font-size="15" text-anchor="end" class="r">10</text>
<text x="41.7" y="598.3" font-size="15" text-anchor="end" class="r">15</text>
<text x="41.7" y="560.2" font-size="15" text-anchor="end" class="r">20</text>
<text x="41.7" y="522.0" font-size="15" text-anchor="end" class="r">25</text>
<text x="41.7" y="483.9" font-size="15" text-anchor="end" class="r">30</text>
<text x="54.5" y="768.5" font-size="15" text-anchor="middle" class="r">0</text>
<text x="147.7" y="768.5" font-size="15" text-anchor="middle" class="r">100</text>
<text x="240.9" y="768.5" font-size="15" text-anchor="middle" class="r">200</text>
<text x="334.1" y="768.5" font-size="15" text-anchor="middle" class="r">300</text>
<text x="427.3" y="768.5" font-size="15" text-anchor="middle" class="r">400</text>
<text x="520.5" y="768.5" font-size="15" text-anchor="middle" class="r">500</text>
<text x="613.8" y="768.5" font-size="15" text-anchor="middle" class="r">600</text>
<text x="333.8" y="790" font-size="16" font-weight="bold" text-anchor="middle">Time (s)</text>
<text transform="translate(19.4,612.5) rotate(-90)" font-size="16.24" font-weight="bold" text-anchor="middle" xml:space="preserve">Response  (%)</text>
<text x="321.6" y="458.5" font-size="16" font-weight="bold" text-anchor="middle">MMS 1.8</text>
<text x="-1.0" y="451.8" font-size="35" font-weight="bold">d</text>
<circle cx="114.9" cy="475.4" r="2.04" fill="#c00000"/>
<text x="123.4" y="481.4" font-size="15.5" class="r">A1</text>
<rect x="186.1" y="473.5" width="3.9" height="3.9" fill="#c00000"/>
<text x="196.5" y="481.4" font-size="15.5" class="r">A2</text>
<path d="M263.0 473.1L265.3 475.4L263.0 477.7L260.7 475.4Z" fill="#c00000"/>
<text x="271.5" y="481.4" font-size="15.5" class="r">A3</text>
<circle cx="335.7" cy="475.4" r="2.04" fill="#6aaa3e"/>
<text x="344.2" y="481.4" font-size="15.5" class="r">B1</text>
<rect x="406.8" y="473.5" width="3.9" height="3.9" fill="#6aaa3e"/>
<text x="417.2" y="481.4" font-size="15.5" class="r">B2</text>
<path d="M483.2 473.1L485.5 475.4L483.2 477.7L480.9 475.4Z" fill="#6aaa3e"/>
<text x="491.7" y="481.4" font-size="15.5" class="r">B3</text>
<circle cx="556.6" cy="475.4" r="2.04" fill="#002060"/>
<text x="565.1" y="481.4" font-size="15.5" class="r">C1</text>
<rect x="113.0" y="492.2" width="3.9" height="3.9" fill="#002060"/>
<text x="123.4" y="500.0" font-size="15.5" class="r">C2</text>
<path d="M188.0 491.8L190.3 494.1L188.0 496.4L185.7 494.1Z" fill="#002060"/>
<text x="196.5" y="500.0" font-size="15.5" class="r">C3</text>
<path d="M263.0 491.7L265.4 496.0L260.6 496.0Z" fill="#002060"/>
<text x="271.5" y="500.0" font-size="15.5" class="r">C4</text>
<circle cx="335.7" cy="494.1" r="2.04" fill="#000000"/>
<text x="344.2" y="500.0" font-size="15.5" class="r">D1</text>
<path d="M408.7 491.8L411.0 494.1L408.7 496.4L406.4 494.1Z" fill="#002060"/>
<text x="417.2" y="500.0" font-size="15.5" class="r">D2</text>
<path d="M483.2 491.7L485.6 496.0L480.8 496.0Z" fill="#002060"/>
<text x="491.7" y="500.0" font-size="15.5" class="r">D3</text>
<circle cx="556.6" cy="494.1" r="2.04" fill="#000000"/>
<text x="565.1" y="500.0" font-size="15.5" class="r">D4</text>
<polyline points="744.8,705.8 749.4,705.3 753.9,708.8 758.5,705.9 763.1,704.1 767.6,706.9 772.2,703.7 776.8,704.0 781.3,707.2 785.9,704.8 790.5,682.0 795.0,653.5 799.6,635.5 804.2,631.9 808.7,625.1 813.3,618.1 817.9,615.8 822.4,605.0 827.0,619.3 831.6,609.4 836.1,607.5 840.7,609.7 845.2,607.4 849.8,605.5 854.4,603.5 858.9,605.7 863.5,599.3 868.1,604.7 872.6,604.5 877.2,605.4 881.8,603.4 886.3,600.1 890.9,604.8 895.5,604.3 900.0,602.7 904.6,607.5 909.2,602.7 913.7,603.1 918.3,602.4 922.9,602.5 927.4,602.9 932.0,604.3 936.6,606.4 941.1,604.0 945.7,606.8 950.3,604.2 954.8,604.3 959.4,602.6 964.0,601.7 968.5,603.4 973.1,601.9 977.7,601.6 982.2,605.4 986.8,601.9 991.4,605.3 995.9,599.1 1000.5,602.7 1005.1,601.9 1009.6,599.7 1014.2,599.2 1018.8,595.7 1023.3,600.6 1027.9,594.3 1032.4,595.2 1037.0,598.4 1041.6,596.3 1046.1,595.5 1050.7,596.7 1055.3,599.8 1059.8,598.7 1064.4,588.7 1069.0,593.4 1073.5,595.7 1078.1,605.1 1082.7,663.4 1087.2,682.6 1091.8,688.4 1096.4,695.0 1100.9,700.9 1105.5,698.4 1110.1,704.4 1114.6,702.6 1119.2,704.3 1123.8,700.8 1128.3,704.9 1132.9,704.6 1137.5,704.6 1142.0,699.4 1146.6,701.5 1151.2,703.7 1155.7,702.1 1160.3,701.4 1164.9,698.9 1169.4,705.6 1174.0,704.3 1178.6,704.4 1183.1,704.6 1187.7,702.0 1192.3,701.3 1196.8,700.2 1201.4,703.4 1205.9,699.3 1210.5,701.5 1215.1,704.3 1219.6,701.5 1224.2,701.2 1228.8,703.8 1233.3,705.9 1237.9,701.8 1242.5,700.2 1247.0,705.9 1251.6,701.6 1256.2,702.3 1260.7,701.0 1265.3,706.5 1269.9,703.8 1274.4,700.5 1279.0,703.8 1283.6,702.4 1288.1,699.4 1292.7,700.2" fill="none" stroke="none" marker-start="url(#mcR)" marker-mid="url(#mcR)" marker-end="url(#mcR)"/>
<polyline points="744.8,693.5 749.4,689.4 753.9,697.1 758.5,701.1 763.1,700.3 767.6,700.4 772.2,701.9 776.8,699.0 781.3,695.9 785.9,696.5 790.5,693.8 795.0,686.6 799.6,647.6 804.2,651.0 808.7,651.8 813.3,648.5 817.9,636.0 822.4,629.3 827.0,624.8 831.6,619.5 836.1,618.2 840.7,615.6 845.2,613.0 849.8,612.2 854.4,610.5 858.9,608.6 863.5,614.0 868.1,608.5 872.6,589.8 877.2,604.5 881.8,608.7 886.3,606.9 890.9,605.6 895.5,606.9 900.0,608.4 904.6,606.8 909.2,605.6 913.7,606.4 918.3,608.2 922.9,603.8 927.4,606.6 932.0,603.8 936.6,605.8 941.1,600.0 945.7,603.0 950.3,604.8 954.8,601.9 959.4,601.9 964.0,605.6 968.5,603.5 973.1,599.6 977.7,605.0 982.2,597.4 986.8,597.9 991.4,598.7 995.9,597.4 1000.5,600.1 1005.1,600.7 1009.6,598.7 1014.2,596.5 1018.8,598.8 1023.3,601.5 1027.9,599.8 1032.4,597.3 1037.0,602.8 1041.6,594.8 1046.1,599.1 1050.7,596.8 1055.3,595.1 1059.8,598.0 1064.4,612.7 1069.0,604.8 1073.5,605.3 1078.1,623.1 1082.7,657.7 1087.2,677.7 1091.8,686.6 1096.4,690.3 1100.9,694.2 1105.5,698.8 1110.1,697.3 1114.6,704.2 1119.2,703.6 1123.8,702.1 1128.3,704.7 1132.9,703.8 1137.5,703.2 1142.0,702.5 1146.6,701.9 1151.2,703.3 1155.7,703.8 1160.3,702.4 1164.9,698.3 1169.4,703.4 1174.0,701.3 1178.6,706.1 1183.1,701.7 1187.7,702.4 1192.3,703.1 1196.8,699.1 1201.4,700.9 1205.9,701.3 1210.5,702.0 1215.1,702.0 1219.6,702.0 1224.2,698.6 1228.8,698.3 1233.3,703.5 1237.9,699.6 1242.5,697.9 1247.0,700.4 1251.6,701.8 1256.2,699.8 1260.7,698.0 1265.3,701.1 1269.9,701.3 1274.4,697.3 1279.0,699.7 1283.6,702.8 1288.1,701.6 1292.7,701.4" fill="none" stroke="none" marker-start="url(#mcG)" marker-mid="url(#mcG)" marker-end="url(#mcG)"/>
<polyline points="744.8,705.5 749.4,703.6 753.9,702.9 758.5,702.0 763.1,704.2 767.6,700.6 772.2,702.1 776.8,703.3 781.3,704.8 785.9,703.5 790.5,718.6 795.0,686.6 799.6,662.5 804.2,652.9 808.7,643.0 813.3,638.0 817.9,630.1 822.4,627.9 827.0,625.7 831.6,621.5 836.1,618.6 840.7,617.4 845.2,616.4 849.8,617.4 854.4,616.1 858.9,614.2 863.5,613.7 868.1,613.6 872.6,611.5 877.2,596.3 881.8,610.7 886.3,610.9 890.9,611.3 895.5,610.0 900.0,575.8 904.6,593.3 909.2,607.5 913.7,608.4 918.3,607.4 922.9,606.1 927.4,609.4 932.0,607.8 936.6,609.5 941.1,604.8 945.7,604.2 950.3,604.3 954.8,603.7 959.4,605.0 964.0,601.3 968.5,601.8 973.1,607.0 977.7,601.7 982.2,600.6 986.8,603.5 991.4,599.9 995.9,602.2 1000.5,602.5 1005.1,601.8 1009.6,598.7 1014.2,600.9 1018.8,599.5 1023.3,600.7 1027.9,597.2 1032.4,601.9 1037.0,600.8 1041.6,599.4 1046.1,599.5 1050.7,602.5 1055.3,597.8 1059.8,600.2 1064.4,616.6 1069.0,608.8 1073.5,608.7 1078.1,627.0 1082.7,657.9 1087.2,677.7 1091.8,689.5 1096.4,694.4 1100.9,696.5 1105.5,699.6 1110.1,701.0 1114.6,703.5 1119.2,701.0 1123.8,702.9 1128.3,705.5 1132.9,705.0 1137.5,701.8 1142.0,703.9 1146.6,701.8 1151.2,704.0 1155.7,701.8 1160.3,702.1 1164.9,703.9 1169.4,704.4 1174.0,702.4 1178.6,702.7 1183.1,704.8 1187.7,706.3 1192.3,700.6 1196.8,702.5 1201.4,703.2 1205.9,702.3 1210.5,703.9 1215.1,700.3 1219.6,705.0 1224.2,701.0 1228.8,703.9 1233.3,705.0 1237.9,702.6 1242.5,703.0 1247.0,700.8 1251.6,700.6 1256.2,705.4 1260.7,700.3 1265.3,700.3 1269.9,697.0 1274.4,701.3 1279.0,705.3 1283.6,699.4 1288.1,700.0 1292.7,699.4" fill="none" stroke="none" marker-start="url(#mdG)" marker-mid="url(#mdG)" marker-end="url(#mdG)"/>
<polyline points="744.8,705.2 749.4,706.6 753.9,706.2 758.5,705.8 763.1,706.3 767.6,706.0 772.2,704.9 776.8,705.2 781.3,705.6 785.9,706.0 790.5,707.1 795.0,686.3 799.6,668.9 804.2,659.4 808.7,652.1 813.3,647.2 817.9,642.5 822.4,640.5 827.0,636.8 831.6,635.5 836.1,630.7 840.7,629.3 845.2,628.3 849.8,627.8 854.4,625.2 858.9,624.3 863.5,624.0 868.1,623.6 872.6,621.4 877.2,620.9 881.8,622.0 886.3,621.4 890.9,620.4 895.5,619.4 900.0,620.1 904.6,619.0 909.2,617.9 913.7,618.3 918.3,617.8 922.9,616.6 927.4,617.7 932.0,617.0 936.6,615.8 941.1,617.7 945.7,616.1 950.3,614.7 954.8,615.3 959.4,615.6 964.0,616.0 968.5,615.2 973.1,615.1 977.7,614.7 982.2,615.2 986.8,614.6 991.4,612.1 995.9,614.0 1000.5,612.8 1005.1,613.4 1009.6,613.3 1014.2,611.7 1018.8,611.1 1023.3,609.9 1027.9,611.1 1032.4,610.1 1037.0,609.6 1041.6,609.3 1046.1,608.7 1050.7,608.9 1055.3,608.3 1059.8,608.8 1064.4,618.2 1069.0,611.2 1073.5,611.4 1078.1,612.2 1082.7,638.2 1087.2,653.9 1091.8,665.3 1096.4,670.7 1100.9,676.4 1105.5,678.4 1110.1,680.8 1114.6,683.6 1119.2,684.0 1123.8,686.3 1128.3,687.6 1132.9,689.0 1137.5,689.1 1142.0,689.6 1146.6,691.5 1151.2,692.7 1155.7,692.1 1160.3,693.6 1164.9,692.8 1169.4,693.5 1174.0,693.8 1178.6,693.1 1183.1,693.7 1187.7,694.9 1192.3,695.1 1196.8,694.5 1201.4,693.5 1205.9,693.7 1210.5,695.0 1215.1,694.4 1219.6,694.6 1224.2,694.9 1228.8,695.4 1233.3,695.2 1237.9,693.6 1242.5,694.2 1247.0,694.4 1251.6,694.8 1256.2,694.2 1260.7,694.8 1265.3,694.7 1269.9,694.3 1274.4,694.8 1279.0,694.0 1283.6,693.7 1288.1,694.1 1292.7,693.4" fill="none" stroke="none" marker-start="url(#mcN)" marker-mid="url(#mcN)" marker-end="url(#mcN)"/>
<polyline points="744.8,706.3 749.4,705.8 753.9,707.0 758.5,706.4 763.1,705.7 767.6,706.2 772.2,706.2 776.8,706.2 781.3,706.4 785.9,706.4 790.5,743.7 795.0,687.0 799.6,669.3 804.2,659.4 808.7,653.6 813.3,647.1 817.9,643.5 822.4,639.5 827.0,637.3 831.6,634.8 836.1,631.9 840.7,630.4 845.2,628.5 849.8,626.8 854.4,626.1 858.9,625.4 863.5,624.2 868.1,623.5 872.6,623.4 877.2,623.0 881.8,621.2 886.3,621.0 890.9,620.7 895.5,620.2 900.0,619.2 904.6,619.4 909.2,619.5 913.7,618.3 918.3,618.1 922.9,617.3 927.4,616.9 932.0,617.7 936.6,617.7 941.1,617.8 945.7,616.1 950.3,617.8 954.8,615.3 959.4,617.2 964.0,615.9 968.5,615.5 973.1,614.5 977.7,615.0 982.2,616.0 986.8,614.6 991.4,615.9 995.9,614.6 1000.5,614.7 1005.1,614.1 1009.6,614.1 1014.2,612.0 1018.8,612.2 1023.3,612.2 1027.9,611.8 1032.4,610.0 1037.0,609.2 1041.6,609.7 1046.1,609.3 1050.7,609.3 1055.3,608.7 1059.8,608.6 1064.4,639.1 1069.0,611.5 1073.5,611.3 1078.1,613.1 1082.7,639.2 1087.2,654.7 1091.8,660.2 1096.4,667.8 1100.9,671.9 1105.5,675.0 1110.1,677.1 1114.6,679.1 1119.2,681.3 1123.8,682.3 1128.3,682.3 1132.9,684.8 1137.5,685.5 1142.0,686.5 1146.6,686.3 1151.2,687.3 1155.7,688.5 1160.3,688.1 1164.9,688.2 1169.4,689.0 1174.0,688.3 1178.6,689.6 1183.1,689.1 1187.7,690.1 1192.3,689.6 1196.8,690.7 1201.4,690.9 1205.9,689.7 1210.5,690.4 1215.1,690.9 1219.6,689.7 1224.2,690.2 1228.8,690.0 1233.3,691.3 1237.9,690.7 1242.5,690.6 1247.0,689.4 1251.6,689.4 1256.2,690.3 1260.7,691.1 1265.3,689.9 1269.9,689.1 1274.4,690.3 1279.0,689.7 1283.6,689.6 1288.1,688.6 1292.7,689.0" fill="none" stroke="none" marker-start="url(#msN)" marker-mid="url(#msN)" marker-end="url(#msN)"/>
<polyline points="744.8,707.9 749.4,706.9 753.9,707.0 758.5,707.0 763.1,706.3 767.6,705.3 772.2,706.5 776.8,706.0 781.3,706.2 785.9,706.1 790.5,711.9 795.0,686.4 799.6,668.6 804.2,659.9 808.7,653.4 813.3,647.4 817.9,643.7 822.4,640.3 827.0,636.9 831.6,633.7 836.1,632.0 840.7,628.8 845.2,628.3 849.8,626.2 854.4,625.5 858.9,625.4 863.5,623.9 868.1,622.9 872.6,620.9 877.2,620.4 881.8,621.0 886.3,620.5 890.9,620.1 895.5,619.3 900.0,619.5 904.6,619.4 909.2,616.3 913.7,618.7 918.3,619.4 922.9,616.9 927.4,616.4 932.0,617.1 936.6,616.7 941.1,616.3 945.7,615.4 950.3,615.4 954.8,615.5 959.4,615.4 964.0,615.3 968.5,614.4 973.1,614.3 977.7,614.1 982.2,613.8 986.8,613.8 991.4,613.7 995.9,613.1 1000.5,614.0 1005.1,612.8 1009.6,612.9 1014.2,611.6 1018.8,611.2 1023.3,610.4 1027.9,611.3 1032.4,609.4 1037.0,609.2 1041.6,608.0 1046.1,609.5 1050.7,608.6 1055.3,609.9 1059.8,609.1 1064.4,618.2 1069.0,611.2 1073.5,611.3 1078.1,610.6 1082.7,640.3 1087.2,654.2 1091.8,665.6 1096.4,671.0 1100.9,676.4 1105.5,679.0 1110.1,682.0 1114.6,684.2 1119.2,685.7 1123.8,686.8 1128.3,687.0 1132.9,689.4 1137.5,688.2 1142.0,689.5 1146.6,690.2 1151.2,691.9 1155.7,692.5 1160.3,692.5 1164.9,693.9 1169.4,694.2 1174.0,693.1 1178.6,693.9 1183.1,694.8 1187.7,695.2 1192.3,694.6 1196.8,695.2 1201.4,694.9 1205.9,694.7 1210.5,694.6 1215.1,694.2 1219.6,694.6 1224.2,694.4 1228.8,694.9 1233.3,694.7 1237.9,694.8 1242.5,694.6 1247.0,694.2 1251.6,695.1 1256.2,694.5 1260.7,695.9 1265.3,693.9 1269.9,694.9 1274.4,694.0 1279.0,693.0 1283.6,693.1 1288.1,693.7 1292.7,692.4" fill="none" stroke="none" marker-start="url(#mdN)" marker-mid="url(#mdN)" marker-end="url(#mdN)"/>
<polyline points="744.8,705.7 749.4,706.8 753.9,705.4 758.5,705.7 763.1,705.7 767.6,706.5 772.2,706.7 776.8,705.5 781.3,705.8 785.9,705.3 790.5,707.1 795.0,686.6 799.6,669.2 804.2,659.7 808.7,651.3 813.3,645.3 817.9,642.0 822.4,639.1 827.0,636.7 831.6,633.7 836.1,630.7 840.7,629.1 845.2,626.3 849.8,626.9 854.4,624.2 858.9,623.8 863.5,622.9 868.1,622.4 872.6,620.5 877.2,621.2 881.8,619.3 886.3,619.6 890.9,618.9 895.5,618.4 900.0,618.3 904.6,617.7 909.2,617.5 913.7,617.6 918.3,616.7 922.9,616.4 927.4,615.7 932.0,616.4 936.6,614.8 941.1,614.9 945.7,615.2 950.3,614.9 954.8,615.3 959.4,614.1 964.0,613.8 968.5,614.6 973.1,613.6 977.7,612.8 982.2,612.9 986.8,614.1 991.4,612.6 995.9,612.2 1000.5,612.3 1005.1,612.3 1009.6,611.0 1014.2,611.3 1018.8,611.1 1023.3,610.4 1027.9,610.7 1032.4,607.8 1037.0,609.3 1041.6,609.2 1046.1,608.3 1050.7,609.6 1055.3,608.2 1059.8,608.6 1064.4,617.9 1069.0,610.9 1073.5,610.5 1078.1,612.1 1082.7,639.3 1087.2,653.3 1091.8,666.1 1096.4,671.9 1100.9,677.0 1105.5,679.5 1110.1,682.2 1114.6,683.8 1119.2,686.9 1123.8,687.0 1128.3,687.7 1132.9,689.7 1137.5,689.4 1142.0,690.2 1146.6,692.3 1151.2,691.8 1155.7,692.8 1160.3,693.3 1164.9,693.9 1169.4,694.3 1174.0,694.4 1178.6,694.0 1183.1,695.4 1187.7,695.7 1192.3,694.3 1196.8,696.4 1201.4,695.7 1205.9,696.0 1210.5,695.7 1215.1,695.2 1219.6,695.1 1224.2,695.5 1228.8,695.0 1233.3,694.5 1237.9,695.0 1242.5,694.9 1247.0,695.0 1251.6,695.1 1256.2,694.6 1260.7,694.7 1265.3,694.8 1269.9,695.1 1274.4,693.4 1279.0,694.5 1283.6,693.5 1288.1,694.2 1292.7,693.3" fill="none" stroke="none" marker-start="url(#mtN)" marker-mid="url(#mtN)" marker-end="url(#mtN)"/>
<polyline points="744.8,705.7 749.4,705.9 753.9,706.5 758.5,705.9 763.1,705.8 767.6,706.1 772.2,705.6 776.8,706.1 781.3,706.3 785.9,706.6 790.5,707.1 795.0,686.0 799.6,667.8 804.2,657.5 808.7,649.5 813.3,644.0 817.9,640.2 822.4,636.7 827.0,633.9 831.6,630.7 836.1,626.5 840.7,625.6 845.2,624.1 849.8,622.4 854.4,621.3 858.9,621.3 863.5,619.7 868.1,618.4 872.6,617.5 877.2,617.6 881.8,616.5 886.3,615.4 890.9,615.4 895.5,614.4 900.0,614.7 904.6,614.5 909.2,613.6 913.7,613.3 918.3,612.7 922.9,612.4 927.4,611.6 932.0,612.1 936.6,612.4 941.1,611.1 945.7,610.6 950.3,610.6 954.8,610.0 959.4,610.7 964.0,609.6 968.5,609.0 973.1,610.3 977.7,610.0 982.2,610.9 986.8,609.1 991.4,608.9 995.9,608.7 1000.5,609.3 1005.1,608.1 1009.6,608.8 1014.2,607.5 1018.8,608.1 1023.3,606.8 1027.9,607.5 1032.4,607.9 1037.0,606.6 1041.6,607.4 1046.1,607.4 1050.7,606.6 1055.3,606.8 1059.8,607.8 1064.4,616.9 1069.0,609.7 1073.5,608.6 1078.1,609.9 1082.7,638.8 1087.2,653.8 1091.8,660.3 1096.4,667.4 1100.9,671.6 1105.5,674.5 1110.1,676.9 1114.6,678.7 1119.2,680.9 1123.8,682.3 1128.3,683.1 1132.9,685.4 1137.5,684.9 1142.0,685.5 1146.6,687.2 1151.2,687.7 1155.7,687.9 1160.3,689.5 1164.9,688.7 1169.4,688.7 1174.0,690.1 1178.6,688.6 1183.1,690.4 1187.7,690.7 1192.3,690.7 1196.8,689.8 1201.4,691.6 1205.9,690.9 1210.5,690.1 1215.1,690.6 1219.6,692.0 1224.2,689.5 1228.8,690.6 1233.3,690.8 1237.9,690.6 1242.5,689.8 1247.0,689.8 1251.6,690.6 1256.2,690.2 1260.7,690.1 1265.3,689.7 1269.9,690.0 1274.4,689.5 1279.0,688.9 1283.6,688.7 1288.1,688.1 1292.7,689.9" fill="none" stroke="none" marker-start="url(#mcK)" marker-mid="url(#mcK)" marker-end="url(#mcK)"/>
<polyline points="744.8,706.5 749.4,706.4 753.9,704.8 758.5,706.0 763.1,706.4 767.6,705.1 772.2,705.4 776.8,705.8 781.3,705.6 785.9,706.6 790.5,707.1 795.0,686.7 799.6,669.5 804.2,657.6 808.7,650.5 813.3,644.8 817.9,640.8 822.4,638.4 827.0,634.5 831.6,632.1 836.1,628.6 840.7,627.3 845.2,625.3 849.8,623.9 854.4,624.0 858.9,622.8 863.5,621.3 868.1,620.1 872.6,619.9 877.2,619.4 881.8,619.0 886.3,618.3 890.9,617.5 895.5,616.4 900.0,617.0 904.6,615.5 909.2,616.2 913.7,615.4 918.3,615.4 922.9,613.9 927.4,614.1 932.0,612.4 936.6,614.6 941.1,612.2 945.7,613.1 950.3,613.8 954.8,612.2 959.4,612.6 964.0,613.1 968.5,610.8 973.1,610.8 977.7,610.7 982.2,610.2 986.8,610.6 991.4,610.3 995.9,611.0 1000.5,609.9 1005.1,610.1 1009.6,610.1 1014.2,609.8 1018.8,608.9 1023.3,608.7 1027.9,607.5 1032.4,608.4 1037.0,609.2 1041.6,608.6 1046.1,608.2 1050.7,608.2 1055.3,607.5 1059.8,607.7 1064.4,617.4 1069.0,610.3 1073.5,610.4 1078.1,610.7 1082.7,638.5 1087.2,653.2 1091.8,671.9 1096.4,678.2 1100.9,683.6 1105.5,687.3 1110.1,687.7 1114.6,690.3 1119.2,692.6 1123.8,695.0 1128.3,694.0 1132.9,697.3 1137.5,696.7 1142.0,697.5 1146.6,697.9 1151.2,700.0 1155.7,699.7 1160.3,700.1 1164.9,700.2 1169.4,700.6 1174.0,701.5 1178.6,702.0 1183.1,701.4 1187.7,703.3 1192.3,701.1 1196.8,702.6 1201.4,702.8 1205.9,701.9 1210.5,703.0 1215.1,703.5 1219.6,701.6 1224.2,701.4 1228.8,702.4 1233.3,701.1 1237.9,702.7 1242.5,702.9 1247.0,702.6 1251.6,702.3 1256.2,701.3 1260.7,701.1 1265.3,701.9 1269.9,701.1 1274.4,700.0 1279.0,701.1 1283.6,699.9 1288.1,700.5 1292.7,701.0" fill="none" stroke="none" marker-start="url(#mdK)" marker-mid="url(#mdK)" marker-end="url(#mdK)"/>
<polyline points="744.8,706.9 749.4,705.3 753.9,706.6 758.5,707.2 763.1,706.2 767.6,704.9 772.2,706.5 776.8,705.3 781.3,706.2 785.9,706.4 790.5,707.1 795.0,685.0 799.6,665.5 804.2,655.2 808.7,647.8 813.3,640.5 817.9,637.1 822.4,633.9 827.0,629.8 831.6,626.9 836.1,625.7 840.7,622.3 845.2,620.7 849.8,618.8 854.4,617.0 858.9,616.2 863.5,616.1 868.1,614.6 872.6,614.9 877.2,612.5 881.8,612.4 886.3,612.5 890.9,611.8 895.5,611.7 900.0,611.4 904.6,611.2 909.2,610.1 913.7,609.8 918.3,609.1 922.9,608.8 927.4,608.4 932.0,609.6 936.6,607.5 941.1,608.3 945.7,606.6 950.3,605.8 954.8,606.4 959.4,607.4 964.0,605.4 968.5,604.9 973.1,604.5 977.7,606.1 982.2,604.9 986.8,606.2 991.4,605.8 995.9,605.1 1000.5,604.9 1005.1,603.9 1009.6,604.6 1014.2,604.0 1018.8,605.4 1023.3,606.4 1027.9,604.1 1032.4,605.6 1037.0,606.5 1041.6,606.2 1046.1,606.4 1050.7,606.2 1055.3,605.4 1059.8,606.8 1064.4,615.8 1069.0,608.6 1073.5,608.2 1078.1,609.8 1082.7,637.9 1087.2,653.2 1091.8,669.1 1096.4,674.1 1100.9,678.2 1105.5,683.1 1110.1,684.1 1114.6,687.2 1119.2,688.7 1123.8,689.8 1128.3,691.3 1132.9,692.9 1137.5,692.8 1142.0,694.5 1146.6,694.6 1151.2,696.1 1155.7,697.0 1160.3,695.9 1164.9,696.8 1169.4,697.2 1174.0,696.8 1178.6,697.8 1183.1,697.8 1187.7,697.6 1192.3,697.2 1196.8,698.7 1201.4,697.9 1205.9,698.4 1210.5,698.2 1215.1,698.7 1219.6,698.0 1224.2,699.6 1228.8,698.3 1233.3,698.0 1237.9,698.8 1242.5,698.4 1247.0,697.5 1251.6,697.8 1256.2,698.3 1260.7,698.6 1265.3,697.4 1269.9,698.4 1274.4,697.7 1279.0,696.3 1283.6,696.2 1288.1,698.3 1292.7,697.6" fill="none" stroke="none" marker-start="url(#mtK)" marker-mid="url(#mtK)" marker-end="url(#mtK)"/>
<polyline points="744.8,706.5 749.4,705.5 753.9,706.4 758.5,706.7 763.1,706.8 767.6,706.6 772.2,706.3 776.8,706.8 781.3,705.3 785.9,706.8 790.5,707.1 795.0,687.2 799.6,668.5 804.2,659.9 808.7,651.2 813.3,645.1 817.9,642.0 822.4,638.7 827.0,635.6 831.6,632.4 836.1,630.3 840.7,627.7 845.2,625.6 849.8,624.3 854.4,625.1 858.9,623.3 863.5,622.4 868.1,620.9 872.6,621.7 877.2,620.5 881.8,619.3 886.3,619.9 890.9,617.5 895.5,617.2 900.0,618.0 904.6,617.2 909.2,616.8 913.7,616.5 918.3,616.6 922.9,614.3 927.4,614.8 932.0,615.6 936.6,615.2 941.1,613.2 945.7,614.6 950.3,614.5 954.8,614.4 959.4,612.1 964.0,613.9 968.5,612.8 973.1,612.3 977.7,613.2 982.2,612.3 986.8,612.7 991.4,612.4 995.9,611.7 1000.5,609.9 1005.1,611.0 1009.6,610.5 1014.2,610.5 1018.8,610.4 1023.3,608.4 1027.9,610.0 1032.4,609.3 1037.0,608.1 1041.6,609.1 1046.1,607.8 1050.7,607.5 1055.3,607.4 1059.8,608.2 1064.4,617.7 1069.0,610.6 1073.5,610.9 1078.1,610.9 1082.7,639.3 1087.2,654.6 1091.8,666.5 1096.4,673.4 1100.9,678.9 1105.5,683.4 1110.1,682.9 1114.6,685.7 1119.2,687.5 1123.8,689.0 1128.3,691.4 1132.9,690.8 1137.5,692.1 1142.0,693.1 1146.6,692.1 1151.2,694.7 1155.7,694.2 1160.3,696.3 1164.9,696.0 1169.4,694.8 1174.0,696.2 1178.6,696.5 1183.1,696.8 1187.7,696.7 1192.3,696.9 1196.8,696.8 1201.4,698.0 1205.9,696.5 1210.5,697.0 1215.1,696.5 1219.6,697.0 1224.2,698.5 1228.8,696.4 1233.3,696.9 1237.9,696.3 1242.5,696.7 1247.0,697.3 1251.6,696.3 1256.2,697.2 1260.7,697.2 1265.3,696.8 1269.9,695.3 1274.4,695.0 1279.0,695.8 1283.6,696.0 1288.1,697.0 1292.7,694.5" fill="none" stroke="none" marker-start="url(#mcK)" marker-mid="url(#mcK)" marker-end="url(#mcK)"/>
<path d="M744.8 471.0V751.5M739.8 746.5H1292.7" stroke="#404040" stroke-width="1" fill="none"/>
<path d="M739.8 746.5H744.8M739.8 707.1H744.8M739.8 667.8H744.8M739.8 628.4H744.8M739.8 589.1H744.8M739.8 549.7H744.8M739.8 510.4H744.8M739.8 471.0H744.8M836.1 746.5V751.5M927.4 746.5V751.5M1018.8 746.5V751.5M1110.1 746.5V751.5M1201.4 746.5V751.5M1292.7 746.5V751.5" stroke="#404040" stroke-width="1" fill="none"/>
<text x="732.0" y="750.9" font-size="15" text-anchor="end" class="r">-5</text>
<text x="732.0" y="711.5" font-size="15" text-anchor="end" class="r">0</text>
<text x="732.0" y="672.2" font-size="15" text-anchor="end" class="r">5</text>
<text x="732.0" y="632.8" font-size="15" text-anchor="end" class="r">10</text>
<text x="732.0" y="593.4" font-size="15" text-anchor="end" class="r">15</text>
<text x="732.0" y="554.1" font-size="15" text-anchor="end" class="r">20</text>
<text x="732.0" y="514.7" font-size="15" text-anchor="end" class="r">25</text>
<text x="732.0" y="475.4" font-size="15" text-anchor="end" class="r">30</text>
<text x="744.8" y="768.4" font-size="15" text-anchor="middle" class="r">0</text>
<text x="836.1" y="768.4" font-size="15" text-anchor="middle" class="r">100</text>
<text x="927.4" y="768.4" font-size="15" text-anchor="middle" class="r">200</text>
<text x="1018.8" y="768.4" font-size="15" text-anchor="middle" class="r">300</text>
<text x="1110.1" y="768.4" font-size="15" text-anchor="middle" class="r">400</text>
<text x="1201.4" y="768.4" font-size="15" text-anchor="middle" class="r">500</text>
<text x="1292.7" y="768.4" font-size="15" text-anchor="middle" class="r">600</text>
<text x="1018.5" y="788.7" font-size="16" font-weight="bold" text-anchor="middle">Time (s)</text>
<text transform="translate(711.5,608.3) rotate(-90)" font-size="16.24" font-weight="bold" text-anchor="middle" xml:space="preserve">Response  (%)</text>
<text x="1003" y="453" font-size="16" font-weight="bold" text-anchor="middle">MMS 2.67</text>
<text x="682" y="451.5" font-size="35" font-weight="bold">e</text>
<circle cx="804.9" cy="484.7" r="2.04" fill="#c00000"/>
<text x="813.3" y="489.9" font-size="15.5" class="r">A1</text>
<circle cx="847.1" cy="484.7" r="2.04" fill="#6aaa3e"/>
<text x="855.5" y="489.9" font-size="15.5" class="r">B1</text>
<path d="M889.5 482.4L891.8 484.7L889.5 487.0L887.2 484.7Z" fill="#6aaa3e"/>
<text x="897.9" y="489.9" font-size="15.5" class="r">B3</text>
<circle cx="930.9" cy="484.7" r="2.04" fill="#002060"/>
<text x="939.3" y="489.9" font-size="15.5" class="r">C1</text>
<rect x="971.4" y="482.8" width="3.9" height="3.9" fill="#002060"/>
<text x="981.7" y="489.9" font-size="15.5" class="r">C2</text>
<path d="M1016.8 482.4L1019.1 484.7L1016.8 487.0L1014.5 484.7Z" fill="#002060"/>
<text x="1025.2" y="489.9" font-size="15.5" class="r">C3</text>
<path d="M1059.6 482.3L1062.0 486.6L1057.2 486.6Z" fill="#002060"/>
<text x="1068.0" y="489.9" font-size="15.5" class="r">C4</text>
<circle cx="1102.1" cy="484.7" r="2.04" fill="#000000"/>
<text x="1110.5" y="489.9" font-size="15.5" class="r">D1</text>
<path d="M1144.9 482.4L1147.2 484.7L1144.9 487.0L1142.6 484.7Z" fill="#000000"/>
<text x="1153.3" y="489.9" font-size="15.5" class="r">D2</text>
<path d="M1187.8 482.3L1190.2 486.6L1185.4 486.6Z" fill="#000000"/>
<text x="1196.2" y="489.9" font-size="15.5" class="r">D3</text>
<circle cx="1230.1" cy="484.7" r="2.04" fill="#000000"/>
<text x="1238.5" y="489.9" font-size="15.5" class="r">D4</text>
<polyline points="1399.2,709.2 1403.9,710.2 1408.6,709.4 1413.3,710.1 1418.0,711.4 1422.7,711.6 1427.4,711.4 1432.1,712.2 1436.8,712.8 1441.5,712.9 1446.2,702.7 1450.8,696.2 1455.5,674.9 1460.2,657.6 1464.9,647.1 1469.6,641.7 1474.3,636.4 1479.0,631.6 1483.7,629.2 1488.4,626.9 1493.1,624.3 1497.8,622.4 1502.5,621.5 1507.2,620.5 1511.9,620.2 1516.6,618.3 1521.3,617.6 1526.0,616.4 1530.7,615.6 1535.4,615.4 1540.0,616.1 1544.7,615.4 1549.4,614.6 1554.1,613.3 1558.8,613.3 1563.5,611.7 1568.2,611.8 1572.9,611.4 1577.6,610.8 1582.3,610.7 1587.0,611.4 1591.7,609.2 1596.4,609.5 1601.1,609.4 1605.8,610.4 1610.5,610.8 1615.2,610.5 1619.9,610.2 1624.6,609.0 1629.3,608.9 1634.0,608.5 1638.6,608.1 1643.3,608.8 1648.0,608.8 1652.7,609.1 1657.4,609.0 1662.1,609.4 1666.8,608.4 1671.5,608.4 1676.2,608.7 1680.9,608.8 1685.6,608.1 1690.3,607.5 1695.0,608.0 1699.7,607.8 1704.4,608.1 1709.1,607.9 1713.8,607.9 1718.5,607.8 1723.2,608.0 1727.8,595.6 1732.5,606.1 1737.2,607.0 1741.9,606.2 1746.6,629.8 1751.3,656.1 1756.0,677.5 1760.7,690.4 1765.4,694.8 1770.1,699.0 1774.8,700.0 1779.5,701.9 1784.2,703.1 1788.9,703.6 1793.6,705.5 1798.3,708.6 1803.0,709.2 1807.7,709.0 1812.4,709.2 1817.1,710.7 1821.8,711.3 1826.4,711.9 1831.1,711.0 1835.8,712.5 1840.5,712.4 1845.2,712.1 1849.9,712.6 1854.6,713.2 1859.3,712.7 1864.0,714.1 1868.7,714.2 1873.4,713.9 1878.1,713.8 1882.8,714.1 1887.5,712.9 1892.2,714.4 1896.9,713.8 1901.6,714.5 1906.3,714.2 1911.0,714.6 1915.6,714.7 1920.3,713.7 1925.0,714.8 1929.7,713.8 1934.4,715.2 1939.1,715.1 1943.8,714.4 1948.5,716.3 1953.2,716.0 1957.9,715.1 1962.6,714.9" fill="none" stroke="none" marker-start="url(#mcR)" marker-mid="url(#mcR)" marker-end="url(#mcR)"/>
<polyline points="1399.2,707.8 1403.9,707.4 1408.6,707.7 1413.3,708.3 1418.0,708.2 1422.7,707.8 1427.4,708.0 1432.1,707.7 1436.8,708.6 1441.5,707.4 1446.2,722.0 1450.8,715.6 1455.5,697.9 1460.2,678.9 1464.9,670.3 1469.6,662.8 1474.3,655.8 1479.0,649.9 1483.7,644.9 1488.4,640.8 1493.1,638.0 1497.8,634.5 1502.5,632.1 1507.2,628.6 1511.9,625.9 1516.6,624.4 1521.3,622.9 1526.0,621.9 1530.7,619.9 1535.4,619.1 1540.0,617.0 1544.7,615.5 1549.4,614.6 1554.1,614.0 1558.8,612.9 1563.5,612.5 1568.2,611.5 1572.9,611.0 1577.6,610.6 1582.3,611.1 1587.0,609.9 1591.7,609.5 1596.4,609.7 1601.1,609.1 1605.8,608.8 1610.5,609.5 1615.2,608.4 1619.9,608.7 1624.6,608.7 1629.3,608.1 1634.0,608.3 1638.6,608.0 1643.3,608.1 1648.0,607.8 1652.7,607.9 1657.4,607.5 1662.1,607.6 1666.8,607.6 1671.5,606.8 1676.2,607.0 1680.9,606.8 1685.6,606.4 1690.3,606.7 1695.0,606.9 1699.7,607.4 1704.4,607.0 1709.1,607.2 1713.8,607.2 1718.5,607.7 1723.2,607.8 1727.8,616.0 1732.5,612.2 1737.2,611.6 1741.9,610.8 1746.6,627.1 1751.3,644.6 1756.0,657.5 1760.7,668.0 1765.4,673.1 1770.1,677.1 1774.8,680.8 1779.5,684.3 1784.2,687.7 1788.9,689.2 1793.6,690.5 1798.3,691.5 1803.0,692.1 1807.7,692.0 1812.4,691.8 1817.1,692.3 1821.8,692.9 1826.4,692.6 1831.1,692.4 1835.8,692.8 1840.5,693.0 1845.2,692.8 1849.9,693.6 1854.6,692.8 1859.3,693.1 1864.0,692.3 1868.7,691.8 1873.4,691.5 1878.1,691.3 1882.8,690.9 1887.5,690.4 1892.2,691.1 1896.9,685.7 1901.6,689.5 1906.3,689.2 1911.0,689.1 1915.6,688.9 1920.3,688.1 1925.0,688.2 1929.7,687.1 1934.4,687.0 1939.1,686.4 1943.8,686.8 1948.5,686.2 1953.2,685.6 1957.9,685.3 1962.6,684.4" fill="none" stroke="none" marker-start="url(#mcG)" marker-mid="url(#mcG)" marker-end="url(#mcG)"/>
<polyline points="1399.2,707.7 1403.9,708.4 1408.6,707.8 1413.3,708.4 1418.0,707.7 1422.7,708.5 1427.4,708.2 1432.1,708.2 1436.8,708.7 1441.5,707.8 1446.2,720.8 1450.8,715.2 1455.5,698.4 1460.2,679.2 1464.9,670.9 1469.6,662.9 1474.3,656.2 1479.0,650.5 1483.7,645.7 1488.4,642.1 1493.1,638.9 1497.8,635.6 1502.5,632.4 1507.2,629.2 1511.9,627.3 1516.6,625.2 1521.3,624.2 1526.0,621.9 1530.7,620.3 1535.4,618.4 1540.0,617.1 1544.7,616.5 1549.4,615.3 1554.1,614.4 1558.8,613.7 1563.5,612.6 1568.2,612.1 1572.9,611.3 1577.6,610.8 1582.3,610.7 1587.0,610.0 1591.7,610.4 1596.4,609.8 1601.1,609.6 1605.8,610.0 1610.5,609.1 1615.2,608.9 1619.9,608.4 1624.6,608.7 1629.3,608.4 1634.0,608.2 1638.6,608.7 1643.3,608.0 1648.0,608.4 1652.7,607.8 1657.4,607.5 1662.1,607.5 1666.8,608.1 1671.5,607.0 1676.2,607.3 1680.9,607.0 1685.6,607.5 1690.3,607.4 1695.0,606.7 1699.7,607.5 1704.4,607.8 1709.1,608.1 1713.8,607.9 1718.5,608.9 1723.2,608.5 1727.8,628.8 1732.5,618.2 1737.2,615.6 1741.9,618.6 1746.6,637.0 1751.3,663.6 1756.0,680.2 1760.7,691.5 1765.4,699.6 1770.1,703.2 1774.8,705.8 1779.5,707.9 1784.2,707.6 1788.9,707.9 1793.6,708.3 1798.3,708.0 1803.0,708.0 1807.7,708.4 1812.4,708.2 1817.1,707.9 1821.8,708.1 1826.4,707.5 1831.1,707.7 1835.8,707.8 1840.5,707.5 1845.2,707.4 1849.9,707.1 1854.6,706.3 1859.3,706.3 1864.0,706.6 1868.7,706.2 1873.4,705.3 1878.1,705.6 1882.8,705.2 1887.5,704.5 1892.2,704.7 1896.9,704.5 1901.6,704.3 1906.3,703.6 1911.0,703.9 1915.6,703.9 1920.3,703.2 1925.0,702.5 1929.7,702.7 1934.4,702.1 1939.1,702.0 1943.8,702.5 1948.5,701.9 1953.2,701.7 1957.9,701.4 1962.6,700.8" fill="none" stroke="none" marker-start="url(#mdG)" marker-mid="url(#mdG)" marker-end="url(#mdG)"/>
<polyline points="1399.2,707.2 1403.9,707.3 1408.6,706.9 1413.3,707.3 1418.0,707.8 1422.7,707.3 1427.4,707.1 1432.1,706.9 1436.8,706.6 1441.5,707.8 1446.2,713.3 1450.8,694.5 1455.5,672.6 1460.2,658.7 1464.9,648.1 1469.6,641.5 1474.3,636.1 1479.0,631.9 1483.7,628.3 1488.4,625.7 1493.1,624.0 1497.8,622.3 1502.5,619.6 1507.2,618.1 1511.9,617.4 1516.6,616.4 1521.3,615.1 1526.0,614.2 1530.7,613.2 1535.4,612.4 1540.0,612.3 1544.7,612.7 1549.4,611.1 1554.1,611.0 1558.8,611.1 1563.5,609.7 1568.2,609.0 1572.9,609.4 1577.6,608.7 1582.3,608.3 1587.0,608.3 1591.7,608.0 1596.4,608.1 1601.1,608.0 1605.8,607.8 1610.5,607.4 1615.2,607.4 1619.9,607.7 1624.6,607.5 1629.3,607.1 1634.0,607.0 1638.6,607.1 1643.3,606.7 1648.0,607.0 1652.7,606.1 1657.4,606.6 1662.1,605.4 1666.8,606.2 1671.5,606.7 1676.2,605.8 1680.9,606.1 1685.6,606.0 1690.3,605.7 1695.0,604.7 1699.7,605.0 1704.4,605.0 1709.1,604.8 1713.8,604.1 1718.5,603.7 1723.2,603.8 1727.8,610.5 1732.5,603.9 1737.2,604.1 1741.9,605.6 1746.6,626.5 1751.3,645.8 1756.0,657.6 1760.7,667.7 1765.4,674.7 1770.1,679.6 1774.8,683.4 1779.5,685.2 1784.2,687.9 1788.9,688.2 1793.6,690.0 1798.3,690.6 1803.0,691.9 1807.7,692.7 1812.4,693.6 1817.1,693.9 1821.8,695.5 1826.4,695.5 1831.1,695.6 1835.8,696.4 1840.5,695.9 1845.2,697.4 1849.9,696.6 1854.6,697.8 1859.3,698.5 1864.0,697.5 1868.7,698.7 1873.4,698.0 1878.1,697.6 1882.8,697.6 1887.5,697.8 1892.2,698.3 1896.9,698.2 1901.6,698.7 1906.3,698.5 1911.0,698.6 1915.6,698.6 1920.3,697.9 1925.0,698.5 1929.7,698.6 1934.4,698.7 1939.1,698.0 1943.8,698.5 1948.5,698.3 1953.2,698.4 1957.9,698.5 1962.6,698.2" fill="none" stroke="none" marker-start="url(#mcN)" marker-mid="url(#mcN)" marker-end="url(#mcN)"/>
<polyline points="1399.2,707.5 1403.9,707.7 1408.6,707.3 1413.3,707.6 1418.0,707.3 1422.7,706.4 1427.4,707.2 1432.1,707.1 1436.8,707.7 1441.5,707.7 1446.2,708.8 1450.8,694.9 1455.5,673.7 1460.2,659.0 1464.9,648.7 1469.6,641.9 1474.3,636.8 1479.0,632.2 1483.7,630.2 1488.4,626.9 1493.1,624.9 1497.8,622.5 1502.5,621.6 1507.2,619.2 1511.9,618.7 1516.6,616.9 1521.3,616.4 1526.0,615.1 1530.7,614.3 1535.4,614.3 1540.0,613.4 1544.7,612.6 1549.4,612.3 1554.1,611.4 1558.8,611.0 1563.5,611.2 1568.2,611.3 1572.9,610.3 1577.6,609.5 1582.3,609.8 1587.0,609.6 1591.7,609.4 1596.4,608.9 1601.1,608.4 1605.8,609.5 1610.5,608.4 1615.2,608.8 1619.9,609.0 1624.6,608.0 1629.3,608.4 1634.0,608.4 1638.6,608.1 1643.3,608.4 1648.0,607.7 1652.7,608.1 1657.4,607.0 1662.1,607.4 1666.8,607.6 1671.5,607.4 1676.2,607.6 1680.9,606.9 1685.6,606.7 1690.3,607.4 1695.0,606.4 1699.7,605.8 1704.4,605.2 1709.1,605.2 1713.8,604.9 1718.5,604.4 1723.2,604.0 1727.8,611.2 1732.5,604.7 1737.2,604.9 1741.9,605.7 1746.6,628.4 1751.3,645.8 1756.0,658.4 1760.7,668.3 1765.4,674.7 1770.1,681.3 1774.8,683.9 1779.5,686.9 1784.2,688.4 1788.9,689.9 1793.6,690.8 1798.3,691.8 1803.0,692.9 1807.7,693.2 1812.4,694.9 1817.1,695.0 1821.8,696.0 1826.4,696.7 1831.1,696.8 1835.8,697.7 1840.5,697.1 1845.2,697.3 1849.9,698.3 1854.6,698.9 1859.3,698.3 1864.0,698.7 1868.7,698.5 1873.4,699.1 1878.1,698.7 1882.8,698.6 1887.5,698.1 1892.2,699.2 1896.9,698.6 1901.6,699.2 1906.3,698.9 1911.0,698.4 1915.6,699.6 1920.3,699.6 1925.0,699.1 1929.7,699.2 1934.4,698.4 1939.1,699.5 1943.8,698.4 1948.5,699.2 1953.2,698.8 1957.9,699.4 1962.6,699.7" fill="none" stroke="none" marker-start="url(#mdN)" marker-mid="url(#mdN)" marker-end="url(#mdN)"/>
<polyline points="1399.2,707.8 1403.9,707.0 1408.6,707.6 1413.3,707.3 1418.0,707.7 1422.7,706.5 1427.4,707.7 1432.1,707.3 1436.8,707.5 1441.5,706.5 1446.2,708.8 1450.8,694.8 1455.5,673.1 1460.2,658.9 1464.9,648.2 1469.6,641.4 1474.3,636.2 1479.0,631.4 1483.7,629.2 1488.4,625.7 1493.1,623.2 1497.8,621.5 1502.5,619.4 1507.2,618.5 1511.9,617.0 1516.6,616.5 1521.3,614.7 1526.0,615.4 1530.7,613.6 1535.4,613.4 1540.0,612.1 1544.7,612.3 1549.4,611.4 1554.1,610.7 1558.8,610.8 1563.5,610.0 1568.2,609.4 1572.9,609.4 1577.6,609.1 1582.3,608.6 1587.0,607.7 1591.7,608.5 1596.4,607.7 1601.1,608.6 1605.8,608.1 1610.5,607.6 1615.2,607.2 1619.9,607.4 1624.6,607.1 1629.3,607.7 1634.0,607.4 1638.6,606.7 1643.3,606.8 1648.0,606.8 1652.7,607.3 1657.4,606.0 1662.1,605.9 1666.8,606.4 1671.5,606.1 1676.2,606.6 1680.9,605.7 1685.6,605.7 1690.3,605.7 1695.0,606.2 1699.7,605.4 1704.4,605.2 1709.1,603.8 1713.8,604.1 1718.5,603.0 1723.2,603.4 1727.8,610.5 1732.5,603.9 1737.2,603.6 1741.9,604.5 1746.6,628.6 1751.3,646.5 1756.0,659.4 1760.7,670.4 1765.4,678.9 1770.1,684.6 1774.8,688.5 1779.5,690.9 1784.2,692.2 1788.9,692.9 1793.6,694.0 1798.3,695.7 1803.0,696.8 1807.7,697.2 1812.4,698.2 1817.1,698.7 1821.8,699.6 1826.4,700.2 1831.1,700.0 1835.8,701.2 1840.5,700.9 1845.2,701.9 1849.9,701.8 1854.6,702.2 1859.3,702.3 1864.0,702.6 1868.7,701.9 1873.4,702.6 1878.1,702.7 1882.8,702.7 1887.5,702.0 1892.2,702.8 1896.9,703.0 1901.6,703.2 1906.3,702.7 1911.0,702.9 1915.6,702.9 1920.3,702.7 1925.0,702.1 1929.7,702.6 1934.4,702.5 1939.1,703.1 1943.8,702.6 1948.5,702.6 1953.2,702.7 1957.9,702.6 1962.6,703.3" fill="none" stroke="none" marker-start="url(#mtN)" marker-mid="url(#mtN)" marker-end="url(#mtN)"/>
<polyline points="1399.2,706.6 1403.9,707.0 1408.6,707.2 1413.3,708.1 1418.0,706.8 1422.7,706.3 1427.4,706.3 1432.1,707.0 1436.8,707.4 1441.5,706.9 1446.2,708.8 1450.8,693.4 1455.5,669.7 1460.2,654.2 1464.9,642.6 1469.6,636.3 1474.3,630.2 1479.0,625.1 1483.7,621.4 1488.4,618.8 1493.1,616.7 1497.8,614.2 1502.5,612.1 1507.2,611.0 1511.9,610.0 1516.6,607.8 1521.3,607.1 1526.0,606.7 1530.7,605.8 1535.4,605.3 1540.0,603.8 1544.7,604.0 1549.4,603.6 1554.1,602.7 1558.8,601.3 1563.5,602.9 1568.2,601.8 1572.9,600.5 1577.6,600.4 1582.3,600.1 1587.0,599.9 1591.7,599.9 1596.4,599.3 1601.1,599.1 1605.8,599.2 1610.5,599.3 1615.2,599.0 1619.9,599.1 1624.6,598.1 1629.3,598.1 1634.0,597.6 1638.6,597.3 1643.3,597.7 1648.0,597.3 1652.7,597.5 1657.4,597.0 1662.1,597.6 1666.8,597.0 1671.5,597.1 1676.2,596.8 1680.9,596.8 1685.6,597.3 1690.3,596.3 1695.0,596.8 1699.7,597.2 1704.4,596.8 1709.1,597.5 1713.8,597.8 1718.5,597.0 1723.2,597.2 1727.8,604.8 1732.5,597.8 1737.2,597.5 1741.9,598.5 1746.6,621.5 1751.3,640.2 1756.0,652.2 1760.7,661.9 1765.4,669.2 1770.1,674.5 1774.8,678.1 1779.5,680.1 1784.2,682.1 1788.9,683.3 1793.6,684.6 1798.3,685.8 1803.0,687.0 1807.7,687.7 1812.4,688.5 1817.1,690.9 1821.8,690.9 1826.4,690.7 1831.1,691.0 1835.8,691.3 1840.5,692.4 1845.2,692.6 1849.9,693.1 1854.6,692.5 1859.3,693.1 1864.0,694.0 1868.7,693.4 1873.4,693.6 1878.1,693.1 1882.8,693.7 1887.5,693.7 1892.2,693.7 1896.9,693.2 1901.6,693.9 1906.3,693.8 1911.0,693.9 1915.6,693.7 1920.3,693.2 1925.0,693.5 1929.7,693.1 1934.4,693.5 1939.1,693.8 1943.8,693.1 1948.5,693.8 1953.2,693.1 1957.9,693.6 1962.6,694.2" fill="none" stroke="none" marker-start="url(#mtK)" marker-mid="url(#mtK)" marker-end="url(#mtK)"/>
<polyline points="1399.2,707.7 1403.9,707.3 1408.6,707.7 1413.3,707.0 1418.0,706.9 1422.7,707.3 1427.4,707.5 1432.1,707.3 1436.8,707.4 1441.5,707.6 1446.2,708.8 1450.8,694.4 1455.5,672.6 1460.2,658.4 1464.9,648.1 1469.6,642.1 1474.3,636.0 1479.0,631.9 1483.7,628.1 1488.4,625.8 1493.1,624.1 1497.8,621.2 1502.5,619.6 1507.2,618.6 1511.9,617.9 1516.6,616.5 1521.3,615.3 1526.0,614.4 1530.7,614.0 1535.4,613.3 1540.0,611.8 1544.7,612.6 1549.4,610.8 1554.1,611.3 1558.8,610.0 1563.5,609.8 1568.2,609.4 1572.9,609.2 1577.6,608.3 1582.3,608.5 1587.0,608.4 1591.7,608.7 1596.4,607.9 1601.1,607.7 1605.8,607.9 1610.5,608.0 1615.2,607.4 1619.9,607.3 1624.6,607.4 1629.3,606.6 1634.0,606.8 1638.6,607.5 1643.3,607.2 1648.0,606.0 1652.7,606.5 1657.4,606.3 1662.1,606.7 1666.8,606.4 1671.5,606.4 1676.2,606.6 1680.9,606.6 1685.6,605.9 1690.3,605.7 1695.0,605.8 1699.7,605.1 1704.4,604.9 1709.1,603.3 1713.8,604.2 1718.5,602.6 1723.2,603.5 1727.8,610.5 1732.5,603.9 1737.2,604.0 1741.9,604.4 1746.6,628.5 1751.3,648.0 1756.0,661.5 1760.7,673.0 1765.4,681.3 1770.1,686.9 1774.8,692.0 1779.5,693.9 1784.2,695.8 1788.9,697.3 1793.6,698.5 1798.3,699.7 1803.0,700.7 1807.7,701.6 1812.4,701.5 1817.1,702.0 1821.8,703.3 1826.4,703.1 1831.1,704.9 1835.8,704.1 1840.5,705.3 1845.2,705.3 1849.9,705.9 1854.6,705.8 1859.3,705.7 1864.0,706.4 1868.7,706.0 1873.4,705.8 1878.1,705.8 1882.8,706.0 1887.5,706.1 1892.2,706.4 1896.9,706.4 1901.6,706.6 1906.3,707.0 1911.0,706.7 1915.6,706.7 1920.3,705.9 1925.0,706.5 1929.7,706.2 1934.4,706.9 1939.1,706.7 1943.8,706.6 1948.5,706.6 1953.2,706.3 1957.9,707.1 1962.6,706.4" fill="none" stroke="none" marker-start="url(#msK)" marker-mid="url(#msK)" marker-end="url(#msK)"/>
<polyline points="1399.2,707.0 1403.9,708.1 1408.6,707.6 1413.3,707.0 1418.0,707.3 1422.7,707.7 1427.4,707.3 1432.1,707.4 1436.8,707.6 1441.5,707.7 1446.2,708.8 1450.8,694.6 1455.5,673.9 1460.2,658.6 1464.9,648.0 1469.6,641.6 1474.3,635.6 1479.0,631.9 1483.7,628.4 1488.4,625.5 1493.1,623.8 1497.8,621.8 1502.5,619.9 1507.2,618.5 1511.9,617.4 1516.6,616.3 1521.3,615.4 1526.0,614.9 1530.7,613.6 1535.4,612.9 1540.0,612.4 1544.7,611.8 1549.4,611.2 1554.1,610.3 1558.8,610.9 1563.5,609.8 1568.2,609.8 1572.9,608.5 1577.6,608.8 1582.3,608.8 1587.0,608.1 1591.7,608.4 1596.4,608.0 1601.1,608.1 1605.8,607.2 1610.5,607.4 1615.2,607.4 1619.9,607.4 1624.6,607.8 1629.3,607.2 1634.0,607.2 1638.6,607.7 1643.3,606.4 1648.0,607.1 1652.7,607.1 1657.4,606.2 1662.1,606.4 1666.8,606.6 1671.5,605.9 1676.2,605.8 1680.9,606.2 1685.6,605.7 1690.3,605.7 1695.0,605.2 1699.7,604.4 1704.4,604.8 1709.1,604.3 1713.8,603.8 1718.5,603.9 1723.2,603.3 1727.8,610.5 1732.5,603.9 1737.2,604.6 1741.9,604.9 1746.6,627.5 1751.3,646.7 1756.0,659.9 1760.7,671.2 1765.4,678.2 1770.1,683.8 1774.8,687.8 1779.5,690.5 1784.2,691.7 1788.9,693.5 1793.6,694.9 1798.3,695.5 1803.0,696.1 1807.7,697.4 1812.4,699.1 1817.1,698.2 1821.8,699.6 1826.4,699.7 1831.1,701.0 1835.8,700.6 1840.5,701.4 1845.2,702.0 1849.9,702.5 1854.6,702.4 1859.3,702.2 1864.0,702.6 1868.7,701.7 1873.4,702.6 1878.1,702.6 1882.8,702.1 1887.5,702.7 1892.2,702.6 1896.9,702.6 1901.6,702.5 1906.3,702.5 1911.0,702.5 1915.6,703.3 1920.3,702.9 1925.0,702.5 1929.7,702.8 1934.4,702.9 1939.1,703.2 1943.8,702.2 1948.5,703.0 1953.2,702.7 1957.9,703.5 1962.6,703.2" fill="none" stroke="none" marker-start="url(#mdK)" marker-mid="url(#mdK)" marker-end="url(#mdK)"/>
<polyline points="1399.2,707.6 1403.9,707.3 1408.6,706.9 1413.3,707.9 1418.0,707.3 1422.7,706.8 1427.4,707.1 1432.1,707.6 1436.8,707.6 1441.5,707.3 1446.2,708.8 1450.8,694.3 1455.5,671.8 1460.2,657.9 1464.9,646.7 1469.6,640.1 1474.3,633.8 1479.0,630.0 1483.7,626.3 1488.4,624.0 1493.1,621.8 1497.8,619.7 1502.5,618.5 1507.2,616.9 1511.9,615.6 1516.6,614.4 1521.3,613.8 1526.0,613.2 1530.7,612.4 1535.4,611.4 1540.0,610.0 1544.7,609.7 1549.4,609.2 1554.1,608.8 1558.8,608.2 1563.5,608.7 1568.2,607.4 1572.9,607.3 1577.6,606.9 1582.3,606.5 1587.0,606.1 1591.7,606.1 1596.4,606.5 1601.1,606.1 1605.8,605.5 1610.5,605.6 1615.2,604.9 1619.9,605.2 1624.6,604.3 1629.3,605.4 1634.0,604.9 1638.6,604.2 1643.3,604.6 1648.0,604.7 1652.7,604.8 1657.4,605.1 1662.1,604.1 1666.8,604.4 1671.5,603.8 1676.2,603.9 1680.9,603.6 1685.6,603.6 1690.3,603.3 1695.0,603.0 1699.7,603.3 1704.4,603.7 1709.1,602.5 1713.8,601.9 1718.5,602.3 1723.2,602.2 1727.8,609.0 1732.5,602.4 1737.2,602.4 1741.9,603.1 1746.6,625.7 1751.3,643.8 1756.0,655.5 1760.7,665.8 1765.4,672.5 1770.1,676.9 1774.8,680.5 1779.5,682.9 1784.2,684.2 1788.9,685.8 1793.6,687.5 1798.3,688.3 1803.0,689.0 1807.7,689.6 1812.4,691.4 1817.1,692.1 1821.8,692.2 1826.4,692.7 1831.1,692.6 1835.8,693.9 1840.5,693.6 1845.2,693.9 1849.9,694.0 1854.6,694.4 1859.3,694.4 1864.0,694.8 1868.7,695.0 1873.4,694.7 1878.1,695.3 1882.8,694.7 1887.5,695.3 1892.2,695.2 1896.9,695.9 1901.6,695.2 1906.3,694.7 1911.0,695.2 1915.6,695.0 1920.3,696.1 1925.0,695.3 1929.7,695.2 1934.4,695.9 1939.1,695.6 1943.8,694.9 1948.5,695.3 1953.2,695.6 1957.9,695.3 1962.6,695.6" fill="none" stroke="none" marker-start="url(#mcK)" marker-mid="url(#mcK)" marker-end="url(#mcK)"/>
<path d="M1399.2 482.4V751.5M1394.2 746.5H1962.6" stroke="#404040" stroke-width="1" fill="none"/>
<path d="M1394.2 746.5H1399.2M1394.2 708.8H1399.2M1394.2 671.0H1399.2M1394.2 633.3H1399.2M1394.2 595.6H1399.2M1394.2 557.9H1399.2M1394.2 520.1H1399.2M1394.2 482.4H1399.2M1493.1 746.5V751.5M1587.0 746.5V751.5M1680.9 746.5V751.5M1774.8 746.5V751.5M1868.7 746.5V751.5M1962.6 746.5V751.5" stroke="#404040" stroke-width="1" fill="none"/>
<text x="1386.4" y="750.9" font-size="15" text-anchor="end" class="r">-5</text>
<text x="1386.4" y="713.1" font-size="15" text-anchor="end" class="r">0</text>
<text x="1386.4" y="675.4" font-size="15" text-anchor="end" class="r">5</text>
<text x="1386.4" y="637.7" font-size="15" text-anchor="end" class="r">10</text>
<text x="1386.4" y="600.0" font-size="15" text-anchor="end" class="r">15</text>
<text x="1386.4" y="562.2" font-size="15" text-anchor="end" class="r">20</text>
<text x="1386.4" y="524.5" font-size="15" text-anchor="end" class="r">25</text>
<text x="1386.4" y="486.8" font-size="15" text-anchor="end" class="r">30</text>
<text x="1399.2" y="768.7" font-size="15" text-anchor="middle" class="r">0</text>
<text x="1493.1" y="768.7" font-size="15" text-anchor="middle" class="r">100</text>
<text x="1587.0" y="768.7" font-size="15" text-anchor="middle" class="r">200</text>
<text x="1680.9" y="768.7" font-size="15" text-anchor="middle" class="r">300</text>
<text x="1774.8" y="768.7" font-size="15" text-anchor="middle" class="r">400</text>
<text x="1868.7" y="768.7" font-size="15" text-anchor="middle" class="r">500</text>
<text x="1962.6" y="768.7" font-size="15" text-anchor="middle" class="r">600</text>
<text x="1680.6" y="790.5" font-size="16" font-weight="bold" text-anchor="middle">Time (s)</text>
<text transform="translate(1364.5,614) rotate(-90)" font-size="16.24" font-weight="bold" text-anchor="middle" xml:space="preserve">Response  (%)</text>
<text x="1659.5" y="464.7" font-size="16" font-weight="bold" text-anchor="middle">MMS 2.8</text>
<text x="1346.4" y="450.9" font-size="35" font-weight="bold">f</text>
<circle cx="1461.1" cy="484.2" r="2.04" fill="#c00000"/>
<text x="1469.6" y="489.6" font-size="15.5" class="r">A1</text>
<circle cx="1504.2" cy="484.2" r="2.04" fill="#6aaa3e"/>
<text x="1512.7" y="489.6" font-size="15.5" class="r">B1</text>
<path d="M1548.9 481.9L1551.2 484.2L1548.9 486.5L1546.6 484.2Z" fill="#6aaa3e"/>
<text x="1557.4" y="489.6" font-size="15.5" class="r">B3</text>
<circle cx="1592.6" cy="484.2" r="2.04" fill="#002060"/>
<text x="1601.1" y="489.6" font-size="15.5" class="r">C1</text>
<path d="M1637.1 481.9L1639.4 484.2L1637.1 486.5L1634.8 484.2Z" fill="#002060"/>
<text x="1645.6" y="489.6" font-size="15.5" class="r">C3</text>
<path d="M1681.9 481.8L1684.3 486.1L1679.5 486.1Z" fill="#002060"/>
<text x="1690.4" y="489.6" font-size="15.5" class="r">C4</text>
<circle cx="1726.8" cy="484.2" r="2.04" fill="#000000"/>
<text x="1735.3" y="489.6" font-size="15.5" class="r">D1</text>
<rect x="1769.4" y="482.3" width="3.9" height="3.9" fill="#000000"/>
<text x="1779.8" y="489.6" font-size="15.5" class="r">D2</text>
<path d="M1816.0 481.9L1818.3 484.2L1816.0 486.5L1813.7 484.2Z" fill="#000000"/>
<text x="1824.5" y="489.6" font-size="15.5" class="r">D3</text>
<path d="M1860.7 481.8L1863.1 486.1L1858.3 486.1Z" fill="#000000"/>
<text x="1869.2" y="489.6" font-size="15.5" class="r">D4</text></svg></body></html>
